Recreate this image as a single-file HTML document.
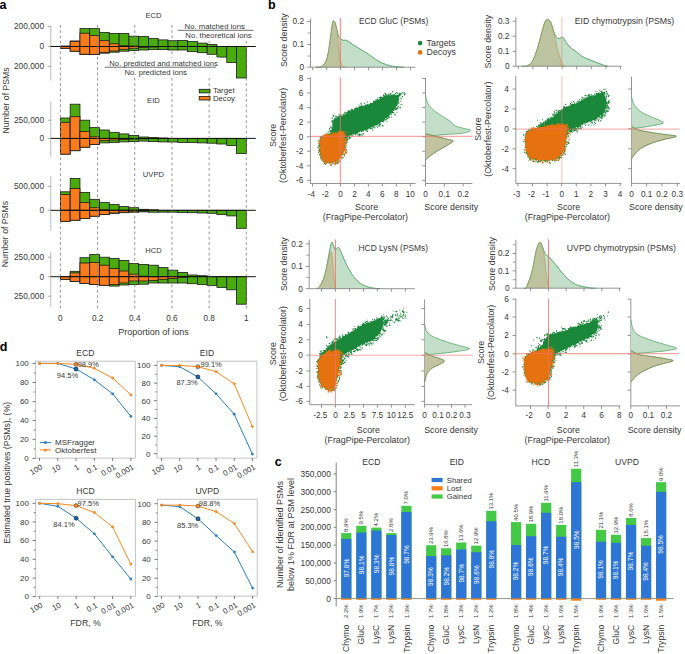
<!DOCTYPE html>
<html><head><meta charset="utf-8"><style>
html,body{margin:0;padding:0;background:#fff;}
body{width:685px;height:654px;overflow:hidden;}
svg{display:block;font-family:"Liberation Sans", sans-serif;}
</style></head><body>
<svg width="685" height="654" viewBox="0 0 685 654">
<rect width="685" height="654" fill="#fff"/>
<text x="-0.50" y="8.80" font-size="12.5" text-anchor="start" fill="#000" font-weight="bold">a</text>
<line x1="50.80" y1="25.70" x2="50.80" y2="80.50" stroke="#bdbdbd" stroke-width="1"/>
<line x1="48.20" y1="26.40" x2="50.80" y2="26.40" stroke="#888" stroke-width="0.8"/>
<text x="44.00" y="29.39" font-size="8.3" text-anchor="end" fill="#383838" font-weight="normal">200,000</text>
<line x1="48.20" y1="46.50" x2="50.80" y2="46.50" stroke="#888" stroke-width="0.8"/>
<text x="44.00" y="49.49" font-size="8.3" text-anchor="end" fill="#383838" font-weight="normal">0</text>
<line x1="48.20" y1="66.20" x2="50.80" y2="66.20" stroke="#888" stroke-width="0.8"/>
<text x="44.00" y="69.19" font-size="8.3" text-anchor="end" fill="#383838" font-weight="normal">200,000</text>
<text x="153.40" y="18.24" font-size="7.6" text-anchor="middle" fill="#383838" font-weight="normal">ECD</text>
<rect x="60.40" y="46.50" width="9.78" height="1.80" fill="#4aab0c" stroke="#1b1b1b" stroke-width="0.8"/>
<rect x="60.40" y="46.00" width="9.78" height="0.50" fill="#fa7b1c" stroke="#1b1b1b" stroke-width="0.8"/>
<rect x="60.40" y="46.50" width="9.78" height="1.80" fill="#fa7b1c" stroke="#1b1b1b" stroke-width="0.8"/>
<rect x="70.18" y="41.00" width="9.78" height="5.50" fill="#4aab0c" stroke="#1b1b1b" stroke-width="0.8"/>
<rect x="70.18" y="46.50" width="9.78" height="4.70" fill="#4aab0c" stroke="#1b1b1b" stroke-width="0.8"/>
<rect x="70.18" y="41.30" width="9.78" height="5.20" fill="#fa7b1c" stroke="#1b1b1b" stroke-width="0.8"/>
<rect x="70.18" y="46.50" width="9.78" height="4.70" fill="#fa7b1c" stroke="#1b1b1b" stroke-width="0.8"/>
<rect x="79.97" y="28.60" width="9.78" height="17.90" fill="#4aab0c" stroke="#1b1b1b" stroke-width="0.8"/>
<rect x="79.97" y="46.50" width="9.78" height="7.90" fill="#4aab0c" stroke="#1b1b1b" stroke-width="0.8"/>
<rect x="79.97" y="33.20" width="9.78" height="13.30" fill="#fa7b1c" stroke="#1b1b1b" stroke-width="0.8"/>
<rect x="79.97" y="46.50" width="9.78" height="7.70" fill="#fa7b1c" stroke="#1b1b1b" stroke-width="0.8"/>
<rect x="89.75" y="28.60" width="9.78" height="17.90" fill="#4aab0c" stroke="#1b1b1b" stroke-width="0.8"/>
<rect x="89.75" y="46.50" width="9.78" height="7.90" fill="#4aab0c" stroke="#1b1b1b" stroke-width="0.8"/>
<rect x="89.75" y="35.40" width="9.78" height="11.10" fill="#fa7b1c" stroke="#1b1b1b" stroke-width="0.8"/>
<rect x="89.75" y="46.50" width="9.78" height="7.90" fill="#fa7b1c" stroke="#1b1b1b" stroke-width="0.8"/>
<rect x="99.54" y="32.50" width="9.78" height="14.00" fill="#4aab0c" stroke="#1b1b1b" stroke-width="0.8"/>
<rect x="99.54" y="46.50" width="9.78" height="6.70" fill="#4aab0c" stroke="#1b1b1b" stroke-width="0.8"/>
<rect x="99.54" y="40.70" width="9.78" height="5.80" fill="#fa7b1c" stroke="#1b1b1b" stroke-width="0.8"/>
<rect x="99.54" y="46.50" width="9.78" height="6.10" fill="#fa7b1c" stroke="#1b1b1b" stroke-width="0.8"/>
<rect x="109.32" y="33.50" width="9.78" height="13.00" fill="#4aab0c" stroke="#1b1b1b" stroke-width="0.8"/>
<rect x="109.32" y="46.50" width="9.78" height="5.70" fill="#4aab0c" stroke="#1b1b1b" stroke-width="0.8"/>
<rect x="109.32" y="43.80" width="9.78" height="2.70" fill="#fa7b1c" stroke="#1b1b1b" stroke-width="0.8"/>
<rect x="109.32" y="46.50" width="9.78" height="4.50" fill="#fa7b1c" stroke="#1b1b1b" stroke-width="0.8"/>
<rect x="119.11" y="33.50" width="9.78" height="13.00" fill="#4aab0c" stroke="#1b1b1b" stroke-width="0.8"/>
<rect x="119.11" y="46.50" width="9.78" height="4.70" fill="#4aab0c" stroke="#1b1b1b" stroke-width="0.8"/>
<rect x="119.11" y="45.70" width="9.78" height="0.80" fill="#fa7b1c" stroke="#1b1b1b" stroke-width="0.8"/>
<rect x="119.11" y="46.50" width="9.78" height="2.80" fill="#fa7b1c" stroke="#1b1b1b" stroke-width="0.8"/>
<rect x="128.89" y="36.20" width="9.78" height="10.30" fill="#4aab0c" stroke="#1b1b1b" stroke-width="0.8"/>
<rect x="128.89" y="46.50" width="9.78" height="4.00" fill="#4aab0c" stroke="#1b1b1b" stroke-width="0.8"/>
<rect x="128.89" y="46.00" width="9.78" height="0.50" fill="#fa7b1c" stroke="#1b1b1b" stroke-width="0.8"/>
<rect x="128.89" y="46.50" width="9.78" height="1.80" fill="#fa7b1c" stroke="#1b1b1b" stroke-width="0.8"/>
<rect x="138.67" y="36.50" width="9.78" height="10.00" fill="#4aab0c" stroke="#1b1b1b" stroke-width="0.8"/>
<rect x="138.67" y="46.50" width="9.78" height="3.50" fill="#4aab0c" stroke="#1b1b1b" stroke-width="0.8"/>
<rect x="138.67" y="46.50" width="9.78" height="1.10" fill="#fa7b1c" stroke="#1b1b1b" stroke-width="0.8"/>
<rect x="148.46" y="38.60" width="9.78" height="7.90" fill="#4aab0c" stroke="#1b1b1b" stroke-width="0.8"/>
<rect x="148.46" y="46.50" width="9.78" height="3.00" fill="#4aab0c" stroke="#1b1b1b" stroke-width="0.8"/>
<rect x="148.46" y="46.50" width="9.78" height="0.50" fill="#fa7b1c" stroke="#1b1b1b" stroke-width="0.8"/>
<rect x="158.24" y="39.90" width="9.78" height="6.60" fill="#4aab0c" stroke="#1b1b1b" stroke-width="0.8"/>
<rect x="158.24" y="46.50" width="9.78" height="3.00" fill="#4aab0c" stroke="#1b1b1b" stroke-width="0.8"/>
<rect x="168.03" y="40.70" width="9.78" height="5.80" fill="#4aab0c" stroke="#1b1b1b" stroke-width="0.8"/>
<rect x="168.03" y="46.50" width="9.78" height="3.50" fill="#4aab0c" stroke="#1b1b1b" stroke-width="0.8"/>
<rect x="177.81" y="40.40" width="9.78" height="6.10" fill="#4aab0c" stroke="#1b1b1b" stroke-width="0.8"/>
<rect x="177.81" y="46.50" width="9.78" height="3.50" fill="#4aab0c" stroke="#1b1b1b" stroke-width="0.8"/>
<rect x="187.59" y="41.50" width="9.78" height="5.00" fill="#4aab0c" stroke="#1b1b1b" stroke-width="0.8"/>
<rect x="187.59" y="46.50" width="9.78" height="5.10" fill="#4aab0c" stroke="#1b1b1b" stroke-width="0.8"/>
<rect x="197.38" y="43.10" width="9.78" height="3.40" fill="#4aab0c" stroke="#1b1b1b" stroke-width="0.8"/>
<rect x="197.38" y="46.50" width="9.78" height="6.20" fill="#4aab0c" stroke="#1b1b1b" stroke-width="0.8"/>
<rect x="207.16" y="44.40" width="9.78" height="2.10" fill="#4aab0c" stroke="#1b1b1b" stroke-width="0.8"/>
<rect x="207.16" y="46.50" width="9.78" height="7.80" fill="#4aab0c" stroke="#1b1b1b" stroke-width="0.8"/>
<rect x="216.95" y="46.50" width="9.78" height="10.60" fill="#4aab0c" stroke="#1b1b1b" stroke-width="0.8"/>
<rect x="226.73" y="46.50" width="9.78" height="15.90" fill="#4aab0c" stroke="#1b1b1b" stroke-width="0.8"/>
<rect x="236.52" y="46.50" width="9.78" height="31.50" fill="#4aab0c" stroke="#1b1b1b" stroke-width="0.8"/>
<line x1="50.80" y1="46.50" x2="255.80" y2="46.50" stroke="#111" stroke-width="1.0"/>
<line x1="50.80" y1="101.40" x2="50.80" y2="156.90" stroke="#bdbdbd" stroke-width="1"/>
<line x1="48.20" y1="120.20" x2="50.80" y2="120.20" stroke="#888" stroke-width="0.8"/>
<text x="44.00" y="123.19" font-size="8.3" text-anchor="end" fill="#383838" font-weight="normal">250,000</text>
<line x1="48.20" y1="138.40" x2="50.80" y2="138.40" stroke="#888" stroke-width="0.8"/>
<text x="44.00" y="141.39" font-size="8.3" text-anchor="end" fill="#383838" font-weight="normal">0</text>
<text x="153.40" y="103.34" font-size="7.6" text-anchor="middle" fill="#383838" font-weight="normal">EID</text>
<rect x="60.40" y="118.00" width="9.78" height="20.40" fill="#4aab0c" stroke="#1b1b1b" stroke-width="0.8"/>
<rect x="60.40" y="138.40" width="9.78" height="15.70" fill="#4aab0c" stroke="#1b1b1b" stroke-width="0.8"/>
<rect x="60.40" y="122.30" width="9.78" height="16.10" fill="#fa7b1c" stroke="#1b1b1b" stroke-width="0.8"/>
<rect x="60.40" y="138.40" width="9.78" height="15.70" fill="#fa7b1c" stroke="#1b1b1b" stroke-width="0.8"/>
<rect x="70.18" y="104.20" width="9.78" height="34.20" fill="#4aab0c" stroke="#1b1b1b" stroke-width="0.8"/>
<rect x="70.18" y="138.40" width="9.78" height="12.30" fill="#4aab0c" stroke="#1b1b1b" stroke-width="0.8"/>
<rect x="70.18" y="116.70" width="9.78" height="21.70" fill="#fa7b1c" stroke="#1b1b1b" stroke-width="0.8"/>
<rect x="70.18" y="138.40" width="9.78" height="12.30" fill="#fa7b1c" stroke="#1b1b1b" stroke-width="0.8"/>
<rect x="79.97" y="120.20" width="9.78" height="18.20" fill="#4aab0c" stroke="#1b1b1b" stroke-width="0.8"/>
<rect x="79.97" y="138.40" width="9.78" height="8.80" fill="#4aab0c" stroke="#1b1b1b" stroke-width="0.8"/>
<rect x="79.97" y="131.60" width="9.78" height="6.80" fill="#fa7b1c" stroke="#1b1b1b" stroke-width="0.8"/>
<rect x="79.97" y="138.40" width="9.78" height="8.80" fill="#fa7b1c" stroke="#1b1b1b" stroke-width="0.8"/>
<rect x="89.75" y="127.60" width="9.78" height="10.80" fill="#4aab0c" stroke="#1b1b1b" stroke-width="0.8"/>
<rect x="89.75" y="138.40" width="9.78" height="6.10" fill="#4aab0c" stroke="#1b1b1b" stroke-width="0.8"/>
<rect x="89.75" y="136.80" width="9.78" height="1.60" fill="#fa7b1c" stroke="#1b1b1b" stroke-width="0.8"/>
<rect x="89.75" y="138.40" width="9.78" height="6.10" fill="#fa7b1c" stroke="#1b1b1b" stroke-width="0.8"/>
<rect x="99.54" y="130.00" width="9.78" height="8.40" fill="#4aab0c" stroke="#1b1b1b" stroke-width="0.8"/>
<rect x="99.54" y="138.40" width="9.78" height="4.50" fill="#4aab0c" stroke="#1b1b1b" stroke-width="0.8"/>
<rect x="99.54" y="138.40" width="9.78" height="2.10" fill="#fa7b1c" stroke="#1b1b1b" stroke-width="0.8"/>
<rect x="109.32" y="132.30" width="9.78" height="6.10" fill="#4aab0c" stroke="#1b1b1b" stroke-width="0.8"/>
<rect x="109.32" y="138.40" width="9.78" height="4.00" fill="#4aab0c" stroke="#1b1b1b" stroke-width="0.8"/>
<rect x="109.32" y="138.40" width="9.78" height="1.60" fill="#fa7b1c" stroke="#1b1b1b" stroke-width="0.8"/>
<rect x="119.11" y="133.90" width="9.78" height="4.50" fill="#4aab0c" stroke="#1b1b1b" stroke-width="0.8"/>
<rect x="119.11" y="138.40" width="9.78" height="3.50" fill="#4aab0c" stroke="#1b1b1b" stroke-width="0.8"/>
<rect x="119.11" y="138.40" width="9.78" height="1.10" fill="#fa7b1c" stroke="#1b1b1b" stroke-width="0.8"/>
<rect x="128.89" y="135.50" width="9.78" height="2.90" fill="#4aab0c" stroke="#1b1b1b" stroke-width="0.8"/>
<rect x="128.89" y="138.40" width="9.78" height="3.20" fill="#4aab0c" stroke="#1b1b1b" stroke-width="0.8"/>
<rect x="128.89" y="138.40" width="9.78" height="0.60" fill="#fa7b1c" stroke="#1b1b1b" stroke-width="0.8"/>
<rect x="138.67" y="137.00" width="9.78" height="1.40" fill="#4aab0c" stroke="#1b1b1b" stroke-width="0.8"/>
<rect x="138.67" y="138.40" width="9.78" height="2.70" fill="#4aab0c" stroke="#1b1b1b" stroke-width="0.8"/>
<rect x="138.67" y="138.40" width="9.78" height="0.40" fill="#fa7b1c" stroke="#1b1b1b" stroke-width="0.8"/>
<rect x="148.46" y="137.60" width="9.78" height="0.80" fill="#4aab0c" stroke="#1b1b1b" stroke-width="0.8"/>
<rect x="148.46" y="138.40" width="9.78" height="3.20" fill="#4aab0c" stroke="#1b1b1b" stroke-width="0.8"/>
<rect x="158.24" y="138.00" width="9.78" height="0.40" fill="#4aab0c" stroke="#1b1b1b" stroke-width="0.8"/>
<rect x="158.24" y="138.40" width="9.78" height="3.50" fill="#4aab0c" stroke="#1b1b1b" stroke-width="0.8"/>
<rect x="168.03" y="138.40" width="9.78" height="3.60" fill="#4aab0c" stroke="#1b1b1b" stroke-width="0.8"/>
<rect x="177.81" y="138.40" width="9.78" height="4.00" fill="#4aab0c" stroke="#1b1b1b" stroke-width="0.8"/>
<rect x="187.59" y="138.40" width="9.78" height="4.00" fill="#4aab0c" stroke="#1b1b1b" stroke-width="0.8"/>
<rect x="197.38" y="138.40" width="9.78" height="4.50" fill="#4aab0c" stroke="#1b1b1b" stroke-width="0.8"/>
<rect x="207.16" y="138.40" width="9.78" height="4.80" fill="#4aab0c" stroke="#1b1b1b" stroke-width="0.8"/>
<rect x="216.95" y="138.40" width="9.78" height="5.60" fill="#4aab0c" stroke="#1b1b1b" stroke-width="0.8"/>
<rect x="226.73" y="138.40" width="9.78" height="7.20" fill="#4aab0c" stroke="#1b1b1b" stroke-width="0.8"/>
<rect x="236.52" y="138.40" width="9.78" height="15.20" fill="#4aab0c" stroke="#1b1b1b" stroke-width="0.8"/>
<line x1="50.80" y1="138.40" x2="255.80" y2="138.40" stroke="#111" stroke-width="1.0"/>
<line x1="50.80" y1="176.00" x2="50.80" y2="231.00" stroke="#bdbdbd" stroke-width="1"/>
<line x1="48.20" y1="186.20" x2="50.80" y2="186.20" stroke="#888" stroke-width="0.8"/>
<text x="44.00" y="189.19" font-size="8.3" text-anchor="end" fill="#383838" font-weight="normal">500,000</text>
<line x1="48.20" y1="210.30" x2="50.80" y2="210.30" stroke="#888" stroke-width="0.8"/>
<text x="44.00" y="213.29" font-size="8.3" text-anchor="end" fill="#383838" font-weight="normal">0</text>
<text x="153.40" y="176.84" font-size="7.6" text-anchor="middle" fill="#383838" font-weight="normal">UVPD</text>
<rect x="60.40" y="191.80" width="9.78" height="18.50" fill="#4aab0c" stroke="#1b1b1b" stroke-width="0.8"/>
<rect x="60.40" y="210.30" width="9.78" height="11.00" fill="#4aab0c" stroke="#1b1b1b" stroke-width="0.8"/>
<rect x="60.40" y="194.50" width="9.78" height="15.80" fill="#fa7b1c" stroke="#1b1b1b" stroke-width="0.8"/>
<rect x="60.40" y="210.30" width="9.78" height="11.00" fill="#fa7b1c" stroke="#1b1b1b" stroke-width="0.8"/>
<rect x="70.18" y="178.50" width="9.78" height="31.80" fill="#4aab0c" stroke="#1b1b1b" stroke-width="0.8"/>
<rect x="70.18" y="210.30" width="9.78" height="9.90" fill="#4aab0c" stroke="#1b1b1b" stroke-width="0.8"/>
<rect x="70.18" y="188.60" width="9.78" height="21.70" fill="#fa7b1c" stroke="#1b1b1b" stroke-width="0.8"/>
<rect x="70.18" y="210.30" width="9.78" height="9.90" fill="#fa7b1c" stroke="#1b1b1b" stroke-width="0.8"/>
<rect x="79.97" y="192.40" width="9.78" height="17.90" fill="#4aab0c" stroke="#1b1b1b" stroke-width="0.8"/>
<rect x="79.97" y="210.30" width="9.78" height="8.30" fill="#4aab0c" stroke="#1b1b1b" stroke-width="0.8"/>
<rect x="79.97" y="202.60" width="9.78" height="7.70" fill="#fa7b1c" stroke="#1b1b1b" stroke-width="0.8"/>
<rect x="79.97" y="210.30" width="9.78" height="8.30" fill="#fa7b1c" stroke="#1b1b1b" stroke-width="0.8"/>
<rect x="89.75" y="199.30" width="9.78" height="11.00" fill="#4aab0c" stroke="#1b1b1b" stroke-width="0.8"/>
<rect x="89.75" y="210.30" width="9.78" height="5.90" fill="#4aab0c" stroke="#1b1b1b" stroke-width="0.8"/>
<rect x="89.75" y="207.70" width="9.78" height="2.60" fill="#fa7b1c" stroke="#1b1b1b" stroke-width="0.8"/>
<rect x="89.75" y="210.30" width="9.78" height="5.90" fill="#fa7b1c" stroke="#1b1b1b" stroke-width="0.8"/>
<rect x="99.54" y="202.60" width="9.78" height="7.70" fill="#4aab0c" stroke="#1b1b1b" stroke-width="0.8"/>
<rect x="99.54" y="210.30" width="9.78" height="4.30" fill="#4aab0c" stroke="#1b1b1b" stroke-width="0.8"/>
<rect x="99.54" y="209.80" width="9.78" height="0.50" fill="#fa7b1c" stroke="#1b1b1b" stroke-width="0.8"/>
<rect x="99.54" y="210.30" width="9.78" height="4.30" fill="#fa7b1c" stroke="#1b1b1b" stroke-width="0.8"/>
<rect x="109.32" y="204.50" width="9.78" height="5.80" fill="#4aab0c" stroke="#1b1b1b" stroke-width="0.8"/>
<rect x="109.32" y="210.30" width="9.78" height="3.00" fill="#4aab0c" stroke="#1b1b1b" stroke-width="0.8"/>
<rect x="109.32" y="210.30" width="9.78" height="2.70" fill="#fa7b1c" stroke="#1b1b1b" stroke-width="0.8"/>
<rect x="119.11" y="206.60" width="9.78" height="3.70" fill="#4aab0c" stroke="#1b1b1b" stroke-width="0.8"/>
<rect x="119.11" y="210.30" width="9.78" height="2.40" fill="#4aab0c" stroke="#1b1b1b" stroke-width="0.8"/>
<rect x="119.11" y="210.30" width="9.78" height="1.90" fill="#fa7b1c" stroke="#1b1b1b" stroke-width="0.8"/>
<rect x="128.89" y="207.70" width="9.78" height="2.60" fill="#4aab0c" stroke="#1b1b1b" stroke-width="0.8"/>
<rect x="128.89" y="210.30" width="9.78" height="1.90" fill="#4aab0c" stroke="#1b1b1b" stroke-width="0.8"/>
<rect x="128.89" y="210.30" width="9.78" height="1.50" fill="#fa7b1c" stroke="#1b1b1b" stroke-width="0.8"/>
<rect x="138.67" y="209.30" width="9.78" height="1.00" fill="#4aab0c" stroke="#1b1b1b" stroke-width="0.8"/>
<rect x="138.67" y="210.30" width="9.78" height="1.60" fill="#4aab0c" stroke="#1b1b1b" stroke-width="0.8"/>
<rect x="138.67" y="210.30" width="9.78" height="0.70" fill="#fa7b1c" stroke="#1b1b1b" stroke-width="0.8"/>
<rect x="148.46" y="209.80" width="9.78" height="0.50" fill="#4aab0c" stroke="#1b1b1b" stroke-width="0.8"/>
<rect x="148.46" y="210.30" width="9.78" height="1.90" fill="#4aab0c" stroke="#1b1b1b" stroke-width="0.8"/>
<rect x="158.24" y="210.30" width="9.78" height="1.90" fill="#4aab0c" stroke="#1b1b1b" stroke-width="0.8"/>
<rect x="168.03" y="210.30" width="9.78" height="1.90" fill="#4aab0c" stroke="#1b1b1b" stroke-width="0.8"/>
<rect x="177.81" y="210.30" width="9.78" height="2.20" fill="#4aab0c" stroke="#1b1b1b" stroke-width="0.8"/>
<rect x="187.59" y="210.30" width="9.78" height="2.40" fill="#4aab0c" stroke="#1b1b1b" stroke-width="0.8"/>
<rect x="197.38" y="210.30" width="9.78" height="2.70" fill="#4aab0c" stroke="#1b1b1b" stroke-width="0.8"/>
<rect x="207.16" y="210.30" width="9.78" height="3.00" fill="#4aab0c" stroke="#1b1b1b" stroke-width="0.8"/>
<rect x="216.95" y="210.30" width="9.78" height="4.30" fill="#4aab0c" stroke="#1b1b1b" stroke-width="0.8"/>
<rect x="226.73" y="210.30" width="9.78" height="5.60" fill="#4aab0c" stroke="#1b1b1b" stroke-width="0.8"/>
<rect x="236.52" y="210.30" width="9.78" height="18.00" fill="#4aab0c" stroke="#1b1b1b" stroke-width="0.8"/>
<line x1="50.80" y1="210.30" x2="255.80" y2="210.30" stroke="#111" stroke-width="1.0"/>
<line x1="50.80" y1="252.00" x2="50.80" y2="307.00" stroke="#bdbdbd" stroke-width="1"/>
<line x1="48.20" y1="257.20" x2="50.80" y2="257.20" stroke="#888" stroke-width="0.8"/>
<text x="44.00" y="260.19" font-size="8.3" text-anchor="end" fill="#383838" font-weight="normal">250,000</text>
<line x1="48.20" y1="276.70" x2="50.80" y2="276.70" stroke="#888" stroke-width="0.8"/>
<text x="44.00" y="279.69" font-size="8.3" text-anchor="end" fill="#383838" font-weight="normal">0</text>
<line x1="48.20" y1="296.20" x2="50.80" y2="296.20" stroke="#888" stroke-width="0.8"/>
<text x="44.00" y="299.19" font-size="8.3" text-anchor="end" fill="#383838" font-weight="normal">250,000</text>
<text x="153.40" y="253.14" font-size="7.6" text-anchor="middle" fill="#383838" font-weight="normal">HCD</text>
<rect x="60.40" y="276.70" width="9.78" height="2.60" fill="#4aab0c" stroke="#1b1b1b" stroke-width="0.8"/>
<rect x="60.40" y="276.70" width="9.78" height="2.60" fill="#fa7b1c" stroke="#1b1b1b" stroke-width="0.8"/>
<rect x="70.18" y="271.30" width="9.78" height="5.40" fill="#4aab0c" stroke="#1b1b1b" stroke-width="0.8"/>
<rect x="70.18" y="276.70" width="9.78" height="4.70" fill="#4aab0c" stroke="#1b1b1b" stroke-width="0.8"/>
<rect x="70.18" y="272.90" width="9.78" height="3.80" fill="#fa7b1c" stroke="#1b1b1b" stroke-width="0.8"/>
<rect x="70.18" y="276.70" width="9.78" height="4.70" fill="#fa7b1c" stroke="#1b1b1b" stroke-width="0.8"/>
<rect x="79.97" y="257.70" width="9.78" height="19.00" fill="#4aab0c" stroke="#1b1b1b" stroke-width="0.8"/>
<rect x="79.97" y="276.70" width="9.78" height="6.70" fill="#4aab0c" stroke="#1b1b1b" stroke-width="0.8"/>
<rect x="79.97" y="263.00" width="9.78" height="13.70" fill="#fa7b1c" stroke="#1b1b1b" stroke-width="0.8"/>
<rect x="79.97" y="276.70" width="9.78" height="6.70" fill="#fa7b1c" stroke="#1b1b1b" stroke-width="0.8"/>
<rect x="89.75" y="254.50" width="9.78" height="22.20" fill="#4aab0c" stroke="#1b1b1b" stroke-width="0.8"/>
<rect x="89.75" y="276.70" width="9.78" height="7.90" fill="#4aab0c" stroke="#1b1b1b" stroke-width="0.8"/>
<rect x="89.75" y="262.50" width="9.78" height="14.20" fill="#fa7b1c" stroke="#1b1b1b" stroke-width="0.8"/>
<rect x="89.75" y="276.70" width="9.78" height="7.90" fill="#fa7b1c" stroke="#1b1b1b" stroke-width="0.8"/>
<rect x="99.54" y="257.20" width="9.78" height="19.50" fill="#4aab0c" stroke="#1b1b1b" stroke-width="0.8"/>
<rect x="99.54" y="276.70" width="9.78" height="8.60" fill="#4aab0c" stroke="#1b1b1b" stroke-width="0.8"/>
<rect x="99.54" y="265.20" width="9.78" height="11.50" fill="#fa7b1c" stroke="#1b1b1b" stroke-width="0.8"/>
<rect x="99.54" y="276.70" width="9.78" height="8.60" fill="#fa7b1c" stroke="#1b1b1b" stroke-width="0.8"/>
<rect x="109.32" y="258.50" width="9.78" height="18.20" fill="#4aab0c" stroke="#1b1b1b" stroke-width="0.8"/>
<rect x="109.32" y="276.70" width="9.78" height="9.40" fill="#4aab0c" stroke="#1b1b1b" stroke-width="0.8"/>
<rect x="109.32" y="268.60" width="9.78" height="8.10" fill="#fa7b1c" stroke="#1b1b1b" stroke-width="0.8"/>
<rect x="109.32" y="276.70" width="9.78" height="7.90" fill="#fa7b1c" stroke="#1b1b1b" stroke-width="0.8"/>
<rect x="119.11" y="260.40" width="9.78" height="16.30" fill="#4aab0c" stroke="#1b1b1b" stroke-width="0.8"/>
<rect x="119.11" y="276.70" width="9.78" height="8.30" fill="#4aab0c" stroke="#1b1b1b" stroke-width="0.8"/>
<rect x="119.11" y="271.00" width="9.78" height="5.70" fill="#fa7b1c" stroke="#1b1b1b" stroke-width="0.8"/>
<rect x="119.11" y="276.70" width="9.78" height="6.30" fill="#fa7b1c" stroke="#1b1b1b" stroke-width="0.8"/>
<rect x="128.89" y="263.60" width="9.78" height="13.10" fill="#4aab0c" stroke="#1b1b1b" stroke-width="0.8"/>
<rect x="128.89" y="276.70" width="9.78" height="7.80" fill="#4aab0c" stroke="#1b1b1b" stroke-width="0.8"/>
<rect x="128.89" y="274.20" width="9.78" height="2.50" fill="#fa7b1c" stroke="#1b1b1b" stroke-width="0.8"/>
<rect x="128.89" y="276.70" width="9.78" height="4.30" fill="#fa7b1c" stroke="#1b1b1b" stroke-width="0.8"/>
<rect x="138.67" y="264.40" width="9.78" height="12.30" fill="#4aab0c" stroke="#1b1b1b" stroke-width="0.8"/>
<rect x="138.67" y="276.70" width="9.78" height="7.50" fill="#4aab0c" stroke="#1b1b1b" stroke-width="0.8"/>
<rect x="138.67" y="276.10" width="9.78" height="0.60" fill="#fa7b1c" stroke="#1b1b1b" stroke-width="0.8"/>
<rect x="138.67" y="276.70" width="9.78" height="4.30" fill="#fa7b1c" stroke="#1b1b1b" stroke-width="0.8"/>
<rect x="148.46" y="265.20" width="9.78" height="11.50" fill="#4aab0c" stroke="#1b1b1b" stroke-width="0.8"/>
<rect x="148.46" y="276.70" width="9.78" height="6.30" fill="#4aab0c" stroke="#1b1b1b" stroke-width="0.8"/>
<rect x="148.46" y="276.70" width="9.78" height="3.80" fill="#fa7b1c" stroke="#1b1b1b" stroke-width="0.8"/>
<rect x="158.24" y="267.60" width="9.78" height="9.10" fill="#4aab0c" stroke="#1b1b1b" stroke-width="0.8"/>
<rect x="158.24" y="276.70" width="9.78" height="6.30" fill="#4aab0c" stroke="#1b1b1b" stroke-width="0.8"/>
<rect x="158.24" y="276.70" width="9.78" height="2.60" fill="#fa7b1c" stroke="#1b1b1b" stroke-width="0.8"/>
<rect x="168.03" y="270.20" width="9.78" height="6.50" fill="#4aab0c" stroke="#1b1b1b" stroke-width="0.8"/>
<rect x="168.03" y="276.70" width="9.78" height="6.30" fill="#4aab0c" stroke="#1b1b1b" stroke-width="0.8"/>
<rect x="168.03" y="276.70" width="9.78" height="1.80" fill="#fa7b1c" stroke="#1b1b1b" stroke-width="0.8"/>
<rect x="177.81" y="272.40" width="9.78" height="4.30" fill="#4aab0c" stroke="#1b1b1b" stroke-width="0.8"/>
<rect x="177.81" y="276.70" width="9.78" height="6.30" fill="#4aab0c" stroke="#1b1b1b" stroke-width="0.8"/>
<rect x="177.81" y="276.70" width="9.78" height="0.80" fill="#fa7b1c" stroke="#1b1b1b" stroke-width="0.8"/>
<rect x="187.59" y="275.00" width="9.78" height="1.70" fill="#4aab0c" stroke="#1b1b1b" stroke-width="0.8"/>
<rect x="187.59" y="276.70" width="9.78" height="7.00" fill="#4aab0c" stroke="#1b1b1b" stroke-width="0.8"/>
<rect x="197.38" y="275.70" width="9.78" height="1.00" fill="#4aab0c" stroke="#1b1b1b" stroke-width="0.8"/>
<rect x="197.38" y="276.70" width="9.78" height="7.80" fill="#4aab0c" stroke="#1b1b1b" stroke-width="0.8"/>
<rect x="207.16" y="276.70" width="9.78" height="8.70" fill="#4aab0c" stroke="#1b1b1b" stroke-width="0.8"/>
<rect x="216.95" y="276.70" width="9.78" height="10.70" fill="#4aab0c" stroke="#1b1b1b" stroke-width="0.8"/>
<rect x="226.73" y="276.70" width="9.78" height="13.10" fill="#4aab0c" stroke="#1b1b1b" stroke-width="0.8"/>
<rect x="236.52" y="276.70" width="9.78" height="27.50" fill="#4aab0c" stroke="#1b1b1b" stroke-width="0.8"/>
<line x1="50.80" y1="276.70" x2="255.80" y2="276.70" stroke="#111" stroke-width="1.0"/>
<line x1="60.40" y1="24.90" x2="60.40" y2="310.50" stroke="#7a7a7a" stroke-width="0.8" stroke-dasharray="2.7,2.6"/>
<line x1="97.58" y1="24.90" x2="97.58" y2="310.50" stroke="#7a7a7a" stroke-width="0.8" stroke-dasharray="2.7,2.6"/>
<line x1="134.76" y1="24.90" x2="134.76" y2="310.50" stroke="#7a7a7a" stroke-width="0.8" stroke-dasharray="2.7,2.6"/>
<line x1="171.94" y1="24.90" x2="171.94" y2="310.50" stroke="#7a7a7a" stroke-width="0.8" stroke-dasharray="2.7,2.6"/>
<line x1="209.12" y1="24.90" x2="209.12" y2="310.50" stroke="#7a7a7a" stroke-width="0.8" stroke-dasharray="2.7,2.6"/>
<line x1="246.30" y1="24.90" x2="246.30" y2="310.50" stroke="#7a7a7a" stroke-width="0.8" stroke-dasharray="2.7,2.6"/>
<text x="60.40" y="321.35" font-size="8.2" text-anchor="middle" fill="#383838" font-weight="normal">0</text>
<text x="97.58" y="321.35" font-size="8.2" text-anchor="middle" fill="#383838" font-weight="normal">0.2</text>
<text x="134.76" y="321.35" font-size="8.2" text-anchor="middle" fill="#383838" font-weight="normal">0.4</text>
<text x="171.94" y="321.35" font-size="8.2" text-anchor="middle" fill="#383838" font-weight="normal">0.6</text>
<text x="209.12" y="321.35" font-size="8.2" text-anchor="middle" fill="#383838" font-weight="normal">0.8</text>
<text x="246.30" y="321.35" font-size="8.2" text-anchor="middle" fill="#383838" font-weight="normal">1</text>
<text x="153.40" y="334.84" font-size="9.0" text-anchor="middle" fill="#383838" font-weight="normal">Proportion of ions</text>
<text x="5.50" y="103.53" font-size="8.7" text-anchor="middle" fill="#383838" font-weight="normal" transform="rotate(-90 5.50 100.40)">Number of PSMs</text>
<text x="5.30" y="237.23" font-size="8.7" text-anchor="middle" fill="#383838" font-weight="normal" transform="rotate(-90 5.30 234.10)">Number of PSMs</text>
<rect x="176.50" y="21.00" width="78.50" height="18.60" fill="#fff" stroke="none" stroke-width="0"/>
<rect x="103.00" y="57.60" width="116.50" height="19.00" fill="#fff" stroke="none" stroke-width="0"/>
<text x="214.70" y="29.39" font-size="7.75" text-anchor="middle" fill="#383838" font-weight="normal">No. matched ions</text>
<line x1="177.80" y1="30.30" x2="253.50" y2="30.30" stroke="#333" stroke-width="0.7"/>
<text x="218.50" y="37.69" font-size="7.75" text-anchor="middle" fill="#383838" font-weight="normal">No. theoretical ions</text>
<text x="163.60" y="65.87" font-size="7.7" text-anchor="middle" fill="#383838" font-weight="normal">No. predicted and matched ions</text>
<line x1="104.70" y1="67.20" x2="216.00" y2="67.20" stroke="#333" stroke-width="0.7"/>
<text x="155.70" y="75.29" font-size="7.75" text-anchor="middle" fill="#383838" font-weight="normal">No. predicted ions</text>
<rect x="199.20" y="89.30" width="10.80" height="3.60" fill="#4aab0c" stroke="#1b1b1b" stroke-width="0.8"/>
<rect x="199.20" y="96.40" width="10.80" height="3.60" fill="#fa7b1c" stroke="#1b1b1b" stroke-width="0.8"/>
<text x="212.90" y="93.41" font-size="7.8" text-anchor="start" fill="#383838" font-weight="normal">Target</text>
<text x="212.90" y="100.81" font-size="7.8" text-anchor="start" fill="#383838" font-weight="normal">Decoy</text>
<text x="267.90" y="9.00" font-size="12.5" text-anchor="start" fill="#000" font-weight="bold">b</text>
<line x1="310.50" y1="18.40" x2="310.50" y2="67.20" stroke="#7a7a7a" stroke-width="0.8"/>
<line x1="307.20" y1="21.50" x2="310.50" y2="21.50" stroke="#7a7a7a" stroke-width="0.8"/>
<text x="304.10" y="24.49" font-size="8.3" text-anchor="end" fill="#383838" font-weight="normal">0.2</text>
<line x1="307.20" y1="44.50" x2="310.50" y2="44.50" stroke="#7a7a7a" stroke-width="0.8"/>
<text x="304.10" y="47.49" font-size="8.3" text-anchor="end" fill="#383838" font-weight="normal">0.1</text>
<line x1="307.20" y1="67.10" x2="310.50" y2="67.10" stroke="#7a7a7a" stroke-width="0.8"/>
<text x="304.10" y="70.09" font-size="8.3" text-anchor="end" fill="#383838" font-weight="normal">0</text>
<line x1="307.50" y1="33.00" x2="310.50" y2="33.00" stroke="#7a7a7a" stroke-width="0.7"/>
<line x1="307.50" y1="56.00" x2="310.50" y2="56.00" stroke="#7a7a7a" stroke-width="0.7"/>
<path d="M316.00,67.20 C316.72,67.17 319.07,67.35 320.30,67.00 C321.53,66.65 322.37,66.27 323.40,65.10 C324.43,63.93 325.57,62.73 326.50,60.00 C327.43,57.27 328.23,53.13 329.00,48.70 C329.77,44.27 330.50,37.65 331.10,33.40 C331.70,29.15 332.15,25.28 332.60,23.20 C333.05,21.12 333.37,20.85 333.80,20.90 C334.23,20.95 334.72,22.10 335.20,23.50 C335.68,24.90 336.12,27.13 336.70,29.30 C337.28,31.47 338.02,34.88 338.70,36.50 C339.38,38.12 340.03,38.37 340.80,39.00 C341.57,39.63 342.37,40.08 343.30,40.30 C344.23,40.52 345.28,39.92 346.40,40.30 C347.52,40.68 348.55,41.62 350.00,42.60 C351.45,43.58 353.07,44.92 355.10,46.20 C357.13,47.48 359.82,48.85 362.20,50.30 C364.58,51.75 367.27,53.45 369.40,54.90 C371.53,56.35 372.95,57.68 375.00,59.00 C377.05,60.32 378.87,61.60 381.70,62.80 C384.53,64.00 388.28,65.47 392.00,66.20 C395.72,66.93 402.00,67.03 404.00,67.20 L404.00,67.20 L316.00,67.20Z" fill="#c3dfca" stroke="none"/>
<path d="M316.00,67.20 C316.72,67.17 319.07,67.35 320.30,67.00 C321.53,66.65 322.37,66.27 323.40,65.10 C324.43,63.93 325.57,62.73 326.50,60.00 C327.43,57.27 328.23,53.13 329.00,48.70 C329.77,44.27 330.50,37.65 331.10,33.40 C331.70,29.15 332.15,25.28 332.60,23.20 C333.05,21.12 333.37,20.85 333.80,20.90 C334.23,20.95 334.72,22.10 335.20,23.50 C335.68,24.90 336.12,27.13 336.70,29.30 C337.28,31.47 338.02,34.88 338.70,36.50 C339.38,38.12 340.03,38.37 340.80,39.00 C341.57,39.63 342.37,40.08 343.30,40.30 C344.23,40.52 345.28,39.92 346.40,40.30 C347.52,40.68 348.55,41.62 350.00,42.60 C351.45,43.58 353.07,44.92 355.10,46.20 C357.13,47.48 359.82,48.85 362.20,50.30 C364.58,51.75 367.27,53.45 369.40,54.90 C371.53,56.35 372.95,57.68 375.00,59.00 C377.05,60.32 378.87,61.60 381.70,62.80 C384.53,64.00 388.28,65.47 392.00,66.20 C395.72,66.93 402.00,67.03 404.00,67.20" fill="none" stroke="#52a868" stroke-width="0.8"/>
<path d="M316.00,67.20 C316.72,67.17 319.07,67.35 320.30,67.00 C321.53,66.65 322.37,66.27 323.40,65.10 C324.43,63.93 325.57,62.73 326.50,60.00 C327.43,57.27 328.23,53.13 329.00,48.70 C329.77,44.27 330.50,37.65 331.10,33.40 C331.70,29.15 332.15,25.28 332.60,23.20 C333.05,21.12 333.28,20.73 333.80,20.90 C334.32,21.07 335.13,22.12 335.70,24.20 C336.27,26.28 336.70,29.32 337.20,33.40 C337.70,37.48 338.18,44.27 338.70,48.70 C339.22,53.13 339.70,57.18 340.30,60.00 C340.90,62.82 341.63,64.42 342.30,65.60 C342.97,66.78 343.68,66.83 344.30,67.10 C344.92,67.37 345.72,67.18 346.00,67.20 L346.00,67.20 L316.00,67.20Z" fill="#bcbd98" fill-opacity="0.85" stroke="none"/>
<path d="M316.00,67.20 C316.72,67.17 319.07,67.35 320.30,67.00 C321.53,66.65 322.37,66.27 323.40,65.10 C324.43,63.93 325.57,62.73 326.50,60.00 C327.43,57.27 328.23,53.13 329.00,48.70 C329.77,44.27 330.50,37.65 331.10,33.40 C331.70,29.15 332.15,25.28 332.60,23.20 C333.05,21.12 333.28,20.73 333.80,20.90 C334.32,21.07 335.13,22.12 335.70,24.20 C336.27,26.28 336.70,29.32 337.20,33.40 C337.70,37.48 338.18,44.27 338.70,48.70 C339.22,53.13 339.70,57.18 340.30,60.00 C340.90,62.82 341.63,64.42 342.30,65.60 C342.97,66.78 343.68,66.83 344.30,67.10 C344.92,67.37 345.72,67.18 346.00,67.20" fill="none" stroke="#c0985a" stroke-width="0.7"/>
<path d="M316.00,67.20 C316.72,67.17 319.07,67.35 320.30,67.00 C321.53,66.65 322.37,66.27 323.40,65.10 C324.43,63.93 325.57,62.73 326.50,60.00 C327.43,57.27 328.23,53.13 329.00,48.70 C329.77,44.27 330.50,37.65 331.10,33.40 C331.70,29.15 332.15,25.28 332.60,23.20 C333.05,21.12 333.37,20.85 333.80,20.90 C334.23,20.95 334.72,22.10 335.20,23.50 C335.68,24.90 336.12,27.13 336.70,29.30 C337.28,31.47 338.02,34.88 338.70,36.50 C339.38,38.12 340.03,38.37 340.80,39.00 C341.57,39.63 342.37,40.08 343.30,40.30 C344.23,40.52 345.28,39.92 346.40,40.30 C347.52,40.68 348.55,41.62 350.00,42.60 C351.45,43.58 353.07,44.92 355.10,46.20 C357.13,47.48 359.82,48.85 362.20,50.30 C364.58,51.75 367.27,53.45 369.40,54.90 C371.53,56.35 372.95,57.68 375.00,59.00 C377.05,60.32 378.87,61.60 381.70,62.80 C384.53,64.00 388.28,65.47 392.00,66.20 C395.72,66.93 402.00,67.03 404.00,67.20" fill="none" stroke="#52a868" stroke-width="0.6" stroke-opacity="0.7"/>
<line x1="310.50" y1="67.20" x2="415.50" y2="67.20" stroke="#7a7a7a" stroke-width="0.8"/>
<line x1="312.70" y1="67.20" x2="312.70" y2="70.20" stroke="#7a7a7a" stroke-width="0.8"/>
<line x1="326.66" y1="67.20" x2="326.66" y2="70.20" stroke="#7a7a7a" stroke-width="0.8"/>
<line x1="340.62" y1="67.20" x2="340.62" y2="70.20" stroke="#7a7a7a" stroke-width="0.8"/>
<line x1="354.58" y1="67.20" x2="354.58" y2="70.20" stroke="#7a7a7a" stroke-width="0.8"/>
<line x1="368.54" y1="67.20" x2="368.54" y2="70.20" stroke="#7a7a7a" stroke-width="0.8"/>
<line x1="382.50" y1="67.20" x2="382.50" y2="70.20" stroke="#7a7a7a" stroke-width="0.8"/>
<line x1="396.46" y1="67.20" x2="396.46" y2="70.20" stroke="#7a7a7a" stroke-width="0.8"/>
<line x1="410.42" y1="67.20" x2="410.42" y2="70.20" stroke="#7a7a7a" stroke-width="0.8"/>
<line x1="340.30" y1="18.00" x2="340.30" y2="67.20" stroke="#f2706a" stroke-width="0.95" stroke-opacity="0.95"/>
<text x="283.80" y="43.40" font-size="8.9" text-anchor="middle" fill="#383838" font-weight="normal" transform="rotate(-90 283.80 40.20)">Score density</text>
<text x="393.60" y="23.62" font-size="8.4" text-anchor="middle" fill="#383838" font-weight="normal">ECD GluC (PSMs)</text>
<line x1="310.40" y1="77.40" x2="310.40" y2="183.50" stroke="#7a7a7a" stroke-width="0.8"/>
<line x1="310.40" y1="183.50" x2="415.50" y2="183.50" stroke="#7a7a7a" stroke-width="0.8"/>
<line x1="307.10" y1="78.40" x2="310.40" y2="78.40" stroke="#7a7a7a" stroke-width="0.8"/>
<text x="303.40" y="81.35" font-size="8.2" text-anchor="end" fill="#383838" font-weight="normal">8</text>
<line x1="307.10" y1="92.97" x2="310.40" y2="92.97" stroke="#7a7a7a" stroke-width="0.8"/>
<text x="303.40" y="95.92" font-size="8.2" text-anchor="end" fill="#383838" font-weight="normal">6</text>
<line x1="307.10" y1="107.54" x2="310.40" y2="107.54" stroke="#7a7a7a" stroke-width="0.8"/>
<text x="303.40" y="110.49" font-size="8.2" text-anchor="end" fill="#383838" font-weight="normal">4</text>
<line x1="307.10" y1="122.11" x2="310.40" y2="122.11" stroke="#7a7a7a" stroke-width="0.8"/>
<text x="303.40" y="125.06" font-size="8.2" text-anchor="end" fill="#383838" font-weight="normal">2</text>
<line x1="307.10" y1="136.68" x2="310.40" y2="136.68" stroke="#7a7a7a" stroke-width="0.8"/>
<text x="303.40" y="139.63" font-size="8.2" text-anchor="end" fill="#383838" font-weight="normal">0</text>
<line x1="307.10" y1="151.25" x2="310.40" y2="151.25" stroke="#7a7a7a" stroke-width="0.8"/>
<text x="303.40" y="154.20" font-size="8.2" text-anchor="end" fill="#383838" font-weight="normal">-2</text>
<line x1="307.10" y1="165.82" x2="310.40" y2="165.82" stroke="#7a7a7a" stroke-width="0.8"/>
<text x="303.40" y="168.77" font-size="8.2" text-anchor="end" fill="#383838" font-weight="normal">-4</text>
<line x1="307.10" y1="180.39" x2="310.40" y2="180.39" stroke="#7a7a7a" stroke-width="0.8"/>
<text x="303.40" y="183.34" font-size="8.2" text-anchor="end" fill="#383838" font-weight="normal">-6</text>
<line x1="312.50" y1="183.50" x2="312.50" y2="186.50" stroke="#7a7a7a" stroke-width="0.8"/>
<text x="311.30" y="197.15" font-size="8.2" text-anchor="middle" fill="#383838" font-weight="normal">-4</text>
<line x1="326.47" y1="183.50" x2="326.47" y2="186.50" stroke="#7a7a7a" stroke-width="0.8"/>
<text x="325.27" y="197.15" font-size="8.2" text-anchor="middle" fill="#383838" font-weight="normal">-2</text>
<line x1="340.44" y1="183.50" x2="340.44" y2="186.50" stroke="#7a7a7a" stroke-width="0.8"/>
<text x="340.44" y="197.15" font-size="8.2" text-anchor="middle" fill="#383838" font-weight="normal">0</text>
<line x1="354.41" y1="183.50" x2="354.41" y2="186.50" stroke="#7a7a7a" stroke-width="0.8"/>
<text x="354.41" y="197.15" font-size="8.2" text-anchor="middle" fill="#383838" font-weight="normal">2</text>
<line x1="368.38" y1="183.50" x2="368.38" y2="186.50" stroke="#7a7a7a" stroke-width="0.8"/>
<text x="368.38" y="197.15" font-size="8.2" text-anchor="middle" fill="#383838" font-weight="normal">4</text>
<line x1="382.35" y1="183.50" x2="382.35" y2="186.50" stroke="#7a7a7a" stroke-width="0.8"/>
<text x="382.35" y="197.15" font-size="8.2" text-anchor="middle" fill="#383838" font-weight="normal">6</text>
<line x1="396.32" y1="183.50" x2="396.32" y2="186.50" stroke="#7a7a7a" stroke-width="0.8"/>
<text x="396.32" y="197.15" font-size="8.2" text-anchor="middle" fill="#383838" font-weight="normal">8</text>
<line x1="410.29" y1="183.50" x2="410.29" y2="186.50" stroke="#7a7a7a" stroke-width="0.8"/>
<text x="410.29" y="197.15" font-size="8.2" text-anchor="middle" fill="#383838" font-weight="normal">10</text>
<text x="366.60" y="209.80" font-size="8.9" text-anchor="middle" fill="#383838" font-weight="normal">Score</text>
<text x="365.40" y="220.00" font-size="8.9" text-anchor="middle" fill="#383838" font-weight="normal">(FragPipe-Percolator)</text>
<text x="273.20" y="138.50" font-size="8.9" text-anchor="middle" fill="#383838" font-weight="normal" transform="rotate(-90 273.20 135.30)">Score</text>
<text x="283.20" y="138.50" font-size="8.9" text-anchor="middle" fill="#383838" font-weight="normal" transform="rotate(-90 283.20 135.30)">(Oktoberfest-Percolator)</text>
<path d="M331.8,133.3 L330.8,133.3 L330.4,132.7 L331.7,132.1 L330.1,131.3 L330.9,130.7 L331.9,130.1 L331.2,129.1 L331.6,128.4 L332.1,127.7 L332.4,126.9 L332.3,126.1 L332.9,125.5 L332.2,124.7 L332.8,124.1 L332.0,123.4 L332.6,122.9 L333.0,122.3 L332.2,121.6 L332.3,121.0 L333.5,120.9 L333.2,120.3 L333.7,120.0 L333.4,119.3 L334.4,119.6 L334.6,119.2 L334.5,118.5 L335.1,118.5 L335.7,118.5 L335.5,117.1 L336.3,117.7 L336.9,117.7 L337.5,117.8 L337.7,116.8 L338.1,116.5 L338.5,115.9 L339.3,117.0 L339.8,116.6 L340.2,115.7 L340.9,116.2 L341.6,116.3 L341.9,115.0 L342.8,115.9 L343.2,115.0 L343.9,115.0 L344.6,115.1 L344.7,113.8 L345.6,114.1 L346.1,113.8 L346.6,113.2 L346.8,112.5 L348.0,113.0 L348.1,112.1 L348.8,111.9 L349.2,111.2 L350.1,111.3 L350.4,110.4 L351.2,110.3 L352.1,110.3 L352.4,109.3 L353.8,110.4 L354.2,109.4 L355.2,109.6 L355.6,108.7 L356.0,107.7 L356.7,107.5 L357.6,107.8 L358.1,107.2 L358.9,107.4 L359.6,107.2 L360.0,106.3 L360.6,106.0 L361.3,106.1 L361.8,105.4 L362.8,106.1 L363.5,106.1 L364.5,106.3 L364.8,104.7 L365.6,104.5 L366.7,104.7 L367.4,103.8 L368.7,104.4 L369.7,104.1 L370.1,102.5 L371.5,103.1 L372.6,102.9 L373.1,101.7 L374.0,101.2 L374.8,100.7 L376.0,101.0 L376.3,99.6 L377.5,99.8 L378.6,100.0 L379.1,99.0 L380.1,99.0 L380.6,98.0 L381.6,98.2 L382.3,97.7 L382.8,97.0 L383.4,96.4 L384.1,96.1 L384.8,95.7 L385.5,95.5 L386.2,95.3 L387.1,95.9 L387.5,94.7 L388.3,94.8 L389.0,95.4 L389.7,95.3 L390.4,95.8 L391.0,95.7 L391.5,94.5 L392.1,94.5 L392.8,95.1 L393.3,94.1 L393.9,94.8 L394.5,94.3 L395.0,95.0 L395.5,95.3 L395.9,95.4 L396.3,95.5 L396.8,95.2 L397.2,94.9 L397.6,94.7 L397.7,95.3 L398.0,95.3 L398.3,95.3 L398.6,95.2 L398.9,95.3 L398.4,95.9 L398.6,96.0 L399.1,96.2 L398.9,96.6 L399.5,97.0 L398.9,97.5 L398.4,98.1 L398.5,98.7 L399.0,99.5 L399.0,100.3 L398.6,101.0 L398.6,101.8 L398.7,102.6 L398.4,103.3 L397.5,103.8 L397.9,104.7 L397.1,105.1 L397.5,106.0 L395.8,106.1 L396.3,107.0 L395.7,107.5 L395.9,108.5 L395.0,108.8 L394.5,109.4 L394.4,110.2 L393.9,110.8 L392.8,111.0 L393.1,112.4 L391.6,112.2 L391.4,113.3 L390.6,113.8 L390.1,114.7 L389.4,115.4 L389.3,116.8 L388.1,116.9 L386.9,116.9 L386.8,118.3 L385.4,118.1 L385.0,119.1 L384.8,120.5 L384.0,121.0 L383.1,121.5 L382.4,122.1 L381.2,122.1 L380.5,122.8 L379.8,123.5 L378.9,123.8 L378.1,124.4 L377.5,125.4 L376.2,125.1 L375.0,124.9 L374.5,126.2 L373.7,126.8 L372.9,127.6 L371.8,127.6 L370.7,127.6 L370.1,128.7 L368.8,128.3 L368.3,129.5 L367.2,129.5 L366.6,130.5 L365.6,130.8 L364.2,129.9 L363.5,130.8 L362.6,131.2 L362.0,132.3 L360.6,131.2 L359.9,132.1 L359.1,132.5 L358.2,132.5 L357.6,133.6 L356.8,134.0 L355.9,134.3 L354.9,134.0 L354.1,134.5 L353.2,134.3 L352.1,133.8 L351.6,134.9 L351.0,135.5 L350.3,135.5 L349.6,135.8 L349.1,136.1 L348.8,136.7 L348.4,137.0 L347.8,136.9 L347.2,136.7 L347.0,137.2 L347.0,137.7 L346.1,136.9 L346.4,138.2 L345.6,136.9 L345.5,138.4 L344.8,137.2 L344.3,137.8 L343.6,137.4 L343.0,137.6 L342.4,137.2 L341.6,138.3 L340.9,138.2 L340.4,137.0 L339.7,137.0 L338.8,137.9 L338.1,137.7 L337.4,137.5 L336.7,137.1 L335.9,136.8 L335.3,136.1 L334.3,136.3 L333.4,136.1 L333.0,135.2 L332.0,135.3 L332.2,134.1 L331.1,134.3Z" fill="#1a873b"/>
<path d="M342.7 114.1h0.9v0.9h-0.9zM364.4 104.9h0.9v0.9h-0.9zM348.5 137.2h0.9v0.9h-0.9zM382.0 125.0h1.3v1.3h-1.3zM348.8 136.6h0.9v0.9h-0.9zM361.2 103.3h0.9v0.9h-0.9zM329.3 128.0h0.9v0.9h-0.9zM341.7 116.9h1.3v1.3h-1.3zM331.4 120.5h1.3v1.3h-1.3zM396.6 92.4h1.3v1.3h-1.3zM346.2 136.5h1.3v1.3h-1.3zM357.3 134.2h1.3v1.3h-1.3zM363.0 106.2h0.9v0.9h-0.9zM349.0 137.0h0.9v0.9h-0.9zM395.2 108.7h0.9v0.9h-0.9zM387.5 118.0h0.9v0.9h-0.9zM394.7 94.9h1.3v1.3h-1.3zM366.5 130.9h0.9v0.9h-0.9zM366.8 130.4h0.9v0.9h-0.9zM336.1 136.3h1.3v1.3h-1.3zM398.9 93.8h1.3v1.3h-1.3zM377.2 97.5h0.9v0.9h-0.9zM345.0 137.4h0.9v0.9h-0.9zM380.0 97.9h1.3v1.3h-1.3zM344.2 112.6h0.9v0.9h-0.9zM332.4 134.9h0.9v0.9h-0.9zM372.1 130.2h0.9v0.9h-0.9zM347.2 112.3h1.3v1.3h-1.3zM360.8 104.2h0.9v0.9h-0.9zM374.6 127.4h0.9v0.9h-0.9zM397.3 106.9h0.9v0.9h-0.9zM331.4 134.4h0.9v0.9h-0.9zM349.1 136.3h0.9v0.9h-0.9zM360.2 102.7h0.9v0.9h-0.9zM371.7 128.4h0.9v0.9h-0.9zM359.6 106.5h0.9v0.9h-0.9zM386.5 116.7h0.9v0.9h-0.9zM333.2 122.0h0.9v0.9h-0.9zM386.1 116.7h1.3v1.3h-1.3zM359.0 134.0h0.9v0.9h-0.9zM385.2 93.7h1.3v1.3h-1.3zM389.5 94.7h0.9v0.9h-0.9zM392.3 112.0h1.3v1.3h-1.3zM394.3 114.1h1.3v1.3h-1.3zM384.7 93.2h1.3v1.3h-1.3zM341.8 138.4h0.9v0.9h-0.9zM339.1 137.0h0.9v0.9h-0.9zM397.7 94.4h0.9v0.9h-0.9zM375.7 125.4h0.9v0.9h-0.9zM366.5 129.3h0.9v0.9h-0.9zM382.2 97.6h0.9v0.9h-0.9zM359.6 105.6h0.9v0.9h-0.9zM383.0 94.6h1.3v1.3h-1.3zM330.8 127.2h0.9v0.9h-0.9zM395.2 95.7h0.9v0.9h-0.9zM362.6 133.3h1.3v1.3h-1.3zM335.6 137.4h0.9v0.9h-0.9zM329.8 125.8h0.9v0.9h-0.9zM346.5 111.7h1.3v1.3h-1.3zM388.5 92.7h0.9v0.9h-0.9zM342.5 137.1h0.9v0.9h-0.9zM384.6 92.4h0.9v0.9h-0.9zM362.5 105.6h0.9v0.9h-0.9zM371.4 128.3h0.9v0.9h-0.9zM329.1 128.9h0.9v0.9h-0.9zM358.5 104.6h0.9v0.9h-0.9zM377.9 99.6h0.9v0.9h-0.9zM345.3 113.3h0.9v0.9h-0.9zM346.5 138.2h0.9v0.9h-0.9zM358.2 108.0h0.9v0.9h-0.9zM381.9 97.5h0.9v0.9h-0.9zM352.7 109.4h0.9v0.9h-0.9zM383.6 95.4h1.3v1.3h-1.3zM339.6 137.4h1.3v1.3h-1.3zM332.2 132.6h0.9v0.9h-0.9zM343.7 114.4h0.9v0.9h-0.9zM337.1 117.0h1.3v1.3h-1.3zM379.3 99.5h1.3v1.3h-1.3zM396.5 94.6h0.9v0.9h-0.9zM378.4 124.4h1.3v1.3h-1.3zM398.8 103.4h0.9v0.9h-0.9zM398.7 94.4h0.9v0.9h-0.9zM347.5 112.2h1.3v1.3h-1.3zM346.6 137.3h0.9v0.9h-0.9zM335.4 115.4h0.9v0.9h-0.9zM334.7 116.4h0.9v0.9h-0.9zM366.7 101.9h0.9v0.9h-0.9zM371.1 128.0h0.9v0.9h-0.9zM376.9 127.0h0.9v0.9h-0.9zM353.9 108.2h1.3v1.3h-1.3zM385.2 119.1h1.3v1.3h-1.3zM355.2 133.6h0.9v0.9h-0.9zM377.0 99.4h0.9v0.9h-0.9zM391.4 111.6h1.3v1.3h-1.3zM358.7 133.8h0.9v0.9h-0.9zM358.5 134.3h0.9v0.9h-0.9zM333.9 135.6h0.9v0.9h-0.9zM341.4 139.4h1.3v1.3h-1.3zM383.4 121.5h0.9v0.9h-0.9zM374.1 100.9h0.9v0.9h-0.9zM336.6 118.0h0.9v0.9h-0.9zM395.7 107.6h1.3v1.3h-1.3zM378.0 125.9h0.9v0.9h-0.9zM396.5 111.8h0.9v0.9h-0.9zM358.0 134.6h0.9v0.9h-0.9zM389.9 93.3h1.3v1.3h-1.3zM333.5 137.0h0.9v0.9h-0.9zM352.0 109.3h0.9v0.9h-0.9zM378.8 100.0h0.9v0.9h-0.9zM343.8 137.0h1.3v1.3h-1.3zM371.6 128.4h0.9v0.9h-0.9zM386.4 120.9h0.9v0.9h-0.9zM340.4 114.9h0.9v0.9h-0.9zM401.2 98.3h0.9v0.9h-0.9zM392.0 91.1h0.9v0.9h-0.9zM339.0 117.0h1.3v1.3h-1.3zM391.1 112.8h0.9v0.9h-0.9zM376.6 99.1h0.9v0.9h-0.9zM329.3 130.3h1.3v1.3h-1.3zM337.8 139.0h0.9v0.9h-0.9zM334.5 118.6h1.3v1.3h-1.3zM399.3 95.6h0.9v0.9h-0.9zM398.1 105.7h0.9v0.9h-0.9zM337.8 116.4h0.9v0.9h-0.9zM341.1 139.2h1.3v1.3h-1.3zM344.8 138.3h0.9v0.9h-0.9zM379.8 123.6h1.3v1.3h-1.3zM330.6 130.3h0.9v0.9h-0.9zM332.8 135.4h1.3v1.3h-1.3zM331.6 133.0h1.3v1.3h-1.3zM336.3 136.9h0.9v0.9h-0.9zM382.8 120.9h0.9v0.9h-0.9zM339.6 137.5h1.3v1.3h-1.3zM400.4 100.8h0.9v0.9h-0.9zM381.2 97.0h0.9v0.9h-0.9zM379.9 96.6h1.3v1.3h-1.3zM399.5 107.1h1.3v1.3h-1.3zM388.8 117.2h0.9v0.9h-0.9zM351.0 134.1h1.3v1.3h-1.3zM386.3 94.5h0.9v0.9h-0.9zM332.7 128.2h1.3v1.3h-1.3zM349.1 136.9h1.3v1.3h-1.3zM391.1 116.6h0.9v0.9h-0.9zM332.7 125.7h0.9v0.9h-0.9zM338.0 137.6h0.9v0.9h-0.9zM332.3 133.7h1.3v1.3h-1.3zM343.8 137.6h0.9v0.9h-0.9zM352.4 135.8h0.9v0.9h-0.9zM329.9 132.9h1.3v1.3h-1.3zM350.1 137.4h0.9v0.9h-0.9zM383.6 95.5h1.3v1.3h-1.3zM329.7 130.4h0.9v0.9h-0.9zM397.4 95.8h0.9v0.9h-0.9zM362.9 130.5h0.9v0.9h-0.9zM395.3 109.1h0.9v0.9h-0.9zM360.4 134.0h0.9v0.9h-0.9zM379.0 97.4h0.9v0.9h-0.9zM372.4 103.5h1.3v1.3h-1.3zM390.9 93.4h0.9v0.9h-0.9zM367.3 130.8h0.9v0.9h-0.9zM359.0 133.6h1.3v1.3h-1.3zM359.6 106.6h0.9v0.9h-0.9zM396.1 108.5h1.3v1.3h-1.3zM350.8 108.8h1.3v1.3h-1.3zM373.3 100.6h1.3v1.3h-1.3zM343.8 137.2h0.9v0.9h-0.9zM331.0 132.6h0.9v0.9h-0.9zM347.6 139.1h0.9v0.9h-0.9zM359.4 107.2h1.3v1.3h-1.3zM394.4 109.3h0.9v0.9h-0.9zM354.3 109.5h0.9v0.9h-0.9zM330.2 130.6h0.9v0.9h-0.9zM338.0 138.5h0.9v0.9h-0.9zM337.3 118.3h0.9v0.9h-0.9zM391.3 111.9h1.3v1.3h-1.3zM397.3 106.2h1.3v1.3h-1.3zM393.7 94.3h0.9v0.9h-0.9zM382.6 125.5h0.9v0.9h-0.9zM398.3 99.1h0.9v0.9h-0.9zM344.2 139.0h0.9v0.9h-0.9zM339.8 138.8h0.9v0.9h-0.9zM332.5 136.1h0.9v0.9h-0.9zM336.4 136.3h1.3v1.3h-1.3zM379.8 97.2h0.9v0.9h-0.9zM336.8 137.3h0.9v0.9h-0.9zM398.3 98.1h0.9v0.9h-0.9zM349.3 137.5h0.9v0.9h-0.9zM379.3 123.7h1.3v1.3h-1.3zM331.3 132.1h1.3v1.3h-1.3zM350.6 110.6h0.9v0.9h-0.9zM396.6 108.0h1.3v1.3h-1.3zM344.4 136.5h1.3v1.3h-1.3zM401.5 104.0h0.9v0.9h-0.9zM339.2 115.3h1.3v1.3h-1.3zM342.3 116.2h1.3v1.3h-1.3zM399.3 95.2h0.9v0.9h-0.9zM338.3 116.0h0.9v0.9h-0.9zM349.3 110.9h1.3v1.3h-1.3zM338.4 114.1h0.9v0.9h-0.9zM349.1 138.0h1.3v1.3h-1.3zM355.2 108.0h0.9v0.9h-0.9zM359.1 134.7h0.9v0.9h-0.9zM348.4 137.6h0.9v0.9h-0.9zM386.6 94.8h0.9v0.9h-0.9zM349.0 110.6h0.9v0.9h-0.9zM344.2 111.8h1.3v1.3h-1.3zM332.1 120.2h1.3v1.3h-1.3zM400.2 92.8h0.9v0.9h-0.9zM330.4 127.0h0.9v0.9h-0.9zM344.3 114.8h0.9v0.9h-0.9zM374.7 124.8h0.9v0.9h-0.9zM358.3 107.5h1.3v1.3h-1.3zM339.2 137.1h1.3v1.3h-1.3zM329.7 130.9h1.3v1.3h-1.3zM332.5 122.9h0.9v0.9h-0.9zM378.9 124.5h1.3v1.3h-1.3zM367.0 131.2h0.9v0.9h-0.9zM389.1 116.5h0.9v0.9h-0.9zM359.2 135.2h1.3v1.3h-1.3zM340.8 114.7h0.9v0.9h-0.9zM398.3 95.2h0.9v0.9h-0.9zM398.7 101.7h0.9v0.9h-0.9zM400.0 104.4h0.9v0.9h-0.9zM346.0 112.3h0.9v0.9h-0.9zM339.3 115.7h0.9v0.9h-0.9zM362.0 134.7h0.9v0.9h-0.9zM340.7 115.3h0.9v0.9h-0.9zM331.6 117.4h1.3v1.3h-1.3zM331.7 132.6h0.9v0.9h-0.9zM333.4 138.2h0.9v0.9h-0.9zM345.1 138.4h1.3v1.3h-1.3zM369.5 128.0h1.3v1.3h-1.3zM378.9 96.9h1.3v1.3h-1.3zM340.1 114.3h1.3v1.3h-1.3zM375.6 125.9h0.9v0.9h-0.9zM386.2 118.1h1.3v1.3h-1.3zM387.9 116.9h0.9v0.9h-0.9zM334.8 136.2h0.9v0.9h-0.9zM332.6 122.7h0.9v0.9h-0.9zM398.8 93.5h0.9v0.9h-0.9zM336.1 116.3h0.9v0.9h-0.9zM352.4 134.5h0.9v0.9h-0.9zM395.8 92.1h0.9v0.9h-0.9zM332.9 135.0h0.9v0.9h-0.9zM331.1 127.3h0.9v0.9h-0.9zM331.7 133.9h0.9v0.9h-0.9zM351.2 136.4h0.9v0.9h-0.9zM344.5 139.1h1.3v1.3h-1.3zM354.8 134.6h0.9v0.9h-0.9zM375.7 125.9h0.9v0.9h-0.9zM367.2 101.2h0.9v0.9h-0.9zM335.2 138.2h0.9v0.9h-0.9zM339.0 116.3h1.3v1.3h-1.3zM373.5 126.9h1.3v1.3h-1.3zM342.5 114.4h0.9v0.9h-0.9zM342.0 116.6h0.9v0.9h-0.9zM333.1 137.1h0.9v0.9h-0.9zM360.9 105.6h0.9v0.9h-0.9zM343.5 113.2h0.9v0.9h-0.9zM398.9 94.7h0.9v0.9h-0.9zM341.7 137.7h0.9v0.9h-0.9zM350.8 111.7h1.3v1.3h-1.3zM400.1 97.6h0.9v0.9h-0.9zM393.6 112.3h0.9v0.9h-0.9zM338.1 137.0h1.3v1.3h-1.3zM394.9 93.1h0.9v0.9h-0.9zM342.2 138.2h0.9v0.9h-0.9zM348.3 110.1h1.3v1.3h-1.3zM363.2 130.2h0.9v0.9h-0.9zM361.1 134.7h0.9v0.9h-0.9zM385.0 95.4h1.3v1.3h-1.3zM339.3 116.9h1.3v1.3h-1.3zM356.5 106.4h0.9v0.9h-0.9zM392.5 91.5h0.9v0.9h-0.9zM375.1 99.6h0.9v0.9h-0.9zM373.2 101.8h1.3v1.3h-1.3zM347.1 137.2h0.9v0.9h-0.9zM337.8 117.5h0.9v0.9h-0.9zM363.9 103.1h0.9v0.9h-0.9zM354.6 108.6h0.9v0.9h-0.9zM390.7 114.0h0.9v0.9h-0.9zM395.2 95.8h1.3v1.3h-1.3zM379.4 125.8h0.9v0.9h-0.9zM373.0 103.3h1.3v1.3h-1.3zM333.8 118.5h1.3v1.3h-1.3zM390.7 95.1h0.9v0.9h-0.9zM347.7 110.8h1.3v1.3h-1.3zM331.9 124.6h0.9v0.9h-0.9zM388.2 94.1h1.3v1.3h-1.3zM397.6 94.9h0.9v0.9h-0.9zM331.6 121.1h1.3v1.3h-1.3zM397.8 103.3h0.9v0.9h-0.9zM395.8 95.4h0.9v0.9h-0.9zM332.6 136.5h0.9v0.9h-0.9zM390.2 94.9h1.3v1.3h-1.3zM372.3 128.7h0.9v0.9h-0.9zM351.9 110.9h1.3v1.3h-1.3zM329.3 130.6h0.9v0.9h-0.9zM328.0 131.4h0.9v0.9h-0.9zM358.9 106.5h0.9v0.9h-0.9z" fill="#1a873b"/>
<path d="M319.7,140.2 L319.8,140.0 L320.0,139.7 L320.2,139.5 L320.1,139.1 L320.4,139.0 L320.5,138.7 L320.7,138.5 L320.9,138.2 L321.1,138.0 L321.3,137.8 L321.5,137.7 L321.6,137.4 L321.8,137.2 L322.0,136.9 L322.4,137.0 L322.6,136.6 L322.7,136.3 L323.0,136.2 L323.4,136.2 L323.6,135.9 L323.9,135.7 L324.3,135.8 L324.5,135.4 L324.9,135.5 L325.2,135.3 L325.6,135.2 L325.9,134.9 L326.3,134.8 L326.6,134.5 L327.1,134.6 L327.5,134.2 L327.9,134.2 L328.3,134.1 L328.8,134.2 L329.3,134.1 L329.7,133.8 L330.1,133.8 L330.6,133.6 L331.1,133.8 L331.5,133.4 L331.9,133.4 L332.4,133.4 L332.9,133.5 L333.3,133.3 L333.7,133.0 L334.1,133.2 L334.5,132.9 L335.0,133.1 L335.4,132.6 L335.9,132.6 L336.3,132.5 L336.9,132.6 L337.3,132.4 L337.8,132.2 L338.2,132.0 L338.7,131.9 L339.2,131.8 L339.7,131.8 L340.1,131.9 L340.5,131.6 L341.0,131.6 L341.4,131.4 L341.7,131.7 L342.1,131.6 L342.5,131.5 L342.8,131.7 L343.1,131.9 L343.5,132.0 L343.7,132.2 L343.8,132.6 L344.2,132.7 L344.1,133.3 L344.2,133.6 L344.4,134.0 L344.6,134.5 L344.7,135.0 L345.0,135.5 L344.9,136.0 L345.1,136.6 L345.0,137.2 L345.3,137.7 L345.4,138.3 L345.1,139.0 L345.5,139.6 L345.2,140.2 L345.1,140.8 L345.4,141.4 L345.2,142.0 L345.1,142.6 L345.4,143.1 L345.3,143.7 L345.2,144.2 L345.3,144.7 L345.0,145.2 L345.1,145.7 L344.9,146.2 L344.7,146.7 L344.7,147.3 L344.6,147.8 L344.5,148.3 L344.5,148.9 L344.5,149.4 L344.2,149.9 L343.8,150.4 L343.9,150.9 L343.6,151.4 L343.5,151.9 L343.5,152.5 L343.2,152.9 L343.2,153.4 L342.9,153.8 L342.7,154.3 L342.5,154.7 L342.1,155.0 L342.0,155.5 L341.7,155.8 L341.7,156.3 L341.3,156.5 L341.1,156.9 L340.9,157.3 L340.5,157.5 L340.4,158.0 L340.0,158.2 L339.7,158.5 L339.6,158.9 L339.4,159.2 L338.9,159.3 L338.8,159.8 L338.3,159.9 L338.1,160.2 L337.7,160.3 L337.5,160.7 L337.2,160.8 L336.8,161.0 L336.6,161.3 L336.2,161.4 L335.9,161.5 L335.6,161.7 L335.3,162.0 L335.0,162.0 L334.6,162.0 L334.4,162.5 L334.0,162.4 L333.7,162.6 L333.3,162.6 L332.9,162.7 L332.6,162.7 L332.2,163.0 L331.8,163.0 L331.5,162.8 L331.1,162.7 L330.7,163.0 L330.4,163.1 L330.0,162.8 L329.7,162.7 L329.3,162.8 L329.0,162.6 L328.6,162.9 L328.4,162.6 L328.0,162.6 L327.8,162.5 L327.4,162.6 L327.1,162.5 L326.9,162.2 L326.5,162.3 L326.3,162.0 L326.0,162.1 L325.8,161.9 L325.4,161.8 L325.1,161.8 L324.9,161.6 L324.8,161.2 L324.5,161.2 L324.1,161.2 L323.9,160.9 L323.7,160.7 L323.4,160.5 L323.2,160.2 L323.0,160.0 L322.7,159.8 L322.5,159.6 L322.5,159.1 L322.3,158.9 L322.0,158.7 L321.9,158.4 L321.9,158.0 L321.6,157.7 L321.6,157.3 L321.3,156.9 L321.3,156.5 L320.9,156.2 L320.9,155.7 L320.7,155.3 L320.6,154.8 L320.5,154.4 L320.5,153.9 L320.3,153.5 L320.4,153.0 L320.3,152.5 L320.0,152.1 L320.1,151.6 L319.8,151.2 L320.1,150.7 L319.8,150.3 L319.8,149.8 L319.8,149.4 L319.8,149.0 L319.5,148.6 L319.6,148.2 L319.4,147.8 L319.4,147.4 L319.3,147.0 L319.4,146.5 L319.3,146.1 L319.3,145.7 L319.2,145.3 L319.2,144.9 L319.1,144.5 L319.1,144.1 L319.1,143.7 L319.3,143.3 L319.1,142.9 L319.4,142.6 L319.1,142.2 L319.4,141.9 L319.3,141.5 L319.5,141.2 L319.4,140.8 L319.4,140.5Z" fill="#1a873b"/>
<path d="M321.8 137.0h0.9v0.9h-0.9zM324.9 163.6h0.9v0.9h-0.9zM317.4 147.0h1.3v1.3h-1.3zM319.2 151.2h0.9v0.9h-0.9zM345.3 140.4h1.3v1.3h-1.3zM344.1 134.3h0.9v0.9h-0.9zM320.6 158.0h0.9v0.9h-0.9zM321.2 136.6h0.9v0.9h-0.9zM345.8 133.8h0.9v0.9h-0.9zM339.5 132.1h0.9v0.9h-0.9zM343.5 132.9h0.9v0.9h-0.9zM342.5 156.7h0.9v0.9h-0.9zM319.2 139.6h0.9v0.9h-0.9zM320.2 137.9h0.9v0.9h-0.9zM337.3 160.4h0.9v0.9h-0.9zM333.9 132.4h1.3v1.3h-1.3zM322.3 135.5h1.3v1.3h-1.3zM341.0 131.3h0.9v0.9h-0.9zM318.0 152.0h0.9v0.9h-0.9zM322.2 160.3h0.9v0.9h-0.9zM337.5 161.5h0.9v0.9h-0.9zM320.5 155.6h1.3v1.3h-1.3zM319.1 145.1h0.9v0.9h-0.9zM337.7 159.9h0.9v0.9h-0.9zM343.7 154.3h1.3v1.3h-1.3zM342.3 157.2h1.3v1.3h-1.3zM328.4 133.5h1.3v1.3h-1.3zM320.0 149.3h0.9v0.9h-0.9zM330.5 133.5h0.9v0.9h-0.9zM333.3 163.0h0.9v0.9h-0.9zM322.6 160.9h0.9v0.9h-0.9zM345.5 145.6h0.9v0.9h-0.9zM331.3 163.3h0.9v0.9h-0.9zM345.0 138.7h0.9v0.9h-0.9zM326.4 162.0h1.3v1.3h-1.3zM346.1 139.9h0.9v0.9h-0.9zM321.3 158.4h0.9v0.9h-0.9zM320.3 155.7h0.9v0.9h-0.9zM318.7 145.7h0.9v0.9h-0.9zM343.9 155.7h0.9v0.9h-0.9zM335.5 130.9h0.9v0.9h-0.9zM321.3 136.2h0.9v0.9h-0.9zM333.8 132.0h0.9v0.9h-0.9zM337.4 131.7h0.9v0.9h-0.9zM345.7 139.0h0.9v0.9h-0.9zM326.7 132.8h0.9v0.9h-0.9zM328.8 134.8h1.3v1.3h-1.3zM318.0 142.7h0.9v0.9h-0.9zM324.5 162.6h0.9v0.9h-0.9zM344.1 132.7h0.9v0.9h-0.9zM323.1 160.9h0.9v0.9h-0.9zM336.3 162.1h1.3v1.3h-1.3zM321.4 137.4h0.9v0.9h-0.9zM318.1 145.5h0.9v0.9h-0.9zM346.0 133.3h0.9v0.9h-0.9zM319.3 154.2h1.3v1.3h-1.3zM345.6 136.2h0.9v0.9h-0.9zM346.9 135.1h0.9v0.9h-0.9zM329.3 162.8h0.9v0.9h-0.9zM325.2 164.2h0.9v0.9h-0.9zM333.9 133.4h0.9v0.9h-0.9zM333.9 163.5h0.9v0.9h-0.9zM331.5 132.4h0.9v0.9h-0.9zM337.6 162.2h1.3v1.3h-1.3zM344.3 150.3h0.9v0.9h-0.9zM345.4 135.3h1.3v1.3h-1.3zM320.3 152.9h1.3v1.3h-1.3zM322.9 161.4h0.9v0.9h-0.9zM321.8 136.4h0.9v0.9h-0.9zM317.6 140.2h0.9v0.9h-0.9zM345.5 147.0h0.9v0.9h-0.9zM328.3 134.2h1.3v1.3h-1.3zM319.7 136.6h1.3v1.3h-1.3zM340.4 131.0h1.3v1.3h-1.3zM343.2 154.1h0.9v0.9h-0.9zM324.5 162.7h0.9v0.9h-0.9zM330.9 165.4h0.9v0.9h-0.9zM343.5 133.5h1.3v1.3h-1.3zM344.9 143.6h0.9v0.9h-0.9zM319.5 153.3h0.9v0.9h-0.9zM345.9 148.9h0.9v0.9h-0.9zM318.9 149.0h1.3v1.3h-1.3zM336.3 131.8h1.3v1.3h-1.3zM319.2 149.8h0.9v0.9h-0.9zM319.3 148.8h0.9v0.9h-0.9zM344.3 147.6h0.9v0.9h-0.9zM330.6 165.0h0.9v0.9h-0.9zM319.2 148.6h0.9v0.9h-0.9zM346.0 140.6h1.3v1.3h-1.3zM344.5 133.1h1.3v1.3h-1.3zM336.4 132.3h1.3v1.3h-1.3zM320.7 137.1h0.9v0.9h-0.9zM335.1 161.3h1.3v1.3h-1.3zM319.5 154.0h0.9v0.9h-0.9zM345.8 142.4h1.3v1.3h-1.3zM338.6 129.7h0.9v0.9h-0.9zM344.3 132.0h1.3v1.3h-1.3zM334.2 133.2h0.9v0.9h-0.9zM344.8 146.7h0.9v0.9h-0.9zM344.6 145.4h0.9v0.9h-0.9zM318.6 150.7h1.3v1.3h-1.3zM345.7 137.3h0.9v0.9h-0.9zM318.4 144.4h1.3v1.3h-1.3zM331.7 133.7h0.9v0.9h-0.9zM320.2 157.1h0.9v0.9h-0.9zM323.8 163.0h0.9v0.9h-0.9zM346.9 140.3h0.9v0.9h-0.9zM336.1 133.0h0.9v0.9h-0.9zM325.9 162.8h0.9v0.9h-0.9zM344.5 142.1h0.9v0.9h-0.9zM346.2 132.8h0.9v0.9h-0.9zM336.2 132.9h1.3v1.3h-1.3zM323.3 136.8h0.9v0.9h-0.9zM345.5 148.8h1.3v1.3h-1.3zM346.6 142.0h0.9v0.9h-0.9zM332.3 133.9h0.9v0.9h-0.9zM346.8 138.8h1.3v1.3h-1.3zM337.3 161.7h0.9v0.9h-0.9zM323.0 136.9h1.3v1.3h-1.3zM322.0 157.8h0.9v0.9h-0.9z" fill="#1a873b"/>
<path d="M320.2,140.4 L320.5,140.2 L320.2,139.8 L320.3,139.6 L321.0,139.6 L320.3,138.9 L320.5,138.7 L321.0,138.7 L321.0,138.3 L321.0,138.0 L321.7,138.2 L321.5,137.7 L321.9,137.7 L321.8,137.2 L322.1,137.0 L322.3,136.8 L323.1,137.4 L322.7,136.3 L323.5,136.9 L323.3,136.1 L323.7,136.1 L324.3,136.5 L324.5,136.1 L324.5,135.4 L324.8,135.2 L325.3,135.5 L325.5,135.0 L325.9,134.7 L326.5,135.4 L326.9,135.4 L327.2,134.7 L327.6,134.6 L328.1,135.1 L328.4,134.4 L329.0,134.8 L329.2,133.8 L329.8,134.4 L330.1,133.7 L330.8,134.6 L331.1,133.8 L331.6,134.0 L332.1,134.3 L332.4,133.5 L332.8,133.2 L333.3,133.4 L333.7,133.0 L334.2,133.8 L334.6,133.3 L335.0,133.0 L335.4,132.8 L336.1,133.3 L336.6,133.4 L336.9,132.6 L337.5,132.9 L337.9,132.8 L338.3,132.3 L338.7,131.8 L339.2,131.9 L339.8,132.4 L340.1,131.5 L340.5,131.6 L341.0,132.1 L341.4,131.8 L341.8,131.7 L342.0,132.2 L342.5,131.5 L342.8,131.8 L343.1,132.0 L342.9,132.8 L343.1,132.8 L343.3,133.0 L343.5,133.2 L343.9,133.3 L343.8,133.8 L344.4,134.1 L344.4,134.6 L345.0,134.9 L344.6,135.5 L345.0,136.0 L345.2,136.6 L344.5,137.2 L344.4,137.8 L344.8,138.4 L345.2,139.0 L345.3,139.6 L345.2,140.2 L344.6,140.8 L344.7,141.4 L345.0,142.0 L345.2,142.6 L345.0,143.1 L345.2,143.7 L345.3,144.2 L344.8,144.7 L345.0,145.2 L344.7,145.7 L344.3,146.2 L344.4,146.7 L344.8,147.3 L344.1,147.7 L344.3,148.3 L344.3,148.8 L344.3,149.4 L344.1,149.9 L343.5,150.3 L343.2,150.7 L343.6,151.4 L343.3,151.9 L343.1,152.3 L343.4,152.9 L343.0,153.3 L342.4,153.6 L341.8,153.9 L341.7,154.3 L341.9,154.9 L341.6,155.2 L341.6,155.7 L341.4,156.1 L341.3,156.5 L340.5,156.5 L340.7,157.1 L340.4,157.4 L340.1,157.7 L339.9,158.1 L339.8,158.5 L339.7,159.0 L339.2,159.1 L338.9,159.3 L338.6,159.6 L338.4,159.9 L337.9,160.0 L337.3,159.8 L337.4,160.5 L337.2,160.8 L337.0,161.2 L336.5,161.2 L336.2,161.4 L335.9,161.4 L335.5,161.6 L335.1,161.4 L334.9,161.7 L334.6,162.1 L334.4,162.4 L334.0,162.5 L333.5,162.1 L333.3,162.5 L332.8,162.0 L332.5,162.6 L332.2,162.8 L331.8,162.8 L331.4,162.0 L331.1,162.2 L330.7,162.5 L330.4,162.1 L330.0,162.5 L329.7,162.8 L329.3,163.0 L329.0,162.9 L328.7,162.4 L328.4,162.3 L328.1,162.3 L327.9,161.8 L327.6,161.7 L327.2,162.2 L327.1,161.6 L326.6,162.2 L326.6,161.4 L326.0,162.0 L325.8,161.7 L325.6,161.6 L325.5,161.1 L325.3,161.0 L324.7,161.3 L324.6,161.0 L324.6,160.5 L324.2,160.5 L323.8,160.6 L324.0,159.8 L323.9,159.6 L323.7,159.4 L323.5,159.2 L323.2,159.0 L322.6,159.1 L322.2,159.0 L322.8,158.3 L322.3,158.1 L321.9,158.0 L322.4,157.3 L322.0,157.1 L321.1,157.0 L321.3,156.5 L321.6,155.9 L321.2,155.6 L321.0,155.2 L320.7,154.8 L321.1,154.2 L321.4,153.7 L320.8,153.4 L320.9,152.9 L320.7,152.4 L320.3,152.0 L320.2,151.6 L320.6,151.1 L320.1,150.7 L320.3,150.2 L320.3,149.8 L319.9,149.4 L319.8,149.0 L319.5,148.6 L319.9,148.1 L319.9,147.7 L319.6,147.3 L320.2,146.9 L320.3,146.4 L320.2,146.0 L319.2,145.7 L319.4,145.3 L319.7,144.9 L319.6,144.5 L319.9,144.1 L319.4,143.7 L319.8,143.3 L319.7,142.9 L319.1,142.6 L319.7,142.2 L319.6,141.9 L319.5,141.5 L320.1,141.3 L320.0,141.0 L320.4,140.8Z" fill="#e5720f"/>
<path d="M323.1 160.1h0.9v0.9h-0.9zM336.5 162.8h1.3v1.3h-1.3zM345.4 131.1h0.9v0.9h-0.9zM323.3 160.1h0.9v0.9h-0.9zM346.1 132.2h0.9v0.9h-0.9zM338.0 160.8h0.9v0.9h-0.9zM345.2 152.6h1.3v1.3h-1.3zM342.2 156.8h0.9v0.9h-0.9zM343.6 152.9h1.3v1.3h-1.3zM344.6 143.3h1.3v1.3h-1.3zM335.2 132.7h0.9v0.9h-0.9zM344.3 150.1h1.3v1.3h-1.3zM323.2 135.6h0.9v0.9h-0.9zM345.8 139.5h0.9v0.9h-0.9zM341.4 132.4h0.9v0.9h-0.9zM334.8 162.8h1.3v1.3h-1.3zM327.4 134.4h0.9v0.9h-0.9zM341.2 158.5h0.9v0.9h-0.9zM319.1 151.6h0.9v0.9h-0.9zM319.7 141.3h0.9v0.9h-0.9zM320.5 157.0h0.9v0.9h-0.9zM322.9 159.1h0.9v0.9h-0.9zM334.1 133.6h0.9v0.9h-0.9zM319.4 147.7h0.9v0.9h-0.9zM344.3 149.0h1.3v1.3h-1.3zM321.8 137.6h0.9v0.9h-0.9zM335.1 162.0h0.9v0.9h-0.9zM343.1 154.2h0.9v0.9h-0.9zM321.0 156.6h0.9v0.9h-0.9zM342.1 131.5h0.9v0.9h-0.9zM325.4 133.5h1.3v1.3h-1.3zM325.1 163.2h0.9v0.9h-0.9zM326.1 134.8h1.3v1.3h-1.3zM321.2 155.4h0.9v0.9h-0.9zM331.6 164.4h0.9v0.9h-0.9zM333.4 132.8h0.9v0.9h-0.9zM343.2 132.7h0.9v0.9h-0.9zM323.8 160.1h0.9v0.9h-0.9zM333.2 132.3h0.9v0.9h-0.9zM325.8 135.1h0.9v0.9h-0.9zM328.3 162.2h1.3v1.3h-1.3zM320.5 149.5h0.9v0.9h-0.9zM320.7 150.6h0.9v0.9h-0.9zM332.8 134.6h1.3v1.3h-1.3zM323.1 160.4h0.9v0.9h-0.9zM344.9 151.6h1.3v1.3h-1.3zM346.3 134.5h0.9v0.9h-0.9zM344.0 149.1h0.9v0.9h-0.9zM336.4 161.6h1.3v1.3h-1.3zM345.9 150.3h1.3v1.3h-1.3zM328.6 162.0h1.3v1.3h-1.3zM324.4 135.1h1.3v1.3h-1.3zM328.8 162.8h0.9v0.9h-0.9zM337.9 131.0h1.3v1.3h-1.3zM327.4 162.3h0.9v0.9h-0.9zM346.2 140.5h0.9v0.9h-0.9zM343.9 148.6h1.3v1.3h-1.3zM324.2 159.3h0.9v0.9h-0.9zM345.3 138.5h1.3v1.3h-1.3zM327.0 134.9h0.9v0.9h-0.9zM324.6 136.3h1.3v1.3h-1.3zM320.2 154.7h0.9v0.9h-0.9zM335.0 164.2h1.3v1.3h-1.3zM332.2 133.6h0.9v0.9h-0.9zM324.5 134.1h1.3v1.3h-1.3zM330.2 163.8h1.3v1.3h-1.3zM320.3 149.0h0.9v0.9h-0.9zM336.3 162.7h0.9v0.9h-0.9zM341.0 157.4h0.9v0.9h-0.9zM340.6 131.7h0.9v0.9h-0.9zM334.8 162.5h0.9v0.9h-0.9zM318.4 150.0h0.9v0.9h-0.9zM322.9 158.5h0.9v0.9h-0.9zM327.7 132.3h0.9v0.9h-0.9zM326.4 161.0h0.9v0.9h-0.9zM336.8 132.8h0.9v0.9h-0.9zM339.7 159.5h0.9v0.9h-0.9zM326.8 134.1h0.9v0.9h-0.9zM343.1 131.5h1.3v1.3h-1.3zM323.1 134.6h0.9v0.9h-0.9zM319.2 154.2h0.9v0.9h-0.9zM319.5 149.9h0.9v0.9h-0.9zM343.3 133.5h0.9v0.9h-0.9zM327.8 135.2h0.9v0.9h-0.9zM332.7 132.4h1.3v1.3h-1.3zM340.9 157.0h0.9v0.9h-0.9zM323.2 136.6h0.9v0.9h-0.9zM344.8 148.5h0.9v0.9h-0.9zM320.6 138.5h1.3v1.3h-1.3zM338.4 160.8h0.9v0.9h-0.9zM324.7 163.0h1.3v1.3h-1.3zM322.2 137.3h0.9v0.9h-0.9zM319.4 143.0h0.9v0.9h-0.9zM339.3 160.6h0.9v0.9h-0.9zM336.1 133.2h1.3v1.3h-1.3zM322.7 157.9h1.3v1.3h-1.3zM318.5 141.0h0.9v0.9h-0.9zM337.3 132.0h0.9v0.9h-0.9zM342.7 153.8h0.9v0.9h-0.9zM341.7 131.4h0.9v0.9h-0.9zM339.9 156.4h0.9v0.9h-0.9zM342.8 153.4h0.9v0.9h-0.9zM344.1 134.1h1.3v1.3h-1.3zM344.6 140.3h0.9v0.9h-0.9zM324.7 135.2h0.9v0.9h-0.9zM342.1 132.2h1.3v1.3h-1.3zM325.5 162.0h0.9v0.9h-0.9zM333.6 163.2h0.9v0.9h-0.9zM345.9 140.3h0.9v0.9h-0.9zM320.0 152.5h0.9v0.9h-0.9zM320.0 138.7h1.3v1.3h-1.3zM335.9 162.6h0.9v0.9h-0.9zM324.1 162.4h0.9v0.9h-0.9zM323.5 160.8h1.3v1.3h-1.3zM325.1 162.0h0.9v0.9h-0.9zM344.5 143.9h0.9v0.9h-0.9zM345.8 138.4h0.9v0.9h-0.9zM331.1 134.1h1.3v1.3h-1.3zM330.7 164.8h0.9v0.9h-0.9zM335.4 162.2h0.9v0.9h-0.9zM318.7 142.9h0.9v0.9h-0.9zM344.5 148.0h0.9v0.9h-0.9zM318.6 142.6h0.9v0.9h-0.9zM323.8 161.5h1.3v1.3h-1.3zM322.5 158.3h0.9v0.9h-0.9zM345.4 137.8h1.3v1.3h-1.3zM339.0 132.1h0.9v0.9h-0.9zM337.9 133.1h0.9v0.9h-0.9zM339.2 160.3h0.9v0.9h-0.9zM344.5 150.0h0.9v0.9h-0.9zM340.8 130.5h1.3v1.3h-1.3zM338.4 131.3h1.3v1.3h-1.3zM320.3 137.2h0.9v0.9h-0.9zM327.8 162.4h0.9v0.9h-0.9zM327.0 161.4h0.9v0.9h-0.9zM345.6 144.7h1.3v1.3h-1.3zM338.4 132.1h0.9v0.9h-0.9zM345.9 152.0h1.3v1.3h-1.3zM345.2 147.0h0.9v0.9h-0.9zM320.5 157.9h0.9v0.9h-0.9zM327.0 135.1h0.9v0.9h-0.9zM320.9 150.1h0.9v0.9h-0.9zM341.0 131.7h0.9v0.9h-0.9zM332.6 134.5h0.9v0.9h-0.9zM320.6 149.8h0.9v0.9h-0.9zM321.1 152.6h0.9v0.9h-0.9zM323.6 135.5h1.3v1.3h-1.3zM331.9 162.5h0.9v0.9h-0.9zM332.2 162.3h0.9v0.9h-0.9zM320.5 139.5h0.9v0.9h-0.9zM338.7 130.4h0.9v0.9h-0.9zM345.6 144.6h0.9v0.9h-0.9zM320.0 139.8h0.9v0.9h-0.9zM339.4 160.6h1.3v1.3h-1.3zM344.2 132.5h0.9v0.9h-0.9zM320.9 159.1h1.3v1.3h-1.3zM335.1 132.0h0.9v0.9h-0.9zM320.2 141.2h0.9v0.9h-0.9zM320.2 146.1h1.3v1.3h-1.3zM345.7 141.2h1.3v1.3h-1.3z" fill="#e5720f"/>
<path d="M400.0 94.3h0.9v0.9h-0.9zM400.9 93.1h0.9v0.9h-0.9zM399.3 94.6h1.2v1.2h-1.2zM399.0 92.8h0.9v0.9h-0.9zM398.9 93.1h0.9v0.9h-0.9zM403.9 92.0h0.9v0.9h-0.9zM402.0 92.3h1.2v1.2h-1.2zM400.6 93.4h0.9v0.9h-0.9zM403.7 93.2h0.9v0.9h-0.9zM403.9 94.0h1.2v1.2h-1.2zM404.5 93.6h1.2v1.2h-1.2zM400.2 94.0h0.9v0.9h-0.9zM398.0 96.1h0.9v0.9h-0.9zM401.9 96.1h1.2v1.2h-1.2zM397.4 96.3h0.9v0.9h-0.9zM398.6 95.3h0.9v0.9h-0.9zM336.5 116.3h0.9v0.9h-0.9zM333.7 113.4h0.9v0.9h-0.9zM336.8 119.0h0.9v0.9h-0.9zM332.8 115.0h1.2v1.2h-1.2zM332.1 120.8h0.9v0.9h-0.9zM336.5 118.5h0.9v0.9h-0.9zM334.3 119.9h0.9v0.9h-0.9zM333.2 115.9h0.9v0.9h-0.9zM335.4 116.4h0.9v0.9h-0.9zM337.1 119.3h0.9v0.9h-0.9z" fill="#1a873b"/>
<line x1="340.30" y1="77.40" x2="340.30" y2="183.50" stroke="#f2706a" stroke-width="0.95" stroke-opacity="0.85"/>
<line x1="425.50" y1="77.90" x2="425.50" y2="183.50" stroke="#7a7a7a" stroke-width="0.8"/>
<line x1="425.50" y1="183.50" x2="472.40" y2="183.50" stroke="#7a7a7a" stroke-width="0.8"/>
<line x1="422.20" y1="78.40" x2="425.50" y2="78.40" stroke="#7a7a7a" stroke-width="0.8"/>
<line x1="422.20" y1="92.97" x2="425.50" y2="92.97" stroke="#7a7a7a" stroke-width="0.8"/>
<line x1="422.20" y1="107.54" x2="425.50" y2="107.54" stroke="#7a7a7a" stroke-width="0.8"/>
<line x1="422.20" y1="122.11" x2="425.50" y2="122.11" stroke="#7a7a7a" stroke-width="0.8"/>
<line x1="422.20" y1="136.68" x2="425.50" y2="136.68" stroke="#7a7a7a" stroke-width="0.8"/>
<line x1="422.20" y1="151.25" x2="425.50" y2="151.25" stroke="#7a7a7a" stroke-width="0.8"/>
<line x1="422.20" y1="165.82" x2="425.50" y2="165.82" stroke="#7a7a7a" stroke-width="0.8"/>
<line x1="422.20" y1="180.39" x2="425.50" y2="180.39" stroke="#7a7a7a" stroke-width="0.8"/>
<line x1="425.50" y1="183.50" x2="425.50" y2="186.50" stroke="#7a7a7a" stroke-width="0.8"/>
<text x="425.50" y="197.15" font-size="8.2" text-anchor="middle" fill="#383838" font-weight="normal">0</text>
<line x1="444.30" y1="183.50" x2="444.30" y2="186.50" stroke="#7a7a7a" stroke-width="0.8"/>
<text x="444.30" y="197.15" font-size="8.2" text-anchor="middle" fill="#383838" font-weight="normal">0.1</text>
<line x1="463.20" y1="183.50" x2="463.20" y2="186.50" stroke="#7a7a7a" stroke-width="0.8"/>
<text x="463.20" y="197.15" font-size="8.2" text-anchor="middle" fill="#383838" font-weight="normal">0.2</text>
<text x="451.20" y="209.80" font-size="8.9" text-anchor="middle" fill="#383838" font-weight="normal">Score density</text>
<path d="M425.50,95.40 C425.88,96.70 426.55,100.82 427.80,103.20 C429.05,105.58 430.62,107.53 433.00,109.70 C435.38,111.87 439.18,114.25 442.10,116.20 C445.02,118.15 448.55,119.88 450.50,121.40 C452.45,122.92 451.95,124.22 453.80,125.30 C455.65,126.38 458.80,127.08 461.60,127.90 C464.40,128.72 470.38,129.33 470.60,130.20 C470.82,131.07 467.00,132.40 462.90,133.10 C458.80,133.80 450.55,134.02 446.00,134.40 C441.45,134.78 439.02,135.15 435.60,135.40 C432.18,135.65 427.18,135.82 425.50,135.90 L425.50,135.90 L425.50,95.40Z" fill="#c3dfca"/>
<path d="M425.50,95.40 C425.88,96.70 426.55,100.82 427.80,103.20 C429.05,105.58 430.62,107.53 433.00,109.70 C435.38,111.87 439.18,114.25 442.10,116.20 C445.02,118.15 448.55,119.88 450.50,121.40 C452.45,122.92 451.95,124.22 453.80,125.30 C455.65,126.38 458.80,127.08 461.60,127.90 C464.40,128.72 470.38,129.33 470.60,130.20 C470.82,131.07 467.00,132.40 462.90,133.10 C458.80,133.80 450.55,134.02 446.00,134.40 C441.45,134.78 439.02,135.15 435.60,135.40 C432.18,135.65 427.18,135.82 425.50,135.90" fill="none" stroke="#52a868" stroke-width="0.8"/>
<path d="M425.50,133.70 C427.18,134.13 432.18,135.43 435.60,136.30 C439.02,137.17 443.08,138.10 446.00,138.90 C448.92,139.70 453.10,139.92 453.10,141.10 C453.10,142.28 448.70,144.32 446.00,146.00 C443.30,147.68 439.50,149.57 436.90,151.20 C434.30,152.83 432.30,154.28 430.40,155.80 C428.50,157.32 426.32,159.55 425.50,160.30 L425.50,160.30 L425.50,133.70Z" fill="#bcbd98" fill-opacity="0.9"/>
<path d="M425.50,133.70 C427.18,134.13 432.18,135.43 435.60,136.30 C439.02,137.17 443.08,138.10 446.00,138.90 C448.92,139.70 453.10,139.92 453.10,141.10 C453.10,142.28 448.70,144.32 446.00,146.00 C443.30,147.68 439.50,149.57 436.90,151.20 C434.30,152.83 432.30,154.28 430.40,155.80 C428.50,157.32 426.32,159.55 425.50,160.30" fill="none" stroke="#c0985a" stroke-width="0.6"/>
<path d="M425.50,133.70 C427.18,134.13 432.18,135.43 435.60,136.30 C439.02,137.17 443.08,138.10 446.00,138.90 C448.92,139.70 453.10,139.92 453.10,141.10 C453.10,142.28 448.70,144.32 446.00,146.00 C443.30,147.68 439.50,149.57 436.90,151.20 C434.30,152.83 432.30,154.28 430.40,155.80 C428.50,157.32 426.32,159.55 425.50,160.30" fill="none" stroke="#3f8a4a" stroke-width="0.7" stroke-opacity="0.9"/>
<line x1="310.40" y1="136.40" x2="472.60" y2="136.40" stroke="#f2706a" stroke-width="1.1" stroke-opacity="0.6"/>
<line x1="515.90" y1="17.20" x2="515.90" y2="66.20" stroke="#7a7a7a" stroke-width="0.8"/>
<line x1="512.60" y1="21.20" x2="515.90" y2="21.20" stroke="#7a7a7a" stroke-width="0.8"/>
<text x="509.50" y="24.19" font-size="8.3" text-anchor="end" fill="#383838" font-weight="normal">0.3</text>
<line x1="512.60" y1="36.20" x2="515.90" y2="36.20" stroke="#7a7a7a" stroke-width="0.8"/>
<text x="509.50" y="39.19" font-size="8.3" text-anchor="end" fill="#383838" font-weight="normal">0.2</text>
<line x1="512.60" y1="51.30" x2="515.90" y2="51.30" stroke="#7a7a7a" stroke-width="0.8"/>
<text x="509.50" y="54.29" font-size="8.3" text-anchor="end" fill="#383838" font-weight="normal">0.1</text>
<line x1="512.60" y1="66.20" x2="515.90" y2="66.20" stroke="#7a7a7a" stroke-width="0.8"/>
<text x="509.50" y="69.19" font-size="8.3" text-anchor="end" fill="#383838" font-weight="normal">0</text>
<path d="M522.00,66.20 C522.83,66.17 525.23,66.87 527.00,66.00 C528.77,65.13 530.82,64.05 532.60,61.00 C534.38,57.95 536.17,52.47 537.70,47.70 C539.23,42.93 540.60,36.65 541.80,32.40 C543.00,28.15 543.97,24.33 544.90,22.20 C545.83,20.07 546.47,19.68 547.40,19.60 C548.33,19.52 549.57,20.08 550.50,21.70 C551.43,23.32 552.07,26.75 553.00,29.30 C553.93,31.85 555.07,35.47 556.10,37.00 C557.13,38.53 558.10,38.45 559.20,38.50 C560.30,38.55 561.52,36.62 562.70,37.30 C563.88,37.98 565.02,40.87 566.30,42.60 C567.58,44.33 568.95,46.33 570.40,47.70 C571.85,49.07 572.85,49.25 575.00,50.80 C577.15,52.35 579.87,55.12 583.30,57.00 C586.73,58.88 592.02,60.67 595.60,62.10 C599.18,63.53 602.73,64.92 604.80,65.60 C606.87,66.28 607.47,66.10 608.00,66.20 L608.00,66.20 L522.00,66.20Z" fill="#c3dfca" stroke="none"/>
<path d="M522.00,66.20 C522.83,66.17 525.23,66.87 527.00,66.00 C528.77,65.13 530.82,64.05 532.60,61.00 C534.38,57.95 536.17,52.47 537.70,47.70 C539.23,42.93 540.60,36.65 541.80,32.40 C543.00,28.15 543.97,24.33 544.90,22.20 C545.83,20.07 546.47,19.68 547.40,19.60 C548.33,19.52 549.57,20.08 550.50,21.70 C551.43,23.32 552.07,26.75 553.00,29.30 C553.93,31.85 555.07,35.47 556.10,37.00 C557.13,38.53 558.10,38.45 559.20,38.50 C560.30,38.55 561.52,36.62 562.70,37.30 C563.88,37.98 565.02,40.87 566.30,42.60 C567.58,44.33 568.95,46.33 570.40,47.70 C571.85,49.07 572.85,49.25 575.00,50.80 C577.15,52.35 579.87,55.12 583.30,57.00 C586.73,58.88 592.02,60.67 595.60,62.10 C599.18,63.53 602.73,64.92 604.80,65.60 C606.87,66.28 607.47,66.10 608.00,66.20" fill="none" stroke="#52a868" stroke-width="0.8"/>
<path d="M522.00,66.20 C522.83,66.17 525.23,66.87 527.00,66.00 C528.77,65.13 530.82,64.05 532.60,61.00 C534.38,57.95 536.17,52.47 537.70,47.70 C539.23,42.93 540.60,36.65 541.80,32.40 C543.00,28.15 543.97,24.33 544.90,22.20 C545.83,20.07 546.47,19.68 547.40,19.60 C548.33,19.52 549.57,19.92 550.50,21.70 C551.43,23.48 552.07,26.82 553.00,30.30 C553.93,33.78 555.07,38.50 556.10,42.60 C557.13,46.70 558.18,51.32 559.20,54.90 C560.22,58.48 561.43,62.25 562.20,64.10 C562.97,65.95 563.17,65.65 563.80,66.00 C564.43,66.35 565.63,66.17 566.00,66.20 L566.00,66.20 L522.00,66.20Z" fill="#bcbd98" fill-opacity="0.85" stroke="none"/>
<path d="M522.00,66.20 C522.83,66.17 525.23,66.87 527.00,66.00 C528.77,65.13 530.82,64.05 532.60,61.00 C534.38,57.95 536.17,52.47 537.70,47.70 C539.23,42.93 540.60,36.65 541.80,32.40 C543.00,28.15 543.97,24.33 544.90,22.20 C545.83,20.07 546.47,19.68 547.40,19.60 C548.33,19.52 549.57,19.92 550.50,21.70 C551.43,23.48 552.07,26.82 553.00,30.30 C553.93,33.78 555.07,38.50 556.10,42.60 C557.13,46.70 558.18,51.32 559.20,54.90 C560.22,58.48 561.43,62.25 562.20,64.10 C562.97,65.95 563.17,65.65 563.80,66.00 C564.43,66.35 565.63,66.17 566.00,66.20" fill="none" stroke="#c0985a" stroke-width="0.7"/>
<path d="M522.00,66.20 C522.83,66.17 525.23,66.87 527.00,66.00 C528.77,65.13 530.82,64.05 532.60,61.00 C534.38,57.95 536.17,52.47 537.70,47.70 C539.23,42.93 540.60,36.65 541.80,32.40 C543.00,28.15 543.97,24.33 544.90,22.20 C545.83,20.07 546.47,19.68 547.40,19.60 C548.33,19.52 549.57,20.08 550.50,21.70 C551.43,23.32 552.07,26.75 553.00,29.30 C553.93,31.85 555.07,35.47 556.10,37.00 C557.13,38.53 558.10,38.45 559.20,38.50 C560.30,38.55 561.52,36.62 562.70,37.30 C563.88,37.98 565.02,40.87 566.30,42.60 C567.58,44.33 568.95,46.33 570.40,47.70 C571.85,49.07 572.85,49.25 575.00,50.80 C577.15,52.35 579.87,55.12 583.30,57.00 C586.73,58.88 592.02,60.67 595.60,62.10 C599.18,63.53 602.73,64.92 604.80,65.60 C606.87,66.28 607.47,66.10 608.00,66.20" fill="none" stroke="#52a868" stroke-width="0.6" stroke-opacity="0.7"/>
<line x1="515.90" y1="66.20" x2="621.50" y2="66.20" stroke="#7a7a7a" stroke-width="0.8"/>
<line x1="518.30" y1="66.20" x2="518.30" y2="69.20" stroke="#7a7a7a" stroke-width="0.8"/>
<line x1="532.90" y1="66.20" x2="532.90" y2="69.20" stroke="#7a7a7a" stroke-width="0.8"/>
<line x1="547.50" y1="66.20" x2="547.50" y2="69.20" stroke="#7a7a7a" stroke-width="0.8"/>
<line x1="562.10" y1="66.20" x2="562.10" y2="69.20" stroke="#7a7a7a" stroke-width="0.8"/>
<line x1="576.70" y1="66.20" x2="576.70" y2="69.20" stroke="#7a7a7a" stroke-width="0.8"/>
<line x1="591.30" y1="66.20" x2="591.30" y2="69.20" stroke="#7a7a7a" stroke-width="0.8"/>
<line x1="605.90" y1="66.20" x2="605.90" y2="69.20" stroke="#7a7a7a" stroke-width="0.8"/>
<line x1="620.50" y1="66.20" x2="620.50" y2="69.20" stroke="#7a7a7a" stroke-width="0.8"/>
<line x1="561.90" y1="16.80" x2="561.90" y2="66.20" stroke="#f2706a" stroke-width="0.95" stroke-opacity="0.5"/>
<text x="488.30" y="44.80" font-size="8.9" text-anchor="middle" fill="#383838" font-weight="normal" transform="rotate(-90 488.30 41.60)">Score density</text>
<text x="624.50" y="23.73" font-size="8.7" text-anchor="middle" fill="#383838" font-weight="normal">EID chymotrypsin (PSMs)</text>
<line x1="515.80" y1="76.10" x2="515.80" y2="183.40" stroke="#7a7a7a" stroke-width="0.8"/>
<line x1="515.80" y1="183.40" x2="621.50" y2="183.40" stroke="#7a7a7a" stroke-width="0.8"/>
<line x1="512.50" y1="89.00" x2="515.80" y2="89.00" stroke="#7a7a7a" stroke-width="0.8"/>
<text x="508.80" y="91.95" font-size="8.2" text-anchor="end" fill="#383838" font-weight="normal">4</text>
<line x1="512.50" y1="108.90" x2="515.80" y2="108.90" stroke="#7a7a7a" stroke-width="0.8"/>
<text x="508.80" y="111.85" font-size="8.2" text-anchor="end" fill="#383838" font-weight="normal">2</text>
<line x1="512.50" y1="128.90" x2="515.80" y2="128.90" stroke="#7a7a7a" stroke-width="0.8"/>
<text x="508.80" y="131.85" font-size="8.2" text-anchor="end" fill="#383838" font-weight="normal">0</text>
<line x1="512.50" y1="148.80" x2="515.80" y2="148.80" stroke="#7a7a7a" stroke-width="0.8"/>
<text x="508.80" y="151.75" font-size="8.2" text-anchor="end" fill="#383838" font-weight="normal">-2</text>
<line x1="512.50" y1="168.70" x2="515.80" y2="168.70" stroke="#7a7a7a" stroke-width="0.8"/>
<text x="508.80" y="171.65" font-size="8.2" text-anchor="end" fill="#383838" font-weight="normal">-4</text>
<line x1="517.90" y1="183.40" x2="517.90" y2="186.40" stroke="#7a7a7a" stroke-width="0.8"/>
<text x="516.70" y="197.15" font-size="8.2" text-anchor="middle" fill="#383838" font-weight="normal">-3</text>
<line x1="532.50" y1="183.40" x2="532.50" y2="186.40" stroke="#7a7a7a" stroke-width="0.8"/>
<text x="531.30" y="197.15" font-size="8.2" text-anchor="middle" fill="#383838" font-weight="normal">-2</text>
<line x1="547.10" y1="183.40" x2="547.10" y2="186.40" stroke="#7a7a7a" stroke-width="0.8"/>
<text x="545.90" y="197.15" font-size="8.2" text-anchor="middle" fill="#383838" font-weight="normal">-1</text>
<line x1="561.70" y1="183.40" x2="561.70" y2="186.40" stroke="#7a7a7a" stroke-width="0.8"/>
<text x="561.70" y="197.15" font-size="8.2" text-anchor="middle" fill="#383838" font-weight="normal">0</text>
<line x1="576.30" y1="183.40" x2="576.30" y2="186.40" stroke="#7a7a7a" stroke-width="0.8"/>
<text x="576.30" y="197.15" font-size="8.2" text-anchor="middle" fill="#383838" font-weight="normal">1</text>
<line x1="590.90" y1="183.40" x2="590.90" y2="186.40" stroke="#7a7a7a" stroke-width="0.8"/>
<text x="590.90" y="197.15" font-size="8.2" text-anchor="middle" fill="#383838" font-weight="normal">2</text>
<line x1="605.50" y1="183.40" x2="605.50" y2="186.40" stroke="#7a7a7a" stroke-width="0.8"/>
<text x="605.50" y="197.15" font-size="8.2" text-anchor="middle" fill="#383838" font-weight="normal">3</text>
<line x1="620.10" y1="183.40" x2="620.10" y2="186.40" stroke="#7a7a7a" stroke-width="0.8"/>
<text x="620.10" y="197.15" font-size="8.2" text-anchor="middle" fill="#383838" font-weight="normal">4</text>
<text x="568.60" y="209.80" font-size="8.9" text-anchor="middle" fill="#383838" font-weight="normal">Score</text>
<text x="567.40" y="220.00" font-size="8.9" text-anchor="middle" fill="#383838" font-weight="normal">(FragPipe-Percolator)</text>
<text x="477.50" y="132.40" font-size="8.9" text-anchor="middle" fill="#383838" font-weight="normal" transform="rotate(-90 477.50 129.20)">Score</text>
<text x="487.50" y="132.40" font-size="8.9" text-anchor="middle" fill="#383838" font-weight="normal" transform="rotate(-90 487.50 129.20)">(Oktoberfest-Percolator)</text>
<path d="M538.8,126.0 L538.1,125.6 L538.8,125.5 L539.2,125.0 L540.2,125.3 L540.1,123.8 L541.7,124.6 L542.1,123.5 L542.6,122.5 L543.6,122.3 L544.8,122.5 L545.5,121.8 L546.2,121.4 L547.0,121.2 L547.0,119.9 L548.0,120.1 L548.7,119.8 L549.4,119.5 L549.9,118.8 L550.5,118.4 L550.9,117.7 L551.9,117.8 L552.4,117.3 L553.6,117.7 L553.4,116.1 L553.9,115.6 L554.8,115.7 L555.1,114.8 L555.8,114.5 L556.5,114.3 L556.9,113.6 L557.8,113.6 L557.7,112.5 L558.2,112.1 L559.0,112.0 L559.4,111.5 L560.3,111.6 L560.3,110.8 L560.9,110.5 L561.5,110.4 L561.5,109.7 L561.8,109.3 L562.6,109.5 L563.1,109.3 L563.1,108.7 L563.5,108.5 L563.9,108.3 L563.8,107.4 L564.3,107.3 L564.4,106.5 L565.3,107.3 L565.8,107.2 L565.9,105.9 L566.5,106.2 L567.3,106.7 L567.6,106.0 L568.4,106.7 L568.8,105.9 L569.3,105.5 L570.2,106.2 L570.4,105.1 L570.8,104.3 L571.4,104.0 L572.0,103.9 L572.9,104.3 L573.6,104.2 L574.2,104.0 L575.1,104.2 L575.7,103.9 L576.4,103.5 L576.6,102.3 L577.7,103.0 L578.1,102.2 L579.1,102.6 L579.0,100.8 L580.2,101.4 L580.7,100.9 L581.4,100.7 L581.8,99.8 L582.9,100.3 L583.1,99.2 L583.9,99.1 L584.5,98.9 L585.1,98.5 L585.6,97.8 L586.2,97.4 L587.1,97.8 L587.8,97.7 L588.2,96.8 L588.9,96.9 L589.3,95.9 L590.2,96.5 L590.7,95.8 L591.3,95.4 L592.4,96.4 L592.6,95.0 L593.8,96.1 L594.3,95.5 L595.0,95.2 L595.8,95.2 L595.9,93.5 L596.5,93.1 L597.3,93.2 L598.1,93.1 L598.6,92.7 L599.6,93.6 L600.0,93.3 L600.5,93.1 L600.9,93.2 L601.3,92.4 L601.6,93.3 L602.1,92.1 L602.2,93.5 L602.7,92.8 L603.2,92.4 L603.0,93.5 L603.3,93.6 L604.2,93.1 L603.5,94.3 L604.0,94.4 L605.0,94.1 L604.3,95.1 L604.5,95.5 L604.6,96.0 L605.4,96.4 L606.0,96.9 L605.4,97.7 L606.2,98.2 L605.7,99.0 L606.2,99.6 L606.8,100.2 L606.0,101.0 L606.6,101.6 L607.1,102.2 L607.4,102.8 L606.9,103.4 L606.8,104.1 L606.0,104.7 L607.1,105.4 L606.8,106.0 L606.9,106.6 L607.0,107.3 L606.2,107.7 L606.7,108.5 L605.8,108.8 L605.0,109.1 L605.6,110.0 L604.6,110.1 L605.5,111.3 L604.9,111.6 L604.8,112.3 L604.5,112.9 L604.0,113.3 L602.7,113.0 L603.1,114.3 L602.6,114.8 L602.3,115.4 L601.4,115.5 L600.3,115.2 L600.4,116.4 L600.0,117.1 L598.8,116.7 L598.6,117.8 L597.5,117.5 L597.5,118.9 L596.7,119.1 L595.8,119.1 L595.4,120.1 L594.5,120.0 L593.6,120.0 L592.7,120.0 L592.4,121.2 L591.5,121.2 L590.8,121.7 L589.8,121.4 L589.1,122.0 L588.3,122.1 L587.6,122.8 L586.9,123.3 L585.7,122.5 L585.0,123.2 L584.2,123.5 L583.3,123.6 L583.1,125.2 L582.0,125.0 L580.9,124.8 L580.7,126.3 L579.8,126.4 L579.3,127.4 L578.2,127.0 L577.2,126.9 L576.5,127.3 L575.8,127.6 L575.4,128.6 L574.9,129.3 L573.8,128.5 L573.4,129.5 L572.7,129.6 L572.3,130.4 L571.7,130.6 L571.1,131.0 L570.3,130.8 L569.8,131.1 L568.8,130.2 L568.4,131.0 L567.6,130.5 L567.4,132.0 L566.6,131.1 L566.1,131.1 L565.8,132.4 L565.1,131.4 L564.6,131.4 L564.1,132.7 L563.4,132.5 L562.7,132.7 L561.9,132.1 L561.0,132.1 L560.0,132.6 L558.9,131.3 L557.6,131.9 L556.2,131.8 L554.9,131.1 L553.4,131.4 L551.9,131.8 L550.6,130.7 L549.2,131.3 L548.0,130.6 L546.7,130.8 L545.7,130.6 L544.8,130.2 L544.0,129.3 L543.1,129.1 L542.3,128.7 L541.8,127.7 L540.6,128.1 L539.7,128.1 L539.3,127.4 L539.4,126.5 L538.4,126.8 L538.1,126.4Z" fill="#1a873b"/>
<path d="M585.7 95.2h0.9v0.9h-0.9zM556.4 112.0h0.9v0.9h-0.9zM554.2 115.2h1.3v1.3h-1.3zM578.4 127.7h1.3v1.3h-1.3zM551.3 117.0h1.3v1.3h-1.3zM599.3 89.8h0.9v0.9h-0.9zM605.2 112.0h0.9v0.9h-0.9zM604.3 92.9h0.9v0.9h-0.9zM590.1 96.1h0.9v0.9h-0.9zM584.9 125.0h0.9v0.9h-0.9zM594.2 122.2h0.9v0.9h-0.9zM571.1 131.2h0.9v0.9h-0.9zM590.7 124.7h0.9v0.9h-0.9zM602.0 93.8h0.9v0.9h-0.9zM602.8 92.1h0.9v0.9h-0.9zM566.5 132.0h1.3v1.3h-1.3zM603.7 92.2h0.9v0.9h-0.9zM601.1 115.0h0.9v0.9h-0.9zM570.8 131.1h0.9v0.9h-0.9zM565.7 132.3h0.9v0.9h-0.9zM602.0 92.9h1.3v1.3h-1.3zM550.5 118.0h0.9v0.9h-0.9zM569.9 103.1h1.3v1.3h-1.3zM571.0 130.4h0.9v0.9h-0.9zM553.4 114.6h0.9v0.9h-0.9zM584.1 123.7h0.9v0.9h-0.9zM560.5 133.0h0.9v0.9h-0.9zM594.5 119.4h0.9v0.9h-0.9zM541.4 123.4h0.9v0.9h-0.9zM562.8 132.9h1.3v1.3h-1.3zM553.9 131.6h0.9v0.9h-0.9zM547.9 119.7h0.9v0.9h-0.9zM548.5 118.1h0.9v0.9h-0.9zM547.7 118.1h0.9v0.9h-0.9zM571.9 103.8h1.3v1.3h-1.3zM539.3 125.2h0.9v0.9h-0.9zM587.0 95.6h0.9v0.9h-0.9zM606.6 107.0h1.3v1.3h-1.3zM594.1 121.9h0.9v0.9h-0.9zM577.2 129.7h0.9v0.9h-0.9zM545.4 120.5h0.9v0.9h-0.9zM547.7 119.1h0.9v0.9h-0.9zM578.0 101.7h1.3v1.3h-1.3zM572.3 129.5h1.3v1.3h-1.3zM576.9 127.3h1.3v1.3h-1.3zM573.4 104.3h0.9v0.9h-0.9zM544.2 129.9h0.9v0.9h-0.9zM602.5 116.8h0.9v0.9h-0.9zM556.6 113.6h0.9v0.9h-0.9zM606.6 104.3h1.3v1.3h-1.3zM567.9 131.4h0.9v0.9h-0.9zM606.1 98.2h0.9v0.9h-0.9zM545.6 131.6h0.9v0.9h-0.9zM567.7 132.9h0.9v0.9h-0.9zM599.4 94.0h0.9v0.9h-0.9zM539.3 125.3h1.3v1.3h-1.3zM585.4 96.6h0.9v0.9h-0.9zM604.4 91.4h0.9v0.9h-0.9zM538.8 129.0h1.3v1.3h-1.3zM577.7 126.9h0.9v0.9h-0.9zM608.5 107.3h0.9v0.9h-0.9zM562.2 132.9h0.9v0.9h-0.9zM599.4 117.1h0.9v0.9h-0.9zM608.8 102.1h0.9v0.9h-0.9zM595.4 119.5h0.9v0.9h-0.9zM603.6 93.8h0.9v0.9h-0.9zM605.1 110.5h0.9v0.9h-0.9zM573.3 101.3h0.9v0.9h-0.9zM564.9 103.8h1.3v1.3h-1.3zM555.7 114.1h0.9v0.9h-0.9zM546.7 121.3h0.9v0.9h-0.9zM607.6 101.6h1.3v1.3h-1.3zM608.0 100.5h1.3v1.3h-1.3zM543.6 121.2h0.9v0.9h-0.9zM566.3 133.2h1.3v1.3h-1.3zM592.0 122.6h0.9v0.9h-0.9zM602.4 92.6h1.3v1.3h-1.3zM584.6 94.7h1.3v1.3h-1.3zM549.9 131.3h1.3v1.3h-1.3zM565.2 107.5h1.3v1.3h-1.3zM607.5 107.3h0.9v0.9h-0.9zM556.9 132.0h0.9v0.9h-0.9zM588.4 93.9h1.3v1.3h-1.3zM563.5 109.0h0.9v0.9h-0.9zM590.6 94.8h0.9v0.9h-0.9zM557.8 110.4h1.3v1.3h-1.3zM606.4 109.9h0.9v0.9h-0.9zM595.2 90.9h0.9v0.9h-0.9zM538.0 126.9h0.9v0.9h-0.9zM604.0 110.4h0.9v0.9h-0.9zM607.5 110.3h1.3v1.3h-1.3zM609.3 100.3h0.9v0.9h-0.9zM536.1 126.0h0.9v0.9h-0.9zM604.7 112.7h0.9v0.9h-0.9zM544.2 131.2h0.9v0.9h-0.9zM546.9 120.5h1.3v1.3h-1.3zM606.2 111.0h1.3v1.3h-1.3zM602.3 116.6h0.9v0.9h-0.9zM547.1 118.8h1.3v1.3h-1.3zM544.8 122.3h0.9v0.9h-0.9zM540.5 127.4h0.9v0.9h-0.9zM561.9 108.7h0.9v0.9h-0.9zM542.5 129.4h1.3v1.3h-1.3zM558.7 109.7h0.9v0.9h-0.9zM582.3 127.2h0.9v0.9h-0.9zM563.2 106.1h1.3v1.3h-1.3zM604.4 114.6h1.3v1.3h-1.3zM606.2 94.9h0.9v0.9h-0.9zM572.8 101.0h0.9v0.9h-0.9zM601.6 90.4h0.9v0.9h-0.9zM588.9 96.9h0.9v0.9h-0.9zM538.2 124.4h1.3v1.3h-1.3zM552.9 117.7h0.9v0.9h-0.9zM594.2 119.6h0.9v0.9h-0.9zM575.1 129.5h0.9v0.9h-0.9zM595.2 119.8h0.9v0.9h-0.9zM574.9 129.8h0.9v0.9h-0.9zM607.9 103.1h0.9v0.9h-0.9zM575.6 129.4h1.3v1.3h-1.3zM606.1 96.1h0.9v0.9h-0.9zM542.6 129.2h0.9v0.9h-0.9zM587.9 124.5h1.3v1.3h-1.3zM595.0 123.0h0.9v0.9h-0.9zM607.4 105.6h0.9v0.9h-0.9zM539.5 123.4h0.9v0.9h-0.9zM606.7 93.5h1.3v1.3h-1.3zM597.8 120.2h1.3v1.3h-1.3zM606.8 105.1h1.3v1.3h-1.3zM552.2 114.1h0.9v0.9h-0.9zM566.2 133.8h0.9v0.9h-0.9zM560.7 110.1h1.3v1.3h-1.3zM563.8 106.7h0.9v0.9h-0.9zM579.3 99.1h0.9v0.9h-0.9zM561.9 131.3h0.9v0.9h-0.9zM588.1 97.9h0.9v0.9h-0.9zM601.2 92.1h0.9v0.9h-0.9zM592.0 122.4h0.9v0.9h-0.9zM545.1 121.1h0.9v0.9h-0.9zM609.1 108.3h0.9v0.9h-0.9zM574.1 103.5h1.3v1.3h-1.3zM548.3 133.6h1.3v1.3h-1.3zM554.5 112.4h0.9v0.9h-0.9zM551.4 118.2h0.9v0.9h-0.9zM587.9 94.7h1.3v1.3h-1.3zM601.0 115.9h1.3v1.3h-1.3zM583.2 97.5h0.9v0.9h-0.9zM552.5 133.4h0.9v0.9h-0.9zM590.6 94.2h1.3v1.3h-1.3zM585.1 122.5h0.9v0.9h-0.9zM565.0 104.0h0.9v0.9h-0.9zM573.7 128.9h0.9v0.9h-0.9zM561.6 131.8h1.3v1.3h-1.3zM582.0 97.8h0.9v0.9h-0.9zM594.3 120.5h0.9v0.9h-0.9zM602.1 115.0h1.3v1.3h-1.3zM555.1 113.7h0.9v0.9h-0.9zM607.5 108.5h0.9v0.9h-0.9zM551.4 117.2h0.9v0.9h-0.9zM555.8 113.3h0.9v0.9h-0.9zM580.2 125.8h1.3v1.3h-1.3zM585.5 123.9h0.9v0.9h-0.9zM590.6 122.7h0.9v0.9h-0.9zM545.5 122.1h0.9v0.9h-0.9zM596.5 91.2h0.9v0.9h-0.9zM566.3 132.1h0.9v0.9h-0.9zM598.1 92.5h1.3v1.3h-1.3zM543.6 121.7h0.9v0.9h-0.9zM607.4 111.2h0.9v0.9h-0.9zM565.2 132.8h1.3v1.3h-1.3zM577.7 129.4h0.9v0.9h-0.9zM563.0 108.3h0.9v0.9h-0.9zM576.4 128.4h0.9v0.9h-0.9zM538.7 125.6h1.3v1.3h-1.3zM608.2 94.8h1.3v1.3h-1.3zM600.9 117.0h0.9v0.9h-0.9zM553.2 113.3h1.3v1.3h-1.3zM553.8 111.3h1.3v1.3h-1.3zM563.4 132.9h0.9v0.9h-0.9zM602.4 92.8h1.3v1.3h-1.3zM557.4 111.3h0.9v0.9h-0.9zM564.1 132.8h1.3v1.3h-1.3zM558.4 111.8h0.9v0.9h-0.9zM574.0 102.6h0.9v0.9h-0.9zM594.4 94.1h0.9v0.9h-0.9zM587.5 97.0h1.3v1.3h-1.3zM576.8 101.2h0.9v0.9h-0.9zM581.2 98.7h0.9v0.9h-0.9zM606.1 98.3h0.9v0.9h-0.9zM561.5 108.8h0.9v0.9h-0.9zM564.2 106.8h0.9v0.9h-0.9zM544.4 133.6h0.9v0.9h-0.9zM581.6 99.0h0.9v0.9h-0.9zM604.8 94.4h0.9v0.9h-0.9zM545.3 121.9h1.3v1.3h-1.3zM608.2 107.7h0.9v0.9h-0.9zM569.2 106.0h0.9v0.9h-0.9zM597.6 119.0h0.9v0.9h-0.9zM540.8 123.1h0.9v0.9h-0.9zM555.2 113.7h0.9v0.9h-0.9zM580.3 128.1h1.3v1.3h-1.3zM593.8 96.0h0.9v0.9h-0.9zM591.5 121.7h1.3v1.3h-1.3zM579.9 101.2h0.9v0.9h-0.9zM577.7 102.1h1.3v1.3h-1.3zM556.2 113.7h0.9v0.9h-0.9zM566.3 130.4h0.9v0.9h-0.9zM573.3 130.7h0.9v0.9h-0.9zM595.9 119.6h0.9v0.9h-0.9zM564.7 132.6h0.9v0.9h-0.9zM579.3 99.4h0.9v0.9h-0.9zM607.9 101.7h0.9v0.9h-0.9zM598.8 118.5h0.9v0.9h-0.9zM593.6 124.1h0.9v0.9h-0.9zM584.1 97.6h0.9v0.9h-0.9zM549.9 118.9h0.9v0.9h-0.9zM600.1 120.5h0.9v0.9h-0.9zM568.6 105.4h1.3v1.3h-1.3zM559.5 110.2h1.3v1.3h-1.3zM553.6 117.8h0.9v0.9h-0.9zM601.1 117.8h1.3v1.3h-1.3zM575.4 104.0h0.9v0.9h-0.9zM601.0 92.1h1.3v1.3h-1.3zM606.2 108.6h0.9v0.9h-0.9zM558.9 112.7h1.3v1.3h-1.3zM565.9 107.1h1.3v1.3h-1.3zM603.5 114.5h0.9v0.9h-0.9zM575.7 102.6h0.9v0.9h-0.9zM569.7 130.7h1.3v1.3h-1.3zM606.6 102.5h1.3v1.3h-1.3zM554.2 131.6h0.9v0.9h-0.9zM592.7 95.0h0.9v0.9h-0.9zM587.5 97.2h1.3v1.3h-1.3zM579.7 125.7h0.9v0.9h-0.9zM543.3 122.0h0.9v0.9h-0.9zM540.4 123.6h0.9v0.9h-0.9zM589.0 94.8h0.9v0.9h-0.9zM600.6 119.8h0.9v0.9h-0.9zM607.7 95.7h1.3v1.3h-1.3zM590.5 121.3h0.9v0.9h-0.9zM593.8 96.1h0.9v0.9h-0.9zM559.7 112.6h0.9v0.9h-0.9zM566.6 132.4h0.9v0.9h-0.9zM577.9 100.6h0.9v0.9h-0.9zM563.4 107.2h1.3v1.3h-1.3zM604.2 115.3h1.3v1.3h-1.3zM558.2 132.0h0.9v0.9h-0.9zM598.8 92.6h0.9v0.9h-0.9zM537.5 129.6h1.3v1.3h-1.3zM575.2 128.1h1.3v1.3h-1.3zM539.9 122.2h0.9v0.9h-0.9zM606.3 93.3h0.9v0.9h-0.9zM555.6 109.7h1.3v1.3h-1.3zM600.1 116.8h0.9v0.9h-0.9zM588.4 124.5h0.9v0.9h-0.9zM580.2 101.6h0.9v0.9h-0.9zM605.6 113.2h0.9v0.9h-0.9zM582.1 97.4h0.9v0.9h-0.9zM602.2 114.1h0.9v0.9h-0.9zM592.2 95.7h0.9v0.9h-0.9zM586.2 97.7h1.3v1.3h-1.3zM538.5 125.8h0.9v0.9h-0.9zM558.3 110.3h0.9v0.9h-0.9zM539.3 130.9h0.9v0.9h-0.9zM552.9 117.5h0.9v0.9h-0.9zM573.8 130.2h0.9v0.9h-0.9zM581.4 96.8h0.9v0.9h-0.9zM593.9 94.4h0.9v0.9h-0.9zM603.4 92.2h0.9v0.9h-0.9zM607.9 106.6h0.9v0.9h-0.9zM578.5 102.4h0.9v0.9h-0.9zM571.1 101.8h0.9v0.9h-0.9zM607.6 102.6h0.9v0.9h-0.9zM605.3 110.3h1.3v1.3h-1.3zM589.9 95.9h0.9v0.9h-0.9zM567.5 134.1h0.9v0.9h-0.9zM602.9 92.7h0.9v0.9h-0.9zM602.2 113.0h1.3v1.3h-1.3zM573.2 104.0h0.9v0.9h-0.9zM538.4 125.9h0.9v0.9h-0.9zM588.3 96.1h1.3v1.3h-1.3zM567.4 129.8h0.9v0.9h-0.9zM604.1 94.7h0.9v0.9h-0.9zM580.3 125.6h0.9v0.9h-0.9zM542.7 129.6h1.3v1.3h-1.3zM595.5 92.9h0.9v0.9h-0.9zM605.9 110.1h0.9v0.9h-0.9zM591.3 94.6h0.9v0.9h-0.9zM566.5 134.3h0.9v0.9h-0.9zM580.3 127.0h0.9v0.9h-0.9zM543.2 129.2h0.9v0.9h-0.9zM604.1 92.1h0.9v0.9h-0.9zM551.2 130.1h0.9v0.9h-0.9zM574.2 128.3h1.3v1.3h-1.3zM580.8 100.3h0.9v0.9h-0.9zM553.5 114.8h1.3v1.3h-1.3zM549.6 131.6h0.9v0.9h-0.9zM573.6 130.0h1.3v1.3h-1.3zM576.5 131.3h1.3v1.3h-1.3zM540.6 129.8h1.3v1.3h-1.3zM571.6 131.5h1.3v1.3h-1.3z" fill="#1a873b"/>
<path d="M526.5,132.1 L526.9,131.8 L527.1,131.5 L527.3,131.1 L527.7,130.9 L528.2,130.9 L528.5,130.7 L528.9,130.5 L529.4,130.4 L529.7,129.9 L530.2,129.8 L530.7,129.6 L531.2,129.5 L531.7,129.3 L532.2,129.0 L532.9,129.1 L533.4,128.7 L534.1,128.8 L534.7,128.4 L535.4,128.2 L536.1,128.1 L536.9,127.9 L537.7,127.8 L538.5,127.5 L539.3,127.3 L540.0,126.8 L540.9,126.9 L541.7,126.7 L542.5,126.4 L543.3,126.2 L544.1,126.0 L544.9,125.8 L545.8,126.0 L546.5,125.5 L547.3,125.4 L548.1,125.3 L548.9,125.4 L549.6,125.0 L550.5,125.1 L551.3,125.0 L552.1,124.9 L552.8,124.6 L553.6,124.6 L554.4,124.5 L555.1,124.3 L555.9,124.5 L556.6,124.3 L557.3,124.4 L557.9,124.4 L558.5,124.2 L559.2,124.3 L559.8,124.0 L560.4,124.3 L561.0,124.1 L561.6,123.9 L562.2,124.1 L562.8,124.0 L563.3,124.2 L563.8,124.2 L564.3,124.4 L564.8,124.3 L565.2,124.4 L565.6,124.4 L565.9,124.7 L566.2,125.0 L566.6,125.0 L566.8,125.3 L567.1,125.4 L567.0,125.9 L567.4,126.1 L567.5,126.4 L567.2,126.8 L567.6,127.1 L567.6,127.5 L567.6,127.8 L567.6,128.3 L567.7,128.7 L567.4,129.1 L567.7,129.6 L567.6,130.1 L567.6,130.6 L567.5,131.1 L567.6,131.7 L567.2,132.3 L567.1,132.9 L567.3,133.6 L567.1,134.3 L567.0,135.0 L566.8,135.7 L566.8,136.4 L566.7,137.2 L566.5,137.9 L566.4,138.6 L566.2,139.3 L566.1,140.0 L565.9,140.6 L565.9,141.3 L565.9,141.9 L565.5,142.5 L565.6,143.1 L565.3,143.7 L565.3,144.3 L565.4,145.0 L565.2,145.6 L565.0,146.1 L564.8,146.7 L564.5,147.2 L564.6,147.9 L564.4,148.4 L564.4,149.0 L563.8,149.4 L563.7,149.9 L563.7,150.5 L563.4,150.9 L563.0,151.4 L562.9,151.9 L562.8,152.4 L562.5,152.9 L562.3,153.3 L562.0,153.7 L561.8,154.2 L561.6,154.7 L561.1,154.9 L560.8,155.3 L560.6,155.8 L560.3,156.2 L560.0,156.6 L559.6,156.8 L559.3,157.2 L558.9,157.4 L558.6,157.8 L558.0,157.9 L557.8,158.3 L557.2,158.3 L556.8,158.5 L556.3,158.7 L555.9,159.1 L555.4,159.1 L555.0,159.4 L554.4,159.4 L554.0,159.7 L553.4,159.6 L552.9,159.7 L552.4,160.1 L551.8,160.0 L551.2,160.4 L550.6,160.2 L550.0,160.3 L549.3,160.3 L548.7,160.6 L548.0,160.4 L547.3,160.7 L546.7,160.8 L546.0,160.9 L545.3,160.9 L544.6,160.8 L543.9,160.5 L543.2,160.8 L542.5,160.8 L541.8,160.6 L541.1,160.4 L540.4,160.3 L539.7,160.5 L539.0,160.1 L538.3,160.0 L537.5,160.1 L536.8,160.1 L536.0,160.0 L535.3,159.7 L534.6,159.4 L533.9,159.5 L533.2,159.3 L532.5,159.1 L531.9,158.8 L531.4,158.5 L530.8,158.3 L530.4,157.8 L529.8,157.7 L529.4,157.4 L529.2,156.8 L528.7,156.5 L528.3,156.2 L528.3,155.5 L527.8,155.2 L527.5,154.7 L527.2,154.3 L526.9,153.8 L526.8,153.2 L526.8,152.7 L526.6,152.1 L526.2,151.6 L526.1,151.1 L525.9,150.5 L525.9,149.9 L525.9,149.3 L525.5,148.6 L525.6,148.0 L525.4,147.3 L525.2,146.6 L525.3,145.9 L525.4,145.2 L525.2,144.4 L525.3,143.7 L525.1,143.0 L525.1,142.3 L525.1,141.7 L525.1,141.0 L525.3,140.4 L525.3,139.8 L525.5,139.2 L525.3,138.7 L525.4,138.1 L525.2,137.6 L525.3,137.0 L525.3,136.5 L525.5,136.0 L525.4,135.5 L525.6,135.0 L525.6,134.6 L525.6,134.1 L525.8,133.7 L526.1,133.3 L526.0,132.8 L526.5,132.6Z" fill="#1a873b"/>
<path d="M530.3 129.2h0.9v0.9h-0.9zM562.0 124.4h0.9v0.9h-0.9zM525.6 152.2h0.9v0.9h-0.9zM564.0 153.1h0.9v0.9h-0.9zM568.1 142.6h1.3v1.3h-1.3zM566.4 144.5h0.9v0.9h-0.9zM566.0 141.3h0.9v0.9h-0.9zM560.6 155.4h0.9v0.9h-0.9zM525.3 138.9h0.9v0.9h-0.9zM568.5 124.7h0.9v0.9h-0.9zM560.1 157.0h0.9v0.9h-0.9zM526.8 131.7h0.9v0.9h-0.9zM552.1 160.0h1.3v1.3h-1.3zM566.7 136.5h0.9v0.9h-0.9zM564.6 123.6h0.9v0.9h-0.9zM525.9 150.3h0.9v0.9h-0.9zM553.7 122.9h1.3v1.3h-1.3zM566.2 124.8h0.9v0.9h-0.9zM560.4 123.7h0.9v0.9h-0.9zM530.5 158.5h0.9v0.9h-0.9zM561.7 154.4h0.9v0.9h-0.9zM543.9 160.4h0.9v0.9h-0.9zM562.7 152.2h1.3v1.3h-1.3zM568.6 127.5h0.9v0.9h-0.9zM565.9 146.2h0.9v0.9h-0.9zM564.0 151.0h1.3v1.3h-1.3zM567.4 141.5h1.3v1.3h-1.3zM555.3 159.3h1.3v1.3h-1.3zM564.6 146.1h0.9v0.9h-0.9zM567.7 126.9h0.9v0.9h-0.9zM538.0 159.7h1.3v1.3h-1.3zM542.3 162.5h0.9v0.9h-0.9zM548.8 161.7h1.3v1.3h-1.3zM567.7 135.5h1.3v1.3h-1.3zM528.0 129.0h0.9v0.9h-0.9zM537.9 161.4h0.9v0.9h-0.9zM566.7 143.4h0.9v0.9h-0.9zM526.6 130.7h1.3v1.3h-1.3zM527.5 131.7h0.9v0.9h-0.9zM554.5 161.3h0.9v0.9h-0.9zM554.7 124.5h1.3v1.3h-1.3zM565.4 145.9h0.9v0.9h-0.9zM568.6 139.2h0.9v0.9h-0.9zM527.4 156.5h0.9v0.9h-0.9zM545.0 161.2h0.9v0.9h-0.9zM537.3 126.3h1.3v1.3h-1.3zM523.4 135.0h0.9v0.9h-0.9zM548.1 125.3h0.9v0.9h-0.9zM561.0 157.4h0.9v0.9h-0.9zM525.7 151.6h0.9v0.9h-0.9zM562.7 124.5h0.9v0.9h-0.9zM525.3 137.3h1.3v1.3h-1.3zM525.8 133.0h1.3v1.3h-1.3zM533.0 160.6h1.3v1.3h-1.3zM560.2 156.8h0.9v0.9h-0.9zM535.2 159.1h0.9v0.9h-0.9zM537.2 127.2h1.3v1.3h-1.3zM563.4 151.8h0.9v0.9h-0.9zM525.0 134.2h0.9v0.9h-0.9zM568.8 133.2h0.9v0.9h-0.9zM569.7 130.5h1.3v1.3h-1.3zM535.6 161.6h0.9v0.9h-0.9zM529.3 130.2h1.3v1.3h-1.3zM556.4 160.0h0.9v0.9h-0.9zM569.2 131.2h0.9v0.9h-0.9zM525.9 132.0h0.9v0.9h-0.9zM559.1 158.5h0.9v0.9h-0.9zM529.3 157.6h0.9v0.9h-0.9zM565.1 154.1h0.9v0.9h-0.9zM527.6 154.8h1.3v1.3h-1.3zM533.2 129.1h1.3v1.3h-1.3zM528.4 157.1h0.9v0.9h-0.9zM546.9 124.0h1.3v1.3h-1.3zM526.1 131.0h0.9v0.9h-0.9zM545.1 123.6h0.9v0.9h-0.9zM569.5 129.0h1.3v1.3h-1.3zM540.2 160.2h0.9v0.9h-0.9zM523.9 151.6h0.9v0.9h-0.9zM523.2 133.7h0.9v0.9h-0.9zM560.4 121.7h0.9v0.9h-0.9zM558.8 157.0h1.3v1.3h-1.3zM528.5 159.9h0.9v0.9h-0.9zM568.8 128.1h0.9v0.9h-0.9zM568.7 132.4h0.9v0.9h-0.9zM531.7 158.8h0.9v0.9h-0.9zM525.5 152.4h1.3v1.3h-1.3zM546.7 160.5h1.3v1.3h-1.3zM550.4 123.5h0.9v0.9h-0.9zM558.3 158.7h0.9v0.9h-0.9zM564.3 122.3h0.9v0.9h-0.9zM566.3 143.6h1.3v1.3h-1.3zM526.7 152.2h0.9v0.9h-0.9zM565.9 124.7h0.9v0.9h-0.9zM529.0 158.5h1.3v1.3h-1.3zM526.0 135.6h0.9v0.9h-0.9zM565.4 122.6h0.9v0.9h-0.9zM525.6 137.6h0.9v0.9h-0.9zM523.9 152.1h0.9v0.9h-0.9zM533.6 160.9h0.9v0.9h-0.9zM537.9 161.0h0.9v0.9h-0.9zM530.2 129.8h0.9v0.9h-0.9zM561.1 154.9h0.9v0.9h-0.9zM566.6 141.6h0.9v0.9h-0.9zM557.1 157.8h1.3v1.3h-1.3zM567.3 125.4h0.9v0.9h-0.9zM569.9 134.4h0.9v0.9h-0.9zM523.2 141.0h1.3v1.3h-1.3zM563.9 148.7h0.9v0.9h-0.9zM561.3 124.3h0.9v0.9h-0.9zM564.9 148.3h0.9v0.9h-0.9zM570.7 129.9h0.9v0.9h-0.9zM537.0 161.3h1.3v1.3h-1.3zM556.3 124.8h1.3v1.3h-1.3zM569.2 129.0h1.3v1.3h-1.3zM525.4 146.9h0.9v0.9h-0.9zM523.2 134.8h0.9v0.9h-0.9zM555.8 122.8h1.3v1.3h-1.3zM539.1 161.1h0.9v0.9h-0.9zM527.8 154.0h0.9v0.9h-0.9zM550.9 124.2h1.3v1.3h-1.3z" fill="#1a873b"/>
<path d="M527.0,132.4 L527.4,132.3 L527.7,132.2 L527.5,131.3 L528.0,131.3 L528.5,131.4 L528.8,131.2 L528.9,130.4 L529.6,131.0 L530.1,130.8 L530.3,130.2 L530.8,130.0 L531.4,130.2 L531.8,129.6 L532.4,129.5 L533.1,129.8 L533.7,129.5 L534.1,128.8 L534.7,128.5 L535.5,128.4 L536.1,128.0 L536.9,128.1 L537.7,127.6 L538.5,127.7 L539.3,127.3 L540.1,127.2 L541.0,127.2 L541.8,126.9 L542.5,126.5 L543.5,126.9 L544.2,126.1 L545.0,126.3 L545.8,126.1 L546.6,126.4 L547.3,125.5 L548.1,125.9 L548.9,125.5 L549.7,125.4 L550.6,125.8 L551.3,125.1 L552.1,124.8 L552.9,125.5 L553.7,124.9 L554.5,125.2 L555.1,124.2 L555.9,125.1 L556.6,124.3 L557.2,124.2 L557.9,124.5 L558.5,124.2 L559.2,125.0 L559.8,124.5 L560.5,124.8 L561.1,125.0 L561.6,124.4 L562.2,124.0 L562.8,124.6 L563.3,124.8 L563.8,124.1 L564.2,125.0 L564.7,124.8 L565.0,125.1 L565.3,125.2 L565.9,124.7 L566.1,125.1 L566.1,125.5 L566.4,125.6 L567.0,125.5 L566.5,126.2 L566.8,126.3 L566.7,126.6 L566.8,126.9 L567.3,127.1 L567.2,127.5 L567.5,127.8 L567.7,128.3 L566.7,128.7 L567.3,129.1 L567.3,129.6 L567.3,130.1 L567.0,130.6 L567.2,131.1 L566.8,131.7 L566.5,132.2 L567.1,132.9 L567.4,133.6 L567.0,134.3 L566.7,135.0 L566.2,135.6 L566.2,136.3 L566.5,137.1 L566.3,137.8 L566.6,138.6 L566.2,139.3 L566.1,140.0 L565.7,140.6 L565.9,141.3 L565.5,141.8 L565.2,142.4 L565.7,143.2 L565.1,143.7 L564.8,144.3 L565.1,144.9 L564.9,145.5 L564.2,146.0 L564.2,146.6 L564.2,147.2 L564.4,147.8 L564.1,148.3 L564.2,148.9 L563.3,149.2 L563.1,149.7 L563.0,150.2 L562.9,150.7 L562.6,151.2 L562.7,151.8 L562.2,152.1 L562.6,152.9 L561.9,153.1 L561.2,153.3 L561.1,153.8 L561.0,154.3 L561.1,154.9 L560.4,155.0 L560.7,155.9 L559.7,155.6 L559.5,156.0 L559.5,156.7 L558.9,156.7 L558.3,156.7 L558.0,157.0 L558.1,157.9 L557.5,157.9 L557.2,158.3 L556.6,158.2 L556.1,158.2 L555.9,159.0 L555.3,158.7 L554.8,158.8 L554.4,159.2 L553.8,158.9 L553.3,159.1 L552.8,159.3 L552.2,159.5 L551.8,160.1 L551.2,160.0 L550.5,159.7 L549.9,159.7 L549.4,160.6 L548.7,160.7 L548.0,159.7 L547.3,160.6 L546.6,160.3 L545.9,159.9 L545.3,160.0 L544.6,160.8 L543.9,160.0 L543.2,160.2 L542.5,160.0 L541.8,160.3 L541.2,159.9 L540.4,160.3 L539.7,160.4 L539.0,160.1 L538.3,159.9 L537.6,159.9 L536.9,159.6 L536.2,159.1 L535.4,159.4 L534.7,159.0 L534.1,158.7 L533.3,159.0 L532.8,158.2 L532.0,158.6 L531.6,158.1 L530.8,158.3 L530.8,157.3 L530.2,157.3 L529.4,157.4 L529.3,156.6 L529.2,156.1 L528.8,155.8 L528.0,155.7 L527.8,155.2 L527.5,154.7 L527.7,154.0 L527.7,153.4 L527.7,152.9 L527.3,152.4 L526.5,152.1 L526.2,151.6 L526.4,151.0 L526.0,150.5 L526.1,149.8 L526.1,149.2 L526.2,148.5 L525.7,147.9 L525.4,147.3 L525.3,146.6 L525.4,145.9 L525.3,145.2 L525.7,144.4 L525.1,143.7 L525.5,143.0 L525.6,142.3 L526.1,141.7 L525.3,141.0 L525.4,140.4 L525.4,139.8 L525.6,139.2 L526.0,138.7 L526.1,138.1 L525.8,137.6 L525.7,137.0 L525.5,136.5 L525.8,136.0 L526.1,135.6 L526.1,135.1 L526.1,134.7 L526.3,134.3 L526.3,133.8 L526.0,133.3 L526.5,133.0 L526.6,132.7Z" fill="#e5720f"/>
<path d="M525.7 132.7h0.9v0.9h-0.9zM557.6 123.1h0.9v0.9h-0.9zM565.3 141.7h1.3v1.3h-1.3zM564.9 146.4h0.9v0.9h-0.9zM558.5 123.7h1.3v1.3h-1.3zM564.5 143.9h1.3v1.3h-1.3zM524.8 135.6h1.3v1.3h-1.3zM532.7 159.4h0.9v0.9h-0.9zM563.1 152.2h0.9v0.9h-0.9zM564.0 124.5h0.9v0.9h-0.9zM550.6 124.2h0.9v0.9h-0.9zM532.9 127.9h0.9v0.9h-0.9zM524.6 145.6h0.9v0.9h-0.9zM565.4 149.7h0.9v0.9h-0.9zM533.7 129.0h1.3v1.3h-1.3zM562.2 124.6h0.9v0.9h-0.9zM550.0 124.7h1.3v1.3h-1.3zM566.3 126.9h0.9v0.9h-0.9zM567.6 135.4h1.3v1.3h-1.3zM549.5 162.6h1.3v1.3h-1.3zM556.5 157.8h0.9v0.9h-0.9zM529.5 157.8h1.3v1.3h-1.3zM563.9 150.0h0.9v0.9h-0.9zM539.9 160.8h1.3v1.3h-1.3zM557.6 124.6h0.9v0.9h-0.9zM553.9 159.6h1.3v1.3h-1.3zM527.6 154.0h0.9v0.9h-0.9zM567.8 126.2h0.9v0.9h-0.9zM530.9 130.6h0.9v0.9h-0.9zM534.4 127.8h1.3v1.3h-1.3zM527.1 151.7h0.9v0.9h-0.9zM527.2 154.3h1.3v1.3h-1.3zM526.7 150.6h0.9v0.9h-0.9zM552.9 159.4h0.9v0.9h-0.9zM526.6 149.7h0.9v0.9h-0.9zM523.9 148.9h1.3v1.3h-1.3zM563.3 124.3h0.9v0.9h-0.9zM565.2 143.1h0.9v0.9h-0.9zM534.5 160.6h0.9v0.9h-0.9zM526.3 148.6h0.9v0.9h-0.9zM556.3 125.0h0.9v0.9h-0.9zM556.4 158.0h0.9v0.9h-0.9zM531.9 128.3h0.9v0.9h-0.9zM566.6 125.1h0.9v0.9h-0.9zM552.4 124.2h0.9v0.9h-0.9zM561.9 153.4h0.9v0.9h-0.9zM565.0 148.3h0.9v0.9h-0.9zM559.9 154.7h0.9v0.9h-0.9zM549.9 159.8h0.9v0.9h-0.9zM562.5 125.0h0.9v0.9h-0.9zM567.9 132.4h1.3v1.3h-1.3zM564.1 149.6h1.3v1.3h-1.3zM526.3 149.0h1.3v1.3h-1.3zM568.6 137.6h0.9v0.9h-0.9zM548.3 160.7h0.9v0.9h-0.9zM568.4 140.3h0.9v0.9h-0.9zM564.4 146.4h1.3v1.3h-1.3zM530.7 160.0h0.9v0.9h-0.9zM559.9 123.3h0.9v0.9h-0.9zM562.2 154.2h1.3v1.3h-1.3zM555.2 158.4h1.3v1.3h-1.3zM567.2 124.0h0.9v0.9h-0.9zM563.2 150.1h1.3v1.3h-1.3zM568.9 132.9h0.9v0.9h-0.9zM524.8 138.2h0.9v0.9h-0.9zM557.7 158.9h0.9v0.9h-0.9zM540.4 161.0h0.9v0.9h-0.9zM538.3 126.8h1.3v1.3h-1.3zM567.0 125.5h0.9v0.9h-0.9zM525.2 139.0h1.3v1.3h-1.3zM547.9 125.6h0.9v0.9h-0.9zM530.3 159.6h0.9v0.9h-0.9zM530.3 158.6h0.9v0.9h-0.9zM546.0 126.4h0.9v0.9h-0.9zM562.5 151.5h0.9v0.9h-0.9zM566.2 124.1h0.9v0.9h-0.9zM546.8 162.3h0.9v0.9h-0.9zM558.6 159.6h0.9v0.9h-0.9zM524.8 139.7h1.3v1.3h-1.3zM561.8 123.7h0.9v0.9h-0.9zM551.8 122.5h0.9v0.9h-0.9zM548.5 125.5h1.3v1.3h-1.3zM537.7 127.2h0.9v0.9h-0.9zM526.1 142.2h0.9v0.9h-0.9zM549.4 125.2h0.9v0.9h-0.9zM545.2 161.3h1.3v1.3h-1.3zM533.8 130.0h0.9v0.9h-0.9zM532.8 127.0h1.3v1.3h-1.3zM567.3 126.2h0.9v0.9h-0.9zM568.5 137.3h0.9v0.9h-0.9zM541.4 160.0h0.9v0.9h-0.9zM568.3 131.6h0.9v0.9h-0.9zM550.9 124.7h0.9v0.9h-0.9zM526.4 153.5h0.9v0.9h-0.9zM563.9 123.2h0.9v0.9h-0.9zM537.9 162.3h0.9v0.9h-0.9zM558.4 157.6h0.9v0.9h-0.9zM536.0 159.8h0.9v0.9h-0.9zM543.8 161.0h0.9v0.9h-0.9zM535.8 128.6h1.3v1.3h-1.3zM535.6 128.1h0.9v0.9h-0.9zM526.1 132.6h0.9v0.9h-0.9zM553.2 124.5h1.3v1.3h-1.3zM541.9 126.9h0.9v0.9h-0.9zM555.1 159.5h0.9v0.9h-0.9zM532.9 128.0h0.9v0.9h-0.9zM526.3 133.1h0.9v0.9h-0.9zM559.2 123.5h0.9v0.9h-0.9zM529.1 155.8h0.9v0.9h-0.9zM552.5 159.5h0.9v0.9h-0.9zM561.7 123.6h0.9v0.9h-0.9zM556.5 123.4h0.9v0.9h-0.9zM559.0 157.9h0.9v0.9h-0.9zM526.2 149.5h1.3v1.3h-1.3zM530.7 157.6h0.9v0.9h-0.9zM533.9 127.8h1.3v1.3h-1.3zM542.8 162.1h0.9v0.9h-0.9zM535.4 127.7h0.9v0.9h-0.9zM549.3 159.8h0.9v0.9h-0.9zM541.9 127.2h0.9v0.9h-0.9zM535.4 129.2h0.9v0.9h-0.9zM532.1 161.3h0.9v0.9h-0.9zM567.7 132.9h0.9v0.9h-0.9zM525.9 133.0h1.3v1.3h-1.3zM566.0 128.1h1.3v1.3h-1.3zM557.6 160.0h1.3v1.3h-1.3zM567.7 127.5h0.9v0.9h-0.9zM526.8 138.1h0.9v0.9h-0.9zM563.6 149.3h1.3v1.3h-1.3zM533.5 129.3h1.3v1.3h-1.3zM525.5 142.0h1.3v1.3h-1.3zM526.0 136.6h0.9v0.9h-0.9zM546.7 124.9h0.9v0.9h-0.9zM530.6 127.6h1.3v1.3h-1.3zM553.7 159.3h0.9v0.9h-0.9zM524.6 149.4h1.3v1.3h-1.3zM538.7 127.0h1.3v1.3h-1.3zM523.8 138.9h1.3v1.3h-1.3zM533.7 128.5h0.9v0.9h-0.9zM570.1 132.0h0.9v0.9h-0.9zM529.7 159.2h0.9v0.9h-0.9zM532.8 159.0h0.9v0.9h-0.9zM541.0 159.5h0.9v0.9h-0.9zM561.0 123.2h0.9v0.9h-0.9zM568.3 128.4h0.9v0.9h-0.9zM534.0 158.3h0.9v0.9h-0.9zM527.9 130.3h0.9v0.9h-0.9zM541.5 161.6h1.3v1.3h-1.3zM563.3 154.3h0.9v0.9h-0.9zM568.0 126.2h0.9v0.9h-0.9zM567.5 129.9h0.9v0.9h-0.9zM548.5 160.2h0.9v0.9h-0.9zM567.0 142.3h0.9v0.9h-0.9zM527.2 132.9h1.3v1.3h-1.3zM566.6 138.5h0.9v0.9h-0.9zM527.6 156.6h0.9v0.9h-0.9zM561.2 156.7h0.9v0.9h-0.9zM564.0 149.3h1.3v1.3h-1.3zM543.8 123.6h1.3v1.3h-1.3zM535.5 160.3h1.3v1.3h-1.3z" fill="#e5720f"/>
<path d="M600.2 90.8h0.9v0.9h-0.9zM600.7 93.4h0.9v0.9h-0.9zM604.4 92.8h0.9v0.9h-0.9zM601.6 91.5h0.9v0.9h-0.9zM602.9 88.9h0.9v0.9h-0.9zM605.7 90.7h1.2v1.2h-1.2zM603.9 89.2h0.9v0.9h-0.9zM604.1 92.5h0.9v0.9h-0.9zM602.3 95.6h0.9v0.9h-0.9zM601.8 91.8h0.9v0.9h-0.9zM606.4 92.3h0.9v0.9h-0.9zM605.5 88.6h0.9v0.9h-0.9zM601.0 91.1h0.9v0.9h-0.9zM601.8 92.8h0.9v0.9h-0.9zM549.6 117.2h0.9v0.9h-0.9zM550.8 116.8h0.9v0.9h-0.9zM548.4 118.8h1.2v1.2h-1.2zM546.1 122.8h0.9v0.9h-0.9zM546.4 119.6h1.2v1.2h-1.2zM542.1 118.9h0.9v0.9h-0.9zM551.2 121.7h0.9v0.9h-0.9zM544.7 120.4h1.2v1.2h-1.2zM541.6 125.1h0.9v0.9h-0.9zM552.4 115.4h0.9v0.9h-0.9zM537.1 119.8h0.9v0.9h-0.9zM546.5 122.2h0.9v0.9h-0.9z" fill="#1a873b"/>
<line x1="561.90" y1="76.10" x2="561.90" y2="183.40" stroke="#f2706a" stroke-width="0.95" stroke-opacity="0.5"/>
<line x1="631.50" y1="76.60" x2="631.50" y2="183.40" stroke="#7a7a7a" stroke-width="0.8"/>
<line x1="631.50" y1="183.40" x2="680.00" y2="183.40" stroke="#7a7a7a" stroke-width="0.8"/>
<line x1="628.20" y1="89.00" x2="631.50" y2="89.00" stroke="#7a7a7a" stroke-width="0.8"/>
<line x1="628.20" y1="108.90" x2="631.50" y2="108.90" stroke="#7a7a7a" stroke-width="0.8"/>
<line x1="628.20" y1="128.90" x2="631.50" y2="128.90" stroke="#7a7a7a" stroke-width="0.8"/>
<line x1="628.20" y1="148.80" x2="631.50" y2="148.80" stroke="#7a7a7a" stroke-width="0.8"/>
<line x1="628.20" y1="168.70" x2="631.50" y2="168.70" stroke="#7a7a7a" stroke-width="0.8"/>
<line x1="631.50" y1="183.40" x2="631.50" y2="186.40" stroke="#7a7a7a" stroke-width="0.8"/>
<text x="631.50" y="197.15" font-size="8.2" text-anchor="middle" fill="#383838" font-weight="normal">0</text>
<line x1="646.70" y1="183.40" x2="646.70" y2="186.40" stroke="#7a7a7a" stroke-width="0.8"/>
<text x="646.70" y="197.15" font-size="8.2" text-anchor="middle" fill="#383838" font-weight="normal">0.1</text>
<line x1="662.00" y1="183.40" x2="662.00" y2="186.40" stroke="#7a7a7a" stroke-width="0.8"/>
<text x="662.00" y="197.15" font-size="8.2" text-anchor="middle" fill="#383838" font-weight="normal">0.2</text>
<line x1="677.30" y1="183.40" x2="677.30" y2="186.40" stroke="#7a7a7a" stroke-width="0.8"/>
<text x="677.30" y="197.15" font-size="8.2" text-anchor="middle" fill="#383838" font-weight="normal">0.3</text>
<text x="655.90" y="209.80" font-size="8.9" text-anchor="middle" fill="#383838" font-weight="normal">Score density</text>
<path d="M631.50,96.70 C631.93,98.00 632.58,102.02 634.10,104.50 C635.62,106.98 637.78,109.55 640.60,111.60 C643.42,113.65 647.22,114.95 651.00,116.80 C654.78,118.65 663.30,121.18 663.30,122.70 C663.30,124.22 655.22,125.03 651.00,125.90 C646.78,126.77 641.25,127.47 638.00,127.90 C634.75,128.33 632.58,128.40 631.50,128.50 L631.50,128.50 L631.50,96.70Z" fill="#c3dfca"/>
<path d="M631.50,96.70 C631.93,98.00 632.58,102.02 634.10,104.50 C635.62,106.98 637.78,109.55 640.60,111.60 C643.42,113.65 647.22,114.95 651.00,116.80 C654.78,118.65 663.30,121.18 663.30,122.70 C663.30,124.22 655.22,125.03 651.00,125.90 C646.78,126.77 641.25,127.47 638.00,127.90 C634.75,128.33 632.58,128.40 631.50,128.50" fill="none" stroke="#52a868" stroke-width="0.8"/>
<path d="M631.50,125.90 C632.58,126.55 634.75,128.72 638.00,129.80 C641.25,130.88 646.67,131.63 651.00,132.40 C655.33,133.17 659.78,133.75 664.00,134.40 C668.22,135.05 676.30,135.45 676.30,136.30 C676.30,137.15 668.22,138.32 664.00,139.50 C659.78,140.68 654.90,141.88 651.00,143.40 C647.10,144.92 643.42,146.65 640.60,148.60 C637.78,150.55 635.62,153.37 634.10,155.10 C632.58,156.83 631.93,158.35 631.50,159.00 L631.50,159.00 L631.50,125.90Z" fill="#bcbd98" fill-opacity="0.9"/>
<path d="M631.50,125.90 C632.58,126.55 634.75,128.72 638.00,129.80 C641.25,130.88 646.67,131.63 651.00,132.40 C655.33,133.17 659.78,133.75 664.00,134.40 C668.22,135.05 676.30,135.45 676.30,136.30 C676.30,137.15 668.22,138.32 664.00,139.50 C659.78,140.68 654.90,141.88 651.00,143.40 C647.10,144.92 643.42,146.65 640.60,148.60 C637.78,150.55 635.62,153.37 634.10,155.10 C632.58,156.83 631.93,158.35 631.50,159.00" fill="none" stroke="#c0985a" stroke-width="0.6"/>
<path d="M631.50,125.90 C632.58,126.55 634.75,128.72 638.00,129.80 C641.25,130.88 646.67,131.63 651.00,132.40 C655.33,133.17 659.78,133.75 664.00,134.40 C668.22,135.05 676.30,135.45 676.30,136.30 C676.30,137.15 668.22,138.32 664.00,139.50 C659.78,140.68 654.90,141.88 651.00,143.40 C647.10,144.92 643.42,146.65 640.60,148.60 C637.78,150.55 635.62,153.37 634.10,155.10 C632.58,156.83 631.93,158.35 631.50,159.00" fill="none" stroke="#3f8a4a" stroke-width="0.7" stroke-opacity="0.9"/>
<line x1="515.80" y1="129.10" x2="679.60" y2="129.10" stroke="#f2706a" stroke-width="1.1" stroke-opacity="0.5"/>
<line x1="309.20" y1="239.80" x2="309.20" y2="288.70" stroke="#7a7a7a" stroke-width="0.8"/>
<line x1="305.90" y1="243.90" x2="309.20" y2="243.90" stroke="#7a7a7a" stroke-width="0.8"/>
<text x="302.80" y="246.89" font-size="8.3" text-anchor="end" fill="#383838" font-weight="normal">0.2</text>
<line x1="305.90" y1="266.40" x2="309.20" y2="266.40" stroke="#7a7a7a" stroke-width="0.8"/>
<text x="302.80" y="269.39" font-size="8.3" text-anchor="end" fill="#383838" font-weight="normal">0.1</text>
<line x1="305.90" y1="288.70" x2="309.20" y2="288.70" stroke="#7a7a7a" stroke-width="0.8"/>
<text x="302.80" y="291.69" font-size="8.3" text-anchor="end" fill="#383838" font-weight="normal">0</text>
<line x1="306.20" y1="255.10" x2="309.20" y2="255.10" stroke="#7a7a7a" stroke-width="0.7"/>
<line x1="306.20" y1="277.40" x2="309.20" y2="277.40" stroke="#7a7a7a" stroke-width="0.7"/>
<path d="M317.00,288.70 C317.50,288.25 318.80,287.95 320.00,286.00 C321.20,284.05 323.03,280.50 324.20,277.00 C325.37,273.50 326.15,269.08 327.00,265.00 C327.85,260.92 328.52,256.28 329.30,252.50 C330.08,248.72 331.00,243.38 331.70,242.30 C332.40,241.22 332.88,244.82 333.50,246.00 C334.12,247.18 334.57,249.17 335.40,249.40 C336.23,249.63 337.57,246.97 338.50,247.40 C339.43,247.83 339.82,249.45 341.00,252.00 C342.18,254.55 343.82,259.05 345.60,262.70 C347.38,266.35 349.32,270.50 351.70,273.90 C354.08,277.30 356.85,280.83 359.90,283.10 C362.95,285.37 366.65,286.57 370.00,287.50 C373.35,288.43 378.33,288.50 380.00,288.70 L380.00,288.70 L317.00,288.70Z" fill="#c3dfca" stroke="none"/>
<path d="M317.00,288.70 C317.50,288.25 318.80,287.95 320.00,286.00 C321.20,284.05 323.03,280.50 324.20,277.00 C325.37,273.50 326.15,269.08 327.00,265.00 C327.85,260.92 328.52,256.28 329.30,252.50 C330.08,248.72 331.00,243.38 331.70,242.30 C332.40,241.22 332.88,244.82 333.50,246.00 C334.12,247.18 334.57,249.17 335.40,249.40 C336.23,249.63 337.57,246.97 338.50,247.40 C339.43,247.83 339.82,249.45 341.00,252.00 C342.18,254.55 343.82,259.05 345.60,262.70 C347.38,266.35 349.32,270.50 351.70,273.90 C354.08,277.30 356.85,280.83 359.90,283.10 C362.95,285.37 366.65,286.57 370.00,287.50 C373.35,288.43 378.33,288.50 380.00,288.70" fill="none" stroke="#52a868" stroke-width="0.8"/>
<path d="M317.00,288.70 C317.50,288.25 318.80,287.95 320.00,286.00 C321.20,284.05 322.83,281.22 324.20,277.00 C325.57,272.78 327.12,264.85 328.20,260.70 C329.28,256.55 330.07,252.88 330.70,252.10 C331.33,251.32 331.55,252.87 332.00,256.00 C332.45,259.13 332.98,266.57 333.40,270.90 C333.82,275.23 334.07,279.03 334.50,282.00 C334.93,284.97 335.75,287.58 336.00,288.70 L336.00,288.70 L317.00,288.70Z" fill="#bcbd98" fill-opacity="0.85" stroke="none"/>
<path d="M317.00,288.70 C317.50,288.25 318.80,287.95 320.00,286.00 C321.20,284.05 322.83,281.22 324.20,277.00 C325.57,272.78 327.12,264.85 328.20,260.70 C329.28,256.55 330.07,252.88 330.70,252.10 C331.33,251.32 331.55,252.87 332.00,256.00 C332.45,259.13 332.98,266.57 333.40,270.90 C333.82,275.23 334.07,279.03 334.50,282.00 C334.93,284.97 335.75,287.58 336.00,288.70" fill="none" stroke="#c0985a" stroke-width="0.7"/>
<path d="M317.00,288.70 C317.50,288.25 318.80,287.95 320.00,286.00 C321.20,284.05 323.03,280.50 324.20,277.00 C325.37,273.50 326.15,269.08 327.00,265.00 C327.85,260.92 328.52,256.28 329.30,252.50 C330.08,248.72 331.00,243.38 331.70,242.30 C332.40,241.22 332.88,244.82 333.50,246.00 C334.12,247.18 334.57,249.17 335.40,249.40 C336.23,249.63 337.57,246.97 338.50,247.40 C339.43,247.83 339.82,249.45 341.00,252.00 C342.18,254.55 343.82,259.05 345.60,262.70 C347.38,266.35 349.32,270.50 351.70,273.90 C354.08,277.30 356.85,280.83 359.90,283.10 C362.95,285.37 366.65,286.57 370.00,287.50 C373.35,288.43 378.33,288.50 380.00,288.70" fill="none" stroke="#52a868" stroke-width="0.6" stroke-opacity="0.7"/>
<line x1="309.20" y1="288.70" x2="414.80" y2="288.70" stroke="#7a7a7a" stroke-width="0.8"/>
<line x1="321.50" y1="288.70" x2="321.50" y2="291.70" stroke="#7a7a7a" stroke-width="0.8"/>
<line x1="335.47" y1="288.70" x2="335.47" y2="291.70" stroke="#7a7a7a" stroke-width="0.8"/>
<line x1="349.44" y1="288.70" x2="349.44" y2="291.70" stroke="#7a7a7a" stroke-width="0.8"/>
<line x1="363.41" y1="288.70" x2="363.41" y2="291.70" stroke="#7a7a7a" stroke-width="0.8"/>
<line x1="377.38" y1="288.70" x2="377.38" y2="291.70" stroke="#7a7a7a" stroke-width="0.8"/>
<line x1="391.35" y1="288.70" x2="391.35" y2="291.70" stroke="#7a7a7a" stroke-width="0.8"/>
<line x1="405.32" y1="288.70" x2="405.32" y2="291.70" stroke="#7a7a7a" stroke-width="0.8"/>
<line x1="335.40" y1="239.40" x2="335.40" y2="288.70" stroke="#f2706a" stroke-width="0.95" stroke-opacity="0.95"/>
<text x="283.80" y="267.40" font-size="8.9" text-anchor="middle" fill="#383838" font-weight="normal" transform="rotate(-90 283.80 264.20)">Score density</text>
<text x="393.30" y="251.32" font-size="8.4" text-anchor="middle" fill="#383838" font-weight="normal">HCD LysN (PSMs)</text>
<line x1="309.80" y1="299.00" x2="309.80" y2="404.70" stroke="#7a7a7a" stroke-width="0.8"/>
<line x1="309.80" y1="404.70" x2="414.80" y2="404.70" stroke="#7a7a7a" stroke-width="0.8"/>
<line x1="306.50" y1="308.60" x2="309.80" y2="308.60" stroke="#7a7a7a" stroke-width="0.8"/>
<text x="302.80" y="311.55" font-size="8.2" text-anchor="end" fill="#383838" font-weight="normal">6</text>
<line x1="306.50" y1="324.40" x2="309.80" y2="324.40" stroke="#7a7a7a" stroke-width="0.8"/>
<text x="302.80" y="327.35" font-size="8.2" text-anchor="end" fill="#383838" font-weight="normal">4</text>
<line x1="306.50" y1="339.80" x2="309.80" y2="339.80" stroke="#7a7a7a" stroke-width="0.8"/>
<text x="302.80" y="342.75" font-size="8.2" text-anchor="end" fill="#383838" font-weight="normal">2</text>
<line x1="306.50" y1="355.20" x2="309.80" y2="355.20" stroke="#7a7a7a" stroke-width="0.8"/>
<text x="302.80" y="358.15" font-size="8.2" text-anchor="end" fill="#383838" font-weight="normal">0</text>
<line x1="306.50" y1="370.90" x2="309.80" y2="370.90" stroke="#7a7a7a" stroke-width="0.8"/>
<text x="302.80" y="373.85" font-size="8.2" text-anchor="end" fill="#383838" font-weight="normal">-2</text>
<line x1="306.50" y1="386.40" x2="309.80" y2="386.40" stroke="#7a7a7a" stroke-width="0.8"/>
<text x="302.80" y="389.35" font-size="8.2" text-anchor="end" fill="#383838" font-weight="normal">-4</text>
<line x1="306.50" y1="401.40" x2="309.80" y2="401.40" stroke="#7a7a7a" stroke-width="0.8"/>
<text x="302.80" y="404.35" font-size="8.2" text-anchor="end" fill="#383838" font-weight="normal">-6</text>
<line x1="321.50" y1="404.70" x2="321.50" y2="407.70" stroke="#7a7a7a" stroke-width="0.8"/>
<text x="320.30" y="418.45" font-size="8.2" text-anchor="middle" fill="#383838" font-weight="normal">-2.5</text>
<line x1="335.47" y1="404.70" x2="335.47" y2="407.70" stroke="#7a7a7a" stroke-width="0.8"/>
<text x="335.47" y="418.45" font-size="8.2" text-anchor="middle" fill="#383838" font-weight="normal">0</text>
<line x1="349.44" y1="404.70" x2="349.44" y2="407.70" stroke="#7a7a7a" stroke-width="0.8"/>
<text x="349.44" y="418.45" font-size="8.2" text-anchor="middle" fill="#383838" font-weight="normal">2.5</text>
<line x1="363.41" y1="404.70" x2="363.41" y2="407.70" stroke="#7a7a7a" stroke-width="0.8"/>
<text x="363.41" y="418.45" font-size="8.2" text-anchor="middle" fill="#383838" font-weight="normal">5</text>
<line x1="377.38" y1="404.70" x2="377.38" y2="407.70" stroke="#7a7a7a" stroke-width="0.8"/>
<text x="377.38" y="418.45" font-size="8.2" text-anchor="middle" fill="#383838" font-weight="normal">7.5</text>
<line x1="391.35" y1="404.70" x2="391.35" y2="407.70" stroke="#7a7a7a" stroke-width="0.8"/>
<text x="391.35" y="418.45" font-size="8.2" text-anchor="middle" fill="#383838" font-weight="normal">10</text>
<line x1="405.32" y1="404.70" x2="405.32" y2="407.70" stroke="#7a7a7a" stroke-width="0.8"/>
<text x="405.32" y="418.45" font-size="8.2" text-anchor="middle" fill="#383838" font-weight="normal">12.5</text>
<text x="368.40" y="432.70" font-size="8.9" text-anchor="middle" fill="#383838" font-weight="normal">Score</text>
<text x="367.20" y="442.90" font-size="8.9" text-anchor="middle" fill="#383838" font-weight="normal">(FragPipe-Percolator)</text>
<text x="273.20" y="356.90" font-size="8.9" text-anchor="middle" fill="#383838" font-weight="normal" transform="rotate(-90 273.20 353.70)">Score</text>
<text x="283.20" y="356.90" font-size="8.9" text-anchor="middle" fill="#383838" font-weight="normal" transform="rotate(-90 283.20 353.70)">(Oktoberfest-Percolator)</text>
<path d="M321.0,354.9 L320.1,355.2 L319.7,354.9 L321.0,354.8 L319.7,353.7 L320.6,353.6 L321.7,353.6 L321.7,352.4 L322.5,351.9 L323.5,351.6 L324.3,351.1 L324.9,350.2 L325.9,349.9 L326.0,348.8 L327.1,348.5 L327.2,347.1 L328.3,346.9 L329.4,346.4 L329.7,345.1 L330.5,344.3 L332.1,344.5 L332.6,343.4 L333.7,343.1 L334.1,341.9 L335.5,342.1 L336.2,341.4 L336.6,340.4 L337.6,340.1 L338.5,339.8 L338.5,338.3 L339.8,338.6 L340.7,338.4 L341.6,338.1 L342.0,337.0 L342.6,336.4 L343.2,335.5 L344.7,336.2 L345.4,335.5 L345.9,334.4 L347.0,334.5 L348.1,334.3 L348.5,332.7 L349.9,333.3 L350.5,332.2 L351.5,332.0 L352.6,332.0 L352.9,330.6 L354.0,330.8 L354.7,330.3 L355.3,329.8 L355.5,328.9 L356.7,329.4 L356.7,328.4 L357.3,328.2 L357.4,327.5 L358.2,327.6 L358.1,326.7 L358.7,326.6 L359.4,326.7 L359.5,325.8 L360.8,326.8 L361.0,326.0 L361.7,326.2 L362.0,325.4 L362.4,324.5 L363.0,324.4 L363.8,324.7 L364.3,324.1 L365.1,324.3 L365.8,324.1 L366.2,323.2 L366.7,322.8 L367.5,322.9 L367.9,322.2 L368.8,322.8 L369.6,322.8 L370.4,322.9 L370.5,321.5 L371.2,321.3 L372.0,321.6 L372.4,320.9 L373.4,321.6 L374.0,321.5 L374.1,320.0 L375.1,320.8 L375.7,320.8 L376.0,319.8 L376.4,319.4 L376.9,319.0 L377.8,319.6 L377.8,318.3 L378.5,318.8 L379.2,319.3 L379.4,318.5 L379.9,318.9 L380.1,318.2 L380.6,318.8 L380.9,318.6 L381.2,318.1 L381.5,317.7 L381.8,317.7 L382.1,317.6 L382.4,317.7 L382.7,317.8 L382.5,318.5 L383.3,317.8 L383.3,318.3 L382.8,318.8 L383.0,319.1 L382.4,319.6 L382.6,320.0 L383.7,320.4 L383.8,321.0 L383.2,321.7 L384.1,322.4 L383.4,323.1 L383.9,323.9 L383.1,324.5 L382.7,325.2 L382.5,325.8 L382.3,326.5 L382.4,327.2 L382.4,328.1 L382.4,329.0 L381.5,329.5 L381.2,330.3 L380.8,331.1 L380.6,332.0 L380.2,332.9 L379.1,333.1 L378.7,333.9 L378.5,334.9 L377.7,335.3 L377.6,336.2 L376.6,336.4 L375.8,336.6 L375.3,337.2 L375.1,338.2 L374.6,338.9 L373.9,339.1 L373.3,339.7 L372.9,340.4 L372.2,340.7 L371.2,340.5 L371.0,341.5 L370.1,341.3 L369.8,342.2 L368.5,341.0 L368.3,342.1 L367.5,342.0 L367.1,342.8 L366.3,342.5 L365.6,342.6 L365.2,343.2 L364.5,343.4 L363.6,343.0 L363.4,344.2 L362.3,343.5 L362.0,344.3 L361.3,344.4 L360.9,345.0 L360.4,345.4 L360.3,346.5 L359.5,346.3 L358.5,345.9 L358.5,347.0 L357.4,346.5 L357.1,347.2 L357.0,348.4 L356.4,348.6 L355.8,348.8 L355.2,349.2 L354.4,349.0 L353.8,349.4 L353.3,349.9 L352.6,350.0 L352.1,350.4 L351.7,351.1 L350.8,350.7 L349.8,350.4 L349.7,351.5 L349.2,351.9 L348.9,352.5 L348.1,352.3 L347.3,352.2 L347.1,353.2 L346.2,352.7 L346.0,353.7 L345.3,353.7 L345.2,354.6 L344.7,354.8 L343.4,354.3 L343.4,355.1 L343.0,355.7 L343.4,356.6 L341.8,356.6 L342.1,357.4 L342.1,358.0 L341.6,358.5 L342.3,359.3 L342.2,359.9 L342.1,360.4 L341.4,360.6 L341.5,361.0 L340.9,361.0 L340.0,360.8 L340.6,361.6 L340.8,362.0 L340.6,362.0 L340.6,362.1 L340.6,362.2 L340.5,362.6 L340.3,362.6 L340.0,362.1 L339.6,361.4 L339.0,361.6 L338.0,361.8 L337.3,360.4 L335.6,361.3 L334.4,359.5 L332.3,360.4 L330.7,358.7 L328.7,358.7 L327.0,357.7 L325.2,357.3 L323.8,356.3 L322.0,356.9 L320.9,356.3Z" fill="#1a873b"/>
<path d="M325.5 348.1h0.9v0.9h-0.9zM362.8 322.9h1.3v1.3h-1.3zM344.2 361.6h1.3v1.3h-1.3zM333.9 342.7h1.3v1.3h-1.3zM346.5 353.3h0.9v0.9h-0.9zM376.1 340.2h0.9v0.9h-0.9zM327.0 346.2h0.9v0.9h-0.9zM383.7 329.7h0.9v0.9h-0.9zM375.4 320.2h0.9v0.9h-0.9zM341.3 361.8h0.9v0.9h-0.9zM321.2 352.8h0.9v0.9h-0.9zM363.3 343.7h0.9v0.9h-0.9zM377.5 337.3h1.3v1.3h-1.3zM326.1 345.1h0.9v0.9h-0.9zM371.4 343.0h0.9v0.9h-0.9zM361.8 343.6h1.3v1.3h-1.3zM366.7 319.7h0.9v0.9h-0.9zM337.7 360.6h0.9v0.9h-0.9zM334.5 340.7h0.9v0.9h-0.9zM353.8 350.9h1.3v1.3h-1.3zM345.0 355.5h1.3v1.3h-1.3zM382.4 332.7h0.9v0.9h-0.9zM360.5 349.0h0.9v0.9h-0.9zM341.0 362.8h0.9v0.9h-0.9zM342.4 356.5h0.9v0.9h-0.9zM379.8 336.3h0.9v0.9h-0.9zM320.6 355.4h0.9v0.9h-0.9zM378.5 319.9h0.9v0.9h-0.9zM344.2 358.0h1.3v1.3h-1.3zM365.5 321.6h0.9v0.9h-0.9zM345.1 334.7h0.9v0.9h-0.9zM339.7 363.7h0.9v0.9h-0.9zM383.6 316.3h0.9v0.9h-0.9zM377.1 319.4h1.3v1.3h-1.3zM359.8 346.9h0.9v0.9h-0.9zM380.1 333.5h0.9v0.9h-0.9zM357.2 349.3h0.9v0.9h-0.9zM352.3 331.6h1.3v1.3h-1.3zM370.5 343.2h0.9v0.9h-0.9zM357.3 345.9h0.9v0.9h-0.9zM352.2 332.3h0.9v0.9h-0.9zM370.9 339.8h0.9v0.9h-0.9zM347.6 356.4h1.3v1.3h-1.3zM365.9 323.0h0.9v0.9h-0.9zM341.5 361.3h0.9v0.9h-0.9zM329.4 345.5h0.9v0.9h-0.9zM385.0 323.4h0.9v0.9h-0.9zM335.2 361.4h1.3v1.3h-1.3zM338.6 337.0h0.9v0.9h-0.9zM358.5 348.8h1.3v1.3h-1.3zM351.9 331.5h0.9v0.9h-0.9zM333.7 360.9h1.3v1.3h-1.3zM346.6 355.1h1.3v1.3h-1.3zM326.5 348.8h1.3v1.3h-1.3zM339.9 338.3h0.9v0.9h-0.9zM345.6 355.3h0.9v0.9h-0.9zM356.4 349.1h1.3v1.3h-1.3zM341.5 362.1h1.3v1.3h-1.3zM378.7 337.4h0.9v0.9h-0.9zM386.1 323.0h0.9v0.9h-0.9zM339.2 362.3h0.9v0.9h-0.9zM340.9 362.2h0.9v0.9h-0.9zM322.7 351.9h0.9v0.9h-0.9zM355.4 328.2h0.9v0.9h-0.9zM383.3 314.2h0.9v0.9h-0.9zM368.5 322.3h0.9v0.9h-0.9zM348.1 352.9h0.9v0.9h-0.9zM319.7 351.2h0.9v0.9h-0.9zM364.6 321.6h0.9v0.9h-0.9zM378.5 318.9h0.9v0.9h-0.9zM353.7 330.0h0.9v0.9h-0.9zM337.6 362.3h0.9v0.9h-0.9zM364.4 324.9h0.9v0.9h-0.9zM380.8 318.1h0.9v0.9h-0.9zM360.0 325.8h0.9v0.9h-0.9zM381.6 317.0h1.3v1.3h-1.3zM384.6 320.6h1.3v1.3h-1.3zM357.3 328.4h0.9v0.9h-0.9zM380.6 318.4h0.9v0.9h-0.9zM343.8 357.3h0.9v0.9h-0.9zM319.1 353.3h0.9v0.9h-0.9zM383.4 318.5h0.9v0.9h-0.9zM327.7 345.4h1.3v1.3h-1.3zM365.7 344.6h1.3v1.3h-1.3zM379.3 334.7h0.9v0.9h-0.9zM381.1 317.0h0.9v0.9h-0.9zM332.7 340.1h0.9v0.9h-0.9zM343.4 359.7h0.9v0.9h-0.9zM341.8 334.3h1.3v1.3h-1.3zM342.6 360.1h1.3v1.3h-1.3zM384.4 330.6h1.3v1.3h-1.3zM339.4 361.1h0.9v0.9h-0.9zM345.7 359.8h0.9v0.9h-0.9zM383.3 330.2h1.3v1.3h-1.3zM332.8 341.3h0.9v0.9h-0.9zM378.1 318.4h0.9v0.9h-0.9zM362.1 342.9h1.3v1.3h-1.3zM342.5 359.4h0.9v0.9h-0.9zM342.9 359.2h0.9v0.9h-0.9zM381.1 318.6h1.3v1.3h-1.3zM347.8 354.3h0.9v0.9h-0.9zM366.0 323.7h0.9v0.9h-0.9zM360.9 326.9h0.9v0.9h-0.9zM360.9 325.4h1.3v1.3h-1.3zM327.2 349.1h1.3v1.3h-1.3zM349.9 331.9h0.9v0.9h-0.9zM361.7 325.5h1.3v1.3h-1.3zM357.6 325.6h1.3v1.3h-1.3zM341.7 363.2h0.9v0.9h-0.9zM375.6 339.9h0.9v0.9h-0.9zM381.7 319.1h0.9v0.9h-0.9zM320.4 350.5h1.3v1.3h-1.3zM348.0 334.6h0.9v0.9h-0.9zM321.9 352.4h1.3v1.3h-1.3zM331.7 361.8h1.3v1.3h-1.3zM383.9 322.2h1.3v1.3h-1.3zM343.9 335.8h1.3v1.3h-1.3zM359.1 345.7h0.9v0.9h-0.9zM321.8 353.3h0.9v0.9h-0.9zM366.4 342.3h1.3v1.3h-1.3zM379.3 332.8h1.3v1.3h-1.3zM383.0 329.2h0.9v0.9h-0.9zM376.7 338.1h0.9v0.9h-0.9zM338.8 335.4h0.9v0.9h-0.9zM348.0 333.5h1.3v1.3h-1.3zM346.0 355.4h0.9v0.9h-0.9zM358.3 349.5h0.9v0.9h-0.9zM369.1 341.0h0.9v0.9h-0.9zM364.3 323.5h0.9v0.9h-0.9zM374.6 337.6h1.3v1.3h-1.3zM377.1 337.2h0.9v0.9h-0.9zM382.1 329.0h0.9v0.9h-0.9zM366.4 321.1h0.9v0.9h-0.9zM341.8 336.2h0.9v0.9h-0.9zM385.7 320.7h0.9v0.9h-0.9zM319.6 355.9h1.3v1.3h-1.3zM324.4 356.3h0.9v0.9h-0.9zM349.8 352.1h0.9v0.9h-0.9zM357.5 328.3h0.9v0.9h-0.9zM334.4 339.2h0.9v0.9h-0.9zM385.3 320.2h0.9v0.9h-0.9zM334.1 359.1h1.3v1.3h-1.3zM375.6 320.0h1.3v1.3h-1.3zM340.6 362.9h1.3v1.3h-1.3zM361.8 346.7h0.9v0.9h-0.9zM325.8 349.9h0.9v0.9h-0.9zM372.5 319.4h0.9v0.9h-0.9zM360.6 326.5h0.9v0.9h-0.9zM385.1 320.1h0.9v0.9h-0.9zM383.2 328.5h0.9v0.9h-0.9zM379.3 335.7h0.9v0.9h-0.9zM364.0 343.0h0.9v0.9h-0.9zM355.1 328.8h1.3v1.3h-1.3zM381.4 334.9h0.9v0.9h-0.9zM356.8 329.0h0.9v0.9h-0.9zM323.9 350.1h0.9v0.9h-0.9zM328.9 347.2h0.9v0.9h-0.9zM353.5 350.7h0.9v0.9h-0.9zM345.7 354.1h1.3v1.3h-1.3zM328.8 342.7h1.3v1.3h-1.3zM340.4 363.4h1.3v1.3h-1.3zM366.2 343.7h0.9v0.9h-0.9zM371.6 344.1h0.9v0.9h-0.9zM353.0 351.1h0.9v0.9h-0.9zM382.5 327.6h0.9v0.9h-0.9zM347.1 355.5h1.3v1.3h-1.3zM361.7 347.8h0.9v0.9h-0.9zM356.3 329.5h1.3v1.3h-1.3zM374.1 319.0h0.9v0.9h-0.9zM322.3 360.0h0.9v0.9h-0.9zM376.0 318.8h0.9v0.9h-0.9zM382.9 318.3h1.3v1.3h-1.3zM384.3 329.7h1.3v1.3h-1.3zM326.7 348.4h0.9v0.9h-0.9zM374.7 339.6h0.9v0.9h-0.9zM329.5 346.0h0.9v0.9h-0.9zM372.2 318.8h0.9v0.9h-0.9zM370.3 342.4h1.3v1.3h-1.3zM385.4 320.1h0.9v0.9h-0.9zM354.4 326.2h0.9v0.9h-0.9zM324.5 350.0h1.3v1.3h-1.3zM335.1 338.1h1.3v1.3h-1.3zM330.2 358.0h0.9v0.9h-0.9zM369.0 323.3h0.9v0.9h-0.9zM339.0 339.4h0.9v0.9h-0.9zM362.5 323.6h1.3v1.3h-1.3zM373.3 321.7h0.9v0.9h-0.9zM339.7 336.1h0.9v0.9h-0.9zM378.5 334.9h0.9v0.9h-0.9zM382.2 329.2h1.3v1.3h-1.3zM356.5 349.0h1.3v1.3h-1.3zM386.1 325.5h1.3v1.3h-1.3zM381.2 318.8h0.9v0.9h-0.9zM319.7 352.5h1.3v1.3h-1.3zM349.2 352.7h0.9v0.9h-0.9zM356.8 347.9h0.9v0.9h-0.9zM359.8 349.9h0.9v0.9h-0.9zM373.2 340.3h0.9v0.9h-0.9zM370.1 342.2h0.9v0.9h-0.9zM368.2 322.4h0.9v0.9h-0.9zM363.7 343.2h1.3v1.3h-1.3zM361.9 344.3h0.9v0.9h-0.9zM351.4 353.8h0.9v0.9h-0.9zM344.4 358.7h0.9v0.9h-0.9zM339.9 363.3h0.9v0.9h-0.9zM383.4 317.3h0.9v0.9h-0.9zM357.1 327.1h0.9v0.9h-0.9zM352.5 328.6h1.3v1.3h-1.3zM331.4 342.8h1.3v1.3h-1.3zM383.7 332.7h0.9v0.9h-0.9zM323.0 350.0h0.9v0.9h-0.9zM352.3 331.6h0.9v0.9h-0.9zM349.6 350.2h0.9v0.9h-0.9zM364.5 324.5h1.3v1.3h-1.3zM371.4 321.9h0.9v0.9h-0.9zM381.4 334.0h1.3v1.3h-1.3zM384.2 321.6h0.9v0.9h-0.9zM368.9 344.8h0.9v0.9h-0.9zM382.9 326.4h0.9v0.9h-0.9zM381.1 315.5h1.3v1.3h-1.3zM357.1 350.0h1.3v1.3h-1.3zM368.8 345.2h0.9v0.9h-0.9zM384.7 324.5h0.9v0.9h-0.9zM373.3 342.6h0.9v0.9h-0.9zM351.2 352.2h0.9v0.9h-0.9zM376.7 317.8h0.9v0.9h-0.9zM374.4 339.8h0.9v0.9h-0.9zM340.9 363.7h1.3v1.3h-1.3zM374.7 337.6h1.3v1.3h-1.3zM374.9 319.7h0.9v0.9h-0.9zM380.4 317.5h1.3v1.3h-1.3zM373.0 320.7h1.3v1.3h-1.3zM351.3 331.2h0.9v0.9h-0.9zM331.6 341.6h1.3v1.3h-1.3zM354.3 328.0h1.3v1.3h-1.3zM383.4 317.7h0.9v0.9h-0.9zM350.4 351.1h1.3v1.3h-1.3zM362.4 325.4h1.3v1.3h-1.3zM373.9 340.2h0.9v0.9h-0.9zM351.8 331.2h1.3v1.3h-1.3zM362.2 324.0h1.3v1.3h-1.3zM349.6 350.9h0.9v0.9h-0.9zM347.6 332.1h1.3v1.3h-1.3zM351.9 331.4h1.3v1.3h-1.3zM331.4 344.1h0.9v0.9h-0.9zM375.7 320.5h0.9v0.9h-0.9zM370.2 321.3h0.9v0.9h-0.9zM381.5 317.4h0.9v0.9h-0.9zM368.3 342.6h0.9v0.9h-0.9zM363.7 343.6h0.9v0.9h-0.9zM363.7 342.9h1.3v1.3h-1.3zM341.7 361.4h1.3v1.3h-1.3zM364.7 321.9h1.3v1.3h-1.3zM350.0 352.1h0.9v0.9h-0.9zM360.0 346.7h0.9v0.9h-0.9zM320.8 353.4h0.9v0.9h-0.9zM375.7 337.7h1.3v1.3h-1.3zM356.4 349.6h0.9v0.9h-0.9zM340.4 361.9h0.9v0.9h-0.9zM367.4 322.2h1.3v1.3h-1.3zM373.3 339.5h0.9v0.9h-0.9zM361.5 345.2h0.9v0.9h-0.9zM344.9 333.9h1.3v1.3h-1.3zM365.2 344.2h1.3v1.3h-1.3zM362.4 324.8h0.9v0.9h-0.9zM360.3 349.2h0.9v0.9h-0.9zM348.8 354.0h0.9v0.9h-0.9zM380.7 316.9h0.9v0.9h-0.9zM347.6 331.6h0.9v0.9h-0.9zM376.7 338.9h1.3v1.3h-1.3zM383.1 330.6h0.9v0.9h-0.9zM354.5 349.9h1.3v1.3h-1.3zM345.4 353.9h0.9v0.9h-0.9zM377.7 338.7h0.9v0.9h-0.9zM339.2 336.8h1.3v1.3h-1.3zM325.2 350.4h0.9v0.9h-0.9zM355.7 348.9h0.9v0.9h-0.9zM367.2 320.9h0.9v0.9h-0.9zM330.5 359.1h0.9v0.9h-0.9zM319.6 355.0h0.9v0.9h-0.9zM378.4 332.8h0.9v0.9h-0.9zM355.0 328.5h0.9v0.9h-0.9zM339.9 361.9h0.9v0.9h-0.9zM370.1 321.3h1.3v1.3h-1.3zM346.1 335.3h1.3v1.3h-1.3zM366.3 343.8h1.3v1.3h-1.3zM343.0 362.7h1.3v1.3h-1.3zM345.5 354.1h0.9v0.9h-0.9zM368.3 343.3h1.3v1.3h-1.3zM362.8 324.1h0.9v0.9h-0.9zM350.6 352.8h0.9v0.9h-0.9zM327.6 360.3h0.9v0.9h-0.9zM319.6 353.5h0.9v0.9h-0.9zM338.0 337.4h0.9v0.9h-0.9zM378.8 318.0h1.3v1.3h-1.3zM363.6 324.2h0.9v0.9h-0.9zM341.4 362.5h1.3v1.3h-1.3zM351.1 353.3h1.3v1.3h-1.3zM354.2 330.4h1.3v1.3h-1.3zM319.4 355.3h1.3v1.3h-1.3z" fill="#1a873b"/>
<path d="M319.1,358.6 L319.4,358.2 L319.7,357.8 L320.1,357.5 L320.2,356.9 L320.7,356.7 L321.0,356.2 L321.5,355.9 L321.9,355.4 L322.3,355.1 L322.7,354.7 L323.2,354.4 L323.5,354.0 L323.8,353.7 L324.2,353.3 L324.7,353.3 L325.0,352.9 L325.4,352.6 L325.8,352.5 L326.3,352.4 L326.7,352.1 L327.1,352.0 L327.6,352.0 L327.9,351.7 L328.4,351.8 L328.7,351.6 L329.1,351.5 L329.4,351.3 L329.7,351.2 L330.0,350.9 L330.4,351.1 L330.6,350.8 L330.9,350.8 L331.2,350.8 L331.5,351.0 L331.8,350.9 L332.1,350.7 L332.4,350.8 L332.7,350.6 L333.0,350.9 L333.3,350.5 L333.6,350.6 L334.0,350.6 L334.3,350.7 L334.6,350.5 L334.9,350.3 L335.2,350.5 L335.5,350.3 L335.9,350.6 L336.1,350.2 L336.4,350.2 L336.7,350.3 L337.0,350.5 L337.2,350.5 L337.5,350.5 L337.8,350.5 L338.1,350.5 L338.3,350.5 L338.6,350.7 L338.8,350.8 L339.0,350.8 L339.2,350.9 L339.6,350.8 L339.5,351.3 L339.8,351.3 L340.0,351.5 L340.1,351.8 L340.1,352.1 L340.3,352.4 L340.3,352.8 L340.3,353.2 L340.5,353.6 L340.2,354.1 L340.2,354.6 L340.2,355.0 L340.3,355.5 L340.3,356.0 L340.5,356.5 L340.2,357.0 L340.4,357.5 L340.2,358.0 L340.4,358.6 L340.5,359.1 L340.2,359.7 L340.5,360.3 L340.1,360.8 L340.0,361.4 L340.2,362.0 L340.0,362.6 L339.9,363.2 L340.1,363.8 L340.0,364.4 L339.8,365.0 L339.9,365.6 L339.6,366.1 L339.7,366.7 L339.4,367.3 L339.3,367.8 L339.3,368.4 L339.1,369.0 L339.1,369.6 L339.1,370.2 L339.1,370.8 L338.8,371.4 L338.5,371.9 L338.6,372.6 L338.4,373.1 L338.3,373.7 L338.4,374.4 L338.2,375.0 L338.1,375.6 L338.0,376.2 L337.8,376.7 L337.7,377.3 L337.3,377.9 L337.3,378.5 L336.9,379.0 L337.1,379.7 L336.6,380.2 L336.5,380.9 L336.4,381.5 L336.0,382.1 L336.1,382.8 L335.6,383.4 L335.4,384.0 L335.4,384.7 L335.2,385.3 L334.7,385.7 L334.7,386.3 L334.3,386.7 L334.1,387.1 L333.7,387.4 L333.5,387.8 L333.2,388.0 L332.8,388.1 L332.6,388.5 L332.2,388.5 L331.8,388.6 L331.5,388.8 L331.2,389.0 L330.9,389.1 L330.5,389.0 L330.3,389.5 L329.9,389.3 L329.7,389.6 L329.5,389.6 L329.2,389.7 L329.0,389.7 L328.9,390.0 L328.7,390.0 L328.4,389.8 L328.2,389.7 L328.0,390.0 L327.8,390.0 L327.6,389.7 L327.3,389.5 L327.0,389.5 L326.7,389.2 L326.1,389.2 L325.8,388.7 L325.3,388.5 L324.9,388.2 L324.3,388.0 L323.8,387.7 L323.5,387.1 L322.8,386.9 L322.5,386.3 L322.0,386.1 L321.7,385.5 L321.2,385.2 L320.8,384.8 L320.6,384.2 L320.5,383.6 L320.2,383.1 L319.7,382.6 L319.6,382.0 L319.4,381.4 L319.1,380.8 L319.0,380.2 L318.9,379.6 L318.6,379.1 L318.4,378.5 L318.6,377.9 L318.4,377.5 L318.2,377.0 L318.2,376.6 L318.3,376.2 L318.2,375.7 L318.3,375.3 L318.1,374.9 L318.3,374.5 L317.9,374.0 L318.1,373.6 L318.0,373.1 L318.0,372.6 L318.0,372.0 L318.1,371.4 L317.9,370.7 L318.1,370.0 L318.0,369.2 L317.8,368.5 L317.9,367.7 L317.7,366.9 L318.1,366.1 L317.8,365.4 L317.8,364.7 L317.9,364.0 L317.9,363.4 L317.8,362.8 L317.9,362.3 L317.8,361.9 L317.9,361.5 L317.9,361.1 L318.1,360.8 L318.1,360.5 L318.2,360.3 L318.2,360.0 L318.4,359.7 L318.4,359.4 L318.5,359.1 L318.8,358.8Z" fill="#1a873b"/>
<path d="M339.0 379.1h0.9v0.9h-0.9zM340.2 367.1h1.3v1.3h-1.3zM324.2 353.3h0.9v0.9h-0.9zM320.2 386.1h0.9v0.9h-0.9zM316.3 361.0h1.3v1.3h-1.3zM317.2 366.1h0.9v0.9h-0.9zM340.2 361.0h1.3v1.3h-1.3zM339.9 355.3h0.9v0.9h-0.9zM317.0 375.9h0.9v0.9h-0.9zM323.2 353.0h0.9v0.9h-0.9zM341.5 355.2h0.9v0.9h-0.9zM338.5 351.0h0.9v0.9h-0.9zM339.8 353.8h0.9v0.9h-0.9zM337.9 380.1h0.9v0.9h-0.9zM318.9 357.6h0.9v0.9h-0.9zM321.0 355.2h0.9v0.9h-0.9zM333.3 387.6h0.9v0.9h-0.9zM335.1 349.7h1.3v1.3h-1.3zM325.1 351.7h1.3v1.3h-1.3zM339.0 351.0h0.9v0.9h-0.9zM315.9 367.9h0.9v0.9h-0.9zM318.2 379.3h0.9v0.9h-0.9zM333.5 388.6h0.9v0.9h-0.9zM317.7 373.4h1.3v1.3h-1.3zM318.0 359.6h0.9v0.9h-0.9zM333.8 386.8h0.9v0.9h-0.9zM338.8 376.5h1.3v1.3h-1.3zM337.8 381.0h1.3v1.3h-1.3zM331.4 350.2h1.3v1.3h-1.3zM318.1 363.7h0.9v0.9h-0.9zM332.4 350.6h0.9v0.9h-0.9zM329.4 390.0h0.9v0.9h-0.9zM318.4 380.5h0.9v0.9h-0.9zM340.1 366.6h0.9v0.9h-0.9zM328.4 390.2h0.9v0.9h-0.9zM340.0 359.4h0.9v0.9h-0.9zM322.3 385.6h1.3v1.3h-1.3zM341.0 360.6h0.9v0.9h-0.9zM317.9 376.4h0.9v0.9h-0.9zM317.6 373.5h0.9v0.9h-0.9zM317.7 360.3h0.9v0.9h-0.9zM339.1 378.0h0.9v0.9h-0.9zM336.3 348.6h0.9v0.9h-0.9zM323.2 352.7h0.9v0.9h-0.9zM334.8 349.3h0.9v0.9h-0.9zM337.4 349.8h0.9v0.9h-0.9zM340.7 359.8h0.9v0.9h-0.9zM330.0 349.3h0.9v0.9h-0.9zM331.5 351.5h1.3v1.3h-1.3zM328.8 389.8h0.9v0.9h-0.9zM319.8 385.2h0.9v0.9h-0.9zM340.2 353.5h0.9v0.9h-0.9zM318.6 381.7h0.9v0.9h-0.9zM332.2 389.3h1.3v1.3h-1.3zM323.4 353.9h0.9v0.9h-0.9zM317.3 360.1h0.9v0.9h-0.9zM341.8 354.6h0.9v0.9h-0.9zM316.7 371.6h1.3v1.3h-1.3zM341.0 357.2h0.9v0.9h-0.9zM342.6 356.6h0.9v0.9h-0.9zM326.7 389.1h0.9v0.9h-0.9zM320.7 388.3h0.9v0.9h-0.9zM335.0 350.7h0.9v0.9h-0.9zM329.8 390.5h0.9v0.9h-0.9zM333.1 349.6h0.9v0.9h-0.9zM333.7 389.4h1.3v1.3h-1.3zM339.0 371.9h0.9v0.9h-0.9zM340.9 356.4h1.3v1.3h-1.3zM318.0 369.9h1.3v1.3h-1.3zM318.6 382.0h0.9v0.9h-0.9zM324.1 352.8h0.9v0.9h-0.9zM317.5 361.7h1.3v1.3h-1.3zM338.1 375.1h0.9v0.9h-0.9zM335.3 349.9h0.9v0.9h-0.9zM317.8 363.0h0.9v0.9h-0.9zM337.1 382.5h0.9v0.9h-0.9zM327.7 351.1h0.9v0.9h-0.9zM317.2 374.8h0.9v0.9h-0.9zM331.9 388.4h0.9v0.9h-0.9zM341.0 360.0h0.9v0.9h-0.9zM338.0 350.5h0.9v0.9h-0.9zM334.6 349.9h0.9v0.9h-0.9zM318.3 360.7h0.9v0.9h-0.9zM330.5 390.1h0.9v0.9h-0.9zM317.4 378.2h0.9v0.9h-0.9zM341.7 355.9h0.9v0.9h-0.9zM322.0 354.7h1.3v1.3h-1.3zM331.8 350.5h0.9v0.9h-0.9zM341.6 353.8h0.9v0.9h-0.9zM341.0 361.2h1.3v1.3h-1.3zM340.9 354.2h1.3v1.3h-1.3zM337.0 350.0h1.3v1.3h-1.3zM321.8 354.2h0.9v0.9h-0.9zM331.0 388.3h1.3v1.3h-1.3zM317.1 371.2h0.9v0.9h-0.9zM340.6 363.1h1.3v1.3h-1.3zM338.3 348.6h0.9v0.9h-0.9zM341.1 352.8h1.3v1.3h-1.3zM335.1 350.7h0.9v0.9h-0.9zM339.4 367.8h0.9v0.9h-0.9zM339.2 366.4h0.9v0.9h-0.9zM316.6 365.6h1.3v1.3h-1.3zM340.9 358.2h0.9v0.9h-0.9zM317.7 359.2h1.3v1.3h-1.3zM333.6 350.8h0.9v0.9h-0.9zM316.9 374.9h0.9v0.9h-0.9zM319.0 384.3h0.9v0.9h-0.9zM341.8 361.0h0.9v0.9h-0.9zM336.3 350.9h0.9v0.9h-0.9zM322.1 387.3h0.9v0.9h-0.9zM339.3 362.8h0.9v0.9h-0.9zM342.7 354.3h0.9v0.9h-0.9zM336.8 350.6h1.3v1.3h-1.3zM326.1 353.0h0.9v0.9h-0.9zM340.1 370.1h1.3v1.3h-1.3zM341.3 362.7h0.9v0.9h-0.9zM333.8 351.2h0.9v0.9h-0.9zM341.8 359.7h1.3v1.3h-1.3zM333.4 388.8h0.9v0.9h-0.9zM325.8 353.1h1.3v1.3h-1.3z" fill="#1a873b"/>
<path d="M319.5,358.9 L320.0,358.7 L319.9,358.0 L320.2,357.6 L320.9,357.6 L320.6,356.6 L321.0,356.2 L321.7,356.1 L322.0,355.6 L322.2,355.0 L323.1,355.1 L323.1,354.4 L323.7,354.3 L323.8,353.7 L324.3,353.5 L324.6,353.2 L325.5,353.7 L325.4,352.6 L326.2,353.2 L326.3,352.3 L326.7,352.3 L327.4,352.8 L327.7,352.3 L327.9,351.7 L328.2,351.5 L328.8,351.9 L329.0,351.4 L329.3,351.1 L329.9,351.8 L330.2,351.8 L330.4,351.2 L330.7,351.1 L331.1,351.7 L331.3,351.1 L331.6,351.6 L331.8,350.6 L332.2,351.3 L332.4,350.7 L332.8,351.6 L333.0,350.8 L333.4,351.2 L333.8,351.5 L334.0,350.6 L334.3,350.4 L334.6,350.7 L334.9,350.3 L335.3,351.1 L335.6,350.7 L335.9,350.4 L336.1,350.4 L336.4,351.0 L336.7,351.2 L337.0,350.5 L337.2,351.0 L337.5,351.1 L337.8,350.7 L338.1,350.4 L338.3,350.6 L338.4,351.2 L338.9,350.5 L339.0,350.8 L339.0,351.3 L339.3,351.1 L339.5,351.2 L339.2,351.7 L340.1,351.5 L339.9,351.8 L340.0,352.1 L339.4,352.6 L339.5,352.9 L339.6,353.3 L339.7,353.7 L340.0,354.1 L339.7,354.6 L340.2,355.0 L340.1,355.5 L340.6,356.0 L340.1,356.5 L340.4,357.0 L340.5,357.5 L339.7,358.0 L339.5,358.5 L339.8,359.1 L340.2,359.7 L340.3,360.3 L340.2,360.8 L339.4,361.4 L339.5,362.0 L339.8,362.6 L339.9,363.2 L339.7,363.8 L339.9,364.4 L339.9,365.0 L339.4,365.5 L339.6,366.1 L339.2,366.7 L338.8,367.2 L339.0,367.8 L339.4,368.5 L338.6,368.9 L338.9,369.6 L338.8,370.2 L338.9,370.8 L338.8,371.4 L338.2,371.9 L337.9,372.4 L338.3,373.1 L338.1,373.7 L338.0,374.3 L338.3,375.0 L337.9,375.5 L337.4,376.0 L336.9,376.5 L336.7,377.1 L337.0,377.8 L336.8,378.4 L336.9,379.0 L336.7,379.6 L336.6,380.2 L335.8,380.7 L336.1,381.4 L335.9,382.1 L335.6,382.7 L335.5,383.4 L335.5,384.0 L335.5,384.7 L335.0,385.2 L334.8,385.7 L334.5,386.2 L334.4,386.7 L333.9,387.0 L333.3,387.0 L333.4,387.7 L333.2,388.0 L333.0,388.4 L332.5,388.4 L332.2,388.5 L331.8,388.6 L331.5,388.7 L331.1,388.5 L330.8,388.7 L330.5,389.1 L330.3,389.4 L330.0,389.5 L329.6,389.1 L329.4,389.5 L329.0,389.0 L329.0,389.7 L328.8,389.8 L328.6,389.8 L328.4,389.0 L328.2,389.2 L328.1,389.5 L328.0,389.0 L327.7,389.4 L327.3,389.6 L326.9,389.7 L326.5,389.4 L326.4,388.8 L326.0,388.5 L325.5,388.2 L325.3,387.6 L324.8,387.2 L324.0,387.4 L323.8,386.6 L322.9,386.8 L323.0,385.8 L322.0,386.0 L321.8,385.4 L321.5,385.0 L321.5,384.3 L321.2,383.9 L320.4,383.7 L320.3,383.0 L320.5,382.3 L320.0,381.8 L319.5,381.4 L320.0,380.5 L319.9,379.9 L319.7,379.4 L319.6,378.8 L319.3,378.3 L318.7,377.9 L318.3,377.5 L319.1,376.9 L318.7,376.5 L318.3,376.1 L319.0,375.7 L318.8,375.3 L318.0,374.9 L318.2,374.5 L318.8,374.0 L318.4,373.6 L318.3,373.1 L318.1,372.6 L318.6,372.0 L319.0,371.3 L318.5,370.7 L318.6,370.0 L318.5,369.2 L318.1,368.5 L318.0,367.7 L318.5,366.9 L318.0,366.1 L318.3,365.4 L318.3,364.7 L318.0,364.0 L318.0,363.4 L317.8,362.8 L318.3,362.3 L318.3,361.9 L318.1,361.5 L318.8,361.3 L318.9,361.0 L319.0,360.7 L318.1,360.2 L318.4,360.0 L318.8,359.9 L318.8,359.6 L319.3,359.5 L319.0,359.0Z" fill="#e5720f"/>
<path d="M339.8 362.6h0.9v0.9h-0.9zM325.0 389.1h0.9v0.9h-0.9zM319.0 379.3h0.9v0.9h-0.9zM332.4 390.0h1.3v1.3h-1.3zM342.2 352.5h0.9v0.9h-0.9zM319.4 380.4h0.9v0.9h-0.9zM342.4 353.8h0.9v0.9h-0.9zM334.0 387.5h0.9v0.9h-0.9zM340.0 374.2h1.3v1.3h-1.3zM337.6 380.4h0.9v0.9h-0.9zM338.6 374.8h1.3v1.3h-1.3zM339.3 363.9h1.3v1.3h-1.3zM335.9 350.2h0.9v0.9h-0.9zM339.0 371.6h1.3v1.3h-1.3zM325.9 351.8h0.9v0.9h-0.9zM340.7 360.2h0.9v0.9h-0.9zM339.2 351.9h0.9v0.9h-0.9zM330.8 389.7h1.3v1.3h-1.3zM330.5 351.0h0.9v0.9h-0.9zM336.9 383.5h0.9v0.9h-0.9zM316.8 367.8h0.9v0.9h-0.9zM325.7 351.7h1.3v1.3h-1.3zM319.5 358.4h0.9v0.9h-0.9zM317.2 361.6h0.9v0.9h-0.9zM336.2 349.9h0.9v0.9h-0.9zM328.4 390.0h0.9v0.9h-0.9zM322.0 386.1h0.9v0.9h-0.9zM323.9 354.1h0.9v0.9h-0.9zM331.0 389.0h0.9v0.9h-0.9zM338.2 376.7h0.9v0.9h-0.9zM317.8 374.3h0.9v0.9h-0.9zM339.7 351.3h0.9v0.9h-0.9zM328.9 349.8h1.3v1.3h-1.3zM321.0 387.0h0.9v0.9h-0.9zM329.6 351.1h1.3v1.3h-1.3zM318.4 373.4h0.9v0.9h-0.9zM328.5 391.4h0.9v0.9h-0.9zM334.9 350.0h0.9v0.9h-0.9zM339.4 353.2h0.9v0.9h-0.9zM319.7 380.7h0.9v0.9h-0.9zM334.5 349.5h0.9v0.9h-0.9zM329.3 351.4h0.9v0.9h-0.9zM325.9 388.4h1.3v1.3h-1.3zM318.5 364.4h0.9v0.9h-0.9zM318.6 366.0h0.9v0.9h-0.9zM334.5 351.8h1.3v1.3h-1.3zM318.6 380.4h0.9v0.9h-0.9zM339.8 373.2h1.3v1.3h-1.3zM342.1 356.0h0.9v0.9h-0.9zM338.5 370.5h0.9v0.9h-0.9zM332.3 388.8h1.3v1.3h-1.3zM340.6 371.6h1.3v1.3h-1.3zM325.9 387.8h1.3v1.3h-1.3zM327.8 351.4h1.3v1.3h-1.3zM326.4 389.3h0.9v0.9h-0.9zM337.6 349.6h1.3v1.3h-1.3zM324.6 387.9h0.9v0.9h-0.9zM341.1 361.2h0.9v0.9h-0.9zM338.5 370.1h1.3v1.3h-1.3zM320.1 380.0h0.9v0.9h-0.9zM340.3 359.2h1.3v1.3h-1.3zM330.3 351.4h0.9v0.9h-0.9zM327.8 352.6h1.3v1.3h-1.3zM317.6 372.5h0.9v0.9h-0.9zM330.8 391.2h1.3v1.3h-1.3zM334.0 350.7h0.9v0.9h-0.9zM328.0 350.3h1.3v1.3h-1.3zM327.7 390.6h1.3v1.3h-1.3zM318.3 363.9h0.9v0.9h-0.9zM332.2 389.9h0.9v0.9h-0.9zM336.6 382.3h0.9v0.9h-0.9zM339.3 350.8h0.9v0.9h-0.9zM330.7 389.6h0.9v0.9h-0.9zM316.3 364.9h0.9v0.9h-0.9zM319.0 377.7h0.9v0.9h-0.9zM330.7 349.0h0.9v0.9h-0.9zM323.2 386.0h0.9v0.9h-0.9zM337.2 350.6h0.9v0.9h-0.9zM335.7 385.3h0.9v0.9h-0.9zM330.1 350.6h0.9v0.9h-0.9zM340.6 351.5h1.3v1.3h-1.3zM326.3 350.8h0.9v0.9h-0.9zM316.6 371.8h0.9v0.9h-0.9zM317.6 364.7h0.9v0.9h-0.9zM339.7 353.7h0.9v0.9h-0.9zM331.0 351.7h0.9v0.9h-0.9zM334.1 349.6h1.3v1.3h-1.3zM336.3 380.6h0.9v0.9h-0.9zM325.9 352.8h0.9v0.9h-0.9zM339.4 369.7h0.9v0.9h-0.9zM321.3 355.8h1.3v1.3h-1.3zM334.5 387.9h0.9v0.9h-0.9zM320.2 386.1h1.3v1.3h-1.3zM324.3 353.7h0.9v0.9h-0.9zM336.2 385.0h1.3v1.3h-1.3zM317.7 361.0h0.9v0.9h-0.9zM336.6 350.8h1.3v1.3h-1.3zM319.4 376.1h1.3v1.3h-1.3zM317.2 362.9h0.9v0.9h-0.9zM324.3 353.6h0.9v0.9h-0.9zM316.7 368.0h0.9v0.9h-0.9zM331.1 389.1h0.9v0.9h-0.9zM331.6 351.0h0.9v0.9h-0.9zM322.5 355.4h0.9v0.9h-0.9zM321.4 356.8h0.9v0.9h-0.9zM339.6 361.0h0.9v0.9h-0.9zM328.0 351.4h0.9v0.9h-0.9zM340.1 351.6h1.3v1.3h-1.3zM321.2 385.4h0.9v0.9h-0.9zM329.6 390.1h0.9v0.9h-0.9zM340.8 361.0h0.9v0.9h-0.9zM317.8 369.0h0.9v0.9h-0.9zM320.4 356.3h1.3v1.3h-1.3zM331.8 389.7h0.9v0.9h-0.9zM319.3 383.7h0.9v0.9h-0.9zM319.3 380.8h1.3v1.3h-1.3zM321.0 385.3h0.9v0.9h-0.9zM339.1 364.8h0.9v0.9h-0.9zM340.8 359.3h0.9v0.9h-0.9zM333.2 351.1h1.3v1.3h-1.3zM327.7 391.8h0.9v0.9h-0.9zM331.3 389.3h0.9v0.9h-0.9zM319.3 379.3h0.9v0.9h-0.9zM320.2 357.8h0.9v0.9h-0.9zM333.7 387.6h1.3v1.3h-1.3zM341.1 362.0h1.3v1.3h-1.3zM339.9 374.0h0.9v0.9h-0.9zM339.4 372.9h0.9v0.9h-0.9zM340.2 356.6h1.3v1.3h-1.3zM341.1 354.2h0.9v0.9h-0.9zM316.8 376.1h0.9v0.9h-0.9zM328.8 389.5h0.9v0.9h-0.9zM336.1 383.0h0.9v0.9h-0.9zM332.9 388.7h0.9v0.9h-0.9zM318.0 365.8h1.3v1.3h-1.3zM328.4 388.9h0.9v0.9h-0.9zM323.8 386.4h0.9v0.9h-0.9zM340.2 365.6h1.3v1.3h-1.3zM337.8 350.5h0.9v0.9h-0.9zM340.7 373.6h1.3v1.3h-1.3zM339.7 368.1h0.9v0.9h-0.9zM317.1 375.6h0.9v0.9h-0.9zM330.2 351.7h0.9v0.9h-0.9zM318.8 365.3h0.9v0.9h-0.9zM339.5 350.8h0.9v0.9h-0.9zM334.3 351.7h0.9v0.9h-0.9zM318.5 365.0h0.9v0.9h-0.9zM318.7 369.9h0.9v0.9h-0.9zM326.9 351.8h1.3v1.3h-1.3zM328.7 389.5h0.9v0.9h-0.9zM328.4 389.3h0.9v0.9h-0.9zM320.4 357.6h0.9v0.9h-0.9zM338.2 349.1h0.9v0.9h-0.9zM340.2 365.5h0.9v0.9h-0.9zM319.4 358.2h0.9v0.9h-0.9zM335.6 387.1h1.3v1.3h-1.3zM341.2 353.1h0.9v0.9h-0.9zM316.9 377.1h1.3v1.3h-1.3zM335.8 349.6h0.9v0.9h-0.9zM338.3 351.1h0.9v0.9h-0.9z" fill="#e5720f"/>
<path d="M385.6 321.1h0.9v0.9h-0.9zM392.5 316.0h0.9v0.9h-0.9zM384.7 321.6h1.2v1.2h-1.2zM383.9 318.3h0.9v0.9h-0.9zM386.7 317.1h0.9v0.9h-0.9zM400.0 312.8h0.9v0.9h-0.9zM395.0 314.2h1.2v1.2h-1.2zM391.4 316.8h0.9v0.9h-0.9zM398.6 315.6h0.9v0.9h-0.9zM398.6 317.4h1.2v1.2h-1.2zM398.1 317.6h1.2v1.2h-1.2zM385.8 320.6h0.9v0.9h-0.9zM382.5 324.3h0.9v0.9h-0.9zM393.7 322.0h1.2v1.2h-1.2zM380.5 325.2h0.9v0.9h-0.9zM382.6 323.2h0.9v0.9h-0.9zM390.5 319.8h0.9v0.9h-0.9zM384.0 317.2h0.9v0.9h-0.9zM400.4 320.6h0.9v0.9h-0.9zM391.7 316.8h1.2v1.2h-1.2zM378.0 327.2h0.9v0.9h-0.9zM383.1 324.4h0.9v0.9h-0.9zM380.8 326.0h0.9v0.9h-0.9zM404.6 314.6h0.9v0.9h-0.9zM391.2 319.4h0.9v0.9h-0.9zM382.3 325.8h0.9v0.9h-0.9zM397.9 320.4h0.9v0.9h-0.9zM392.0 315.4h0.9v0.9h-0.9zM397.0 314.2h0.9v0.9h-0.9zM388.0 318.0h0.9v0.9h-0.9zM399.0 319.8h0.9v0.9h-0.9zM385.4 323.7h1.2v1.2h-1.2zM403.8 312.2h0.9v0.9h-0.9zM387.5 319.4h1.2v1.2h-1.2zM399.9 314.5h0.9v0.9h-0.9zM394.9 318.8h0.9v0.9h-0.9zM402.1 310.3h0.9v0.9h-0.9zM386.6 325.7h0.9v0.9h-0.9zM384.2 324.6h1.2v1.2h-1.2zM386.1 322.7h0.9v0.9h-0.9zM393.4 310.5h0.9v0.9h-0.9zM389.0 325.1h0.9v0.9h-0.9zM382.9 321.8h1.2v1.2h-1.2zM387.2 318.8h0.9v0.9h-0.9zM384.5 320.8h0.9v0.9h-0.9zM384.9 320.1h0.9v0.9h-0.9zM396.7 320.2h0.9v0.9h-0.9zM382.1 322.1h1.2v1.2h-1.2zM385.0 319.6h1.2v1.2h-1.2zM404.7 315.5h1.2v1.2h-1.2zM391.9 320.5h0.9v0.9h-0.9zM396.0 311.0h1.2v1.2h-1.2zM385.9 322.0h1.2v1.2h-1.2zM381.0 324.1h0.9v0.9h-0.9zM397.8 319.6h1.2v1.2h-1.2zM381.6 326.8h0.9v0.9h-0.9zM402.5 311.2h1.2v1.2h-1.2zM389.8 316.2h0.9v0.9h-0.9zM396.2 315.3h0.9v0.9h-0.9zM400.3 316.5h0.9v0.9h-0.9zM398.0 320.5h1.2v1.2h-1.2zM388.7 321.7h0.9v0.9h-0.9zM386.7 316.4h0.9v0.9h-0.9zM395.5 310.8h1.2v1.2h-1.2zM386.8 321.6h1.2v1.2h-1.2zM380.6 321.2h0.9v0.9h-0.9zM388.9 323.4h0.9v0.9h-0.9zM396.8 319.0h0.9v0.9h-0.9zM397.7 319.9h0.9v0.9h-0.9zM384.1 324.3h0.9v0.9h-0.9zM386.1 321.9h1.2v1.2h-1.2zM399.4 309.5h0.9v0.9h-0.9zM382.2 323.0h0.9v0.9h-0.9zM387.3 318.9h0.9v0.9h-0.9zM396.8 318.2h0.9v0.9h-0.9zM391.2 316.1h1.2v1.2h-1.2zM381.3 318.8h1.2v1.2h-1.2zM385.9 319.9h1.2v1.2h-1.2zM384.6 322.9h0.9v0.9h-0.9zM382.5 316.2h0.9v0.9h-0.9zM401.6 316.2h0.9v0.9h-0.9zM381.8 324.5h0.9v0.9h-0.9zM385.8 322.4h0.9v0.9h-0.9zM399.5 315.2h0.9v0.9h-0.9zM390.2 324.7h0.9v0.9h-0.9zM402.6 318.0h0.9v0.9h-0.9zM383.0 319.1h0.9v0.9h-0.9zM391.4 317.2h0.9v0.9h-0.9zM401.8 315.4h0.9v0.9h-0.9zM383.1 322.0h0.9v0.9h-0.9zM387.4 320.8h0.9v0.9h-0.9zM386.2 315.6h0.9v0.9h-0.9zM388.0 320.0h0.9v0.9h-0.9zM386.7 320.1h0.9v0.9h-0.9zM381.5 322.2h0.9v0.9h-0.9zM392.4 314.4h0.9v0.9h-0.9zM400.6 315.9h0.9v0.9h-0.9zM395.1 320.6h0.9v0.9h-0.9zM402.7 313.5h1.2v1.2h-1.2zM386.5 319.2h0.9v0.9h-0.9zM397.0 315.6h0.9v0.9h-0.9zM384.1 321.9h0.9v0.9h-0.9zM378.8 324.1h1.2v1.2h-1.2zM384.2 320.1h0.9v0.9h-0.9zM392.3 314.2h1.2v1.2h-1.2zM395.9 319.3h1.2v1.2h-1.2zM395.7 318.3h1.2v1.2h-1.2zM377.4 324.5h0.9v0.9h-0.9zM389.3 319.8h1.2v1.2h-1.2zM391.7 316.9h0.9v0.9h-0.9zM384.0 324.0h0.9v0.9h-0.9zM380.3 322.0h0.9v0.9h-0.9zM401.4 316.4h1.2v1.2h-1.2zM402.8 314.8h0.9v0.9h-0.9zM396.8 312.9h0.9v0.9h-0.9zM382.1 325.0h0.9v0.9h-0.9zM384.6 322.8h0.9v0.9h-0.9zM402.0 310.7h1.2v1.2h-1.2zM402.9 308.7h0.9v0.9h-0.9zM391.8 314.4h0.9v0.9h-0.9zM389.2 323.7h0.9v0.9h-0.9zM390.0 319.5h0.9v0.9h-0.9zM396.7 318.5h0.9v0.9h-0.9zM403.3 311.1h0.9v0.9h-0.9zM377.5 323.6h0.9v0.9h-0.9zM379.6 324.7h0.9v0.9h-0.9zM375.9 316.7h0.9v0.9h-0.9zM386.9 321.6h0.9v0.9h-0.9zM390.1 317.6h0.9v0.9h-0.9zM382.5 321.6h0.9v0.9h-0.9zM404.4 317.5h0.9v0.9h-0.9zM379.4 322.8h0.9v0.9h-0.9zM387.4 320.6h0.9v0.9h-0.9zM403.0 312.2h0.9v0.9h-0.9zM390.1 319.8h1.2v1.2h-1.2zM406.5 311.8h0.9v0.9h-0.9zM380.8 322.0h0.9v0.9h-0.9zM385.5 322.3h1.2v1.2h-1.2zM402.3 318.2h0.9v0.9h-0.9zM405.6 317.5h0.9v0.9h-0.9zM335.9 338.0h0.9v0.9h-0.9zM326.3 337.1h1.2v1.2h-1.2zM336.7 338.8h1.2v1.2h-1.2zM331.8 341.3h0.9v0.9h-0.9zM333.7 338.3h0.9v0.9h-0.9zM333.4 341.6h1.2v1.2h-1.2zM333.8 342.3h0.9v0.9h-0.9zM335.7 339.3h0.9v0.9h-0.9zM339.4 338.1h0.9v0.9h-0.9zM326.1 336.2h0.9v0.9h-0.9z" fill="#1a873b"/>
<line x1="335.40" y1="299.00" x2="335.40" y2="404.70" stroke="#f2706a" stroke-width="0.95" stroke-opacity="0.85"/>
<line x1="424.60" y1="299.50" x2="424.60" y2="404.70" stroke="#7a7a7a" stroke-width="0.8"/>
<line x1="424.60" y1="404.70" x2="472.00" y2="404.70" stroke="#7a7a7a" stroke-width="0.8"/>
<line x1="421.30" y1="308.60" x2="424.60" y2="308.60" stroke="#7a7a7a" stroke-width="0.8"/>
<line x1="421.30" y1="324.40" x2="424.60" y2="324.40" stroke="#7a7a7a" stroke-width="0.8"/>
<line x1="421.30" y1="339.80" x2="424.60" y2="339.80" stroke="#7a7a7a" stroke-width="0.8"/>
<line x1="421.30" y1="355.20" x2="424.60" y2="355.20" stroke="#7a7a7a" stroke-width="0.8"/>
<line x1="421.30" y1="370.90" x2="424.60" y2="370.90" stroke="#7a7a7a" stroke-width="0.8"/>
<line x1="421.30" y1="386.40" x2="424.60" y2="386.40" stroke="#7a7a7a" stroke-width="0.8"/>
<line x1="421.30" y1="401.40" x2="424.60" y2="401.40" stroke="#7a7a7a" stroke-width="0.8"/>
<line x1="424.60" y1="404.70" x2="424.60" y2="407.70" stroke="#7a7a7a" stroke-width="0.8"/>
<text x="424.60" y="418.45" font-size="8.2" text-anchor="middle" fill="#383838" font-weight="normal">0</text>
<line x1="438.00" y1="404.70" x2="438.00" y2="407.70" stroke="#7a7a7a" stroke-width="0.8"/>
<text x="438.00" y="418.45" font-size="8.2" text-anchor="middle" fill="#383838" font-weight="normal">0.1</text>
<line x1="451.50" y1="404.70" x2="451.50" y2="407.70" stroke="#7a7a7a" stroke-width="0.8"/>
<text x="451.50" y="418.45" font-size="8.2" text-anchor="middle" fill="#383838" font-weight="normal">0.2</text>
<line x1="465.00" y1="404.70" x2="465.00" y2="407.70" stroke="#7a7a7a" stroke-width="0.8"/>
<text x="465.00" y="418.45" font-size="8.2" text-anchor="middle" fill="#383838" font-weight="normal">0.3</text>
<text x="451.10" y="432.70" font-size="8.9" text-anchor="middle" fill="#383838" font-weight="normal">Score density</text>
<path d="M424.60,324.30 C424.88,325.33 425.10,328.55 426.30,330.50 C427.50,332.45 428.60,334.17 431.80,336.00 C435.00,337.83 440.92,339.90 445.50,341.50 C450.08,343.10 455.28,344.38 459.30,345.60 C463.32,346.82 469.60,347.88 469.60,348.80 C469.60,349.72 463.32,350.42 459.30,351.10 C455.28,351.78 450.08,352.37 445.50,352.90 C440.92,353.43 435.28,353.95 431.80,354.30 C428.32,354.65 425.80,354.88 424.60,355.00 L424.60,355.00 L424.60,324.30Z" fill="#c3dfca"/>
<path d="M424.60,324.30 C424.88,325.33 425.10,328.55 426.30,330.50 C427.50,332.45 428.60,334.17 431.80,336.00 C435.00,337.83 440.92,339.90 445.50,341.50 C450.08,343.10 455.28,344.38 459.30,345.60 C463.32,346.82 469.60,347.88 469.60,348.80 C469.60,349.72 463.32,350.42 459.30,351.10 C455.28,351.78 450.08,352.37 445.50,352.90 C440.92,353.43 435.28,353.95 431.80,354.30 C428.32,354.65 425.80,354.88 424.60,355.00" fill="none" stroke="#52a868" stroke-width="0.8"/>
<path d="M424.60,352.50 C425.80,353.07 429.23,354.87 431.80,355.90 C434.37,356.93 437.90,357.83 440.00,358.70 C442.10,359.57 444.40,360.18 444.40,361.10 C444.40,362.02 442.10,363.00 440.00,364.20 C437.90,365.40 433.98,366.70 431.80,368.30 C429.62,369.90 428.10,371.50 426.90,373.80 C425.70,376.10 424.98,380.72 424.60,382.10 L424.60,382.10 L424.60,352.50Z" fill="#bcbd98" fill-opacity="0.9"/>
<path d="M424.60,352.50 C425.80,353.07 429.23,354.87 431.80,355.90 C434.37,356.93 437.90,357.83 440.00,358.70 C442.10,359.57 444.40,360.18 444.40,361.10 C444.40,362.02 442.10,363.00 440.00,364.20 C437.90,365.40 433.98,366.70 431.80,368.30 C429.62,369.90 428.10,371.50 426.90,373.80 C425.70,376.10 424.98,380.72 424.60,382.10" fill="none" stroke="#c0985a" stroke-width="0.6"/>
<path d="M424.60,352.50 C425.80,353.07 429.23,354.87 431.80,355.90 C434.37,356.93 437.90,357.83 440.00,358.70 C442.10,359.57 444.40,360.18 444.40,361.10 C444.40,362.02 442.10,363.00 440.00,364.20 C437.90,365.40 433.98,366.70 431.80,368.30 C429.62,369.90 428.10,371.50 426.90,373.80 C425.70,376.10 424.98,380.72 424.60,382.10" fill="none" stroke="#3f8a4a" stroke-width="0.7" stroke-opacity="0.9"/>
<line x1="309.80" y1="355.20" x2="472.40" y2="355.20" stroke="#f2706a" stroke-width="1.1" stroke-opacity="0.6"/>
<line x1="515.90" y1="239.80" x2="515.90" y2="288.20" stroke="#7a7a7a" stroke-width="0.8"/>
<line x1="512.60" y1="253.50" x2="515.90" y2="253.50" stroke="#7a7a7a" stroke-width="0.8"/>
<text x="509.50" y="256.49" font-size="8.3" text-anchor="end" fill="#383838" font-weight="normal">0.2</text>
<line x1="512.60" y1="270.90" x2="515.90" y2="270.90" stroke="#7a7a7a" stroke-width="0.8"/>
<text x="509.50" y="273.89" font-size="8.3" text-anchor="end" fill="#383838" font-weight="normal">0.1</text>
<line x1="512.60" y1="288.20" x2="515.90" y2="288.20" stroke="#7a7a7a" stroke-width="0.8"/>
<text x="509.50" y="291.19" font-size="8.3" text-anchor="end" fill="#383838" font-weight="normal">0</text>
<line x1="512.90" y1="244.70" x2="515.90" y2="244.70" stroke="#7a7a7a" stroke-width="0.7"/>
<line x1="512.90" y1="262.10" x2="515.90" y2="262.10" stroke="#7a7a7a" stroke-width="0.7"/>
<line x1="512.90" y1="279.70" x2="515.90" y2="279.70" stroke="#7a7a7a" stroke-width="0.7"/>
<path d="M524.00,288.20 C524.35,288.13 525.27,289.00 526.10,287.80 C526.93,286.60 527.98,283.82 529.00,281.00 C530.02,278.18 530.98,276.00 532.20,270.90 C533.42,265.80 535.00,255.17 536.30,250.40 C537.60,245.63 538.97,242.87 540.00,242.30 C541.03,241.73 541.58,244.97 542.50,247.00 C543.42,249.03 544.48,252.90 545.50,254.50 C546.52,256.10 546.73,254.72 548.60,256.60 C550.47,258.48 553.98,262.57 556.70,265.80 C559.42,269.03 561.83,272.93 564.90,276.00 C567.97,279.07 571.02,282.23 575.10,284.20 C579.18,286.17 585.92,287.13 589.40,287.80 C592.88,288.47 594.90,288.13 596.00,288.20 L596.00,288.20 L524.00,288.20Z" fill="#c3dfca" stroke="none"/>
<path d="M524.00,288.20 C524.35,288.13 525.27,289.00 526.10,287.80 C526.93,286.60 527.98,283.82 529.00,281.00 C530.02,278.18 530.98,276.00 532.20,270.90 C533.42,265.80 535.00,255.17 536.30,250.40 C537.60,245.63 538.97,242.87 540.00,242.30 C541.03,241.73 541.58,244.97 542.50,247.00 C543.42,249.03 544.48,252.90 545.50,254.50 C546.52,256.10 546.73,254.72 548.60,256.60 C550.47,258.48 553.98,262.57 556.70,265.80 C559.42,269.03 561.83,272.93 564.90,276.00 C567.97,279.07 571.02,282.23 575.10,284.20 C579.18,286.17 585.92,287.13 589.40,287.80 C592.88,288.47 594.90,288.13 596.00,288.20" fill="none" stroke="#52a868" stroke-width="0.8"/>
<path d="M524.00,288.20 C524.35,288.13 525.27,289.00 526.10,287.80 C526.93,286.60 527.98,283.82 529.00,281.00 C530.02,278.18 530.98,276.00 532.20,270.90 C533.42,265.80 535.00,255.17 536.30,250.40 C537.60,245.63 538.80,241.95 540.00,242.30 C541.20,242.65 542.42,247.05 543.50,252.50 C544.58,257.95 545.58,269.05 546.50,275.00 C547.42,280.95 548.58,286.00 549.00,288.20 L549.00,288.20 L524.00,288.20Z" fill="#bcbd98" fill-opacity="0.85" stroke="none"/>
<path d="M524.00,288.20 C524.35,288.13 525.27,289.00 526.10,287.80 C526.93,286.60 527.98,283.82 529.00,281.00 C530.02,278.18 530.98,276.00 532.20,270.90 C533.42,265.80 535.00,255.17 536.30,250.40 C537.60,245.63 538.80,241.95 540.00,242.30 C541.20,242.65 542.42,247.05 543.50,252.50 C544.58,257.95 545.58,269.05 546.50,275.00 C547.42,280.95 548.58,286.00 549.00,288.20" fill="none" stroke="#c0985a" stroke-width="0.7"/>
<path d="M524.00,288.20 C524.35,288.13 525.27,289.00 526.10,287.80 C526.93,286.60 527.98,283.82 529.00,281.00 C530.02,278.18 530.98,276.00 532.20,270.90 C533.42,265.80 535.00,255.17 536.30,250.40 C537.60,245.63 538.97,242.87 540.00,242.30 C541.03,241.73 541.58,244.97 542.50,247.00 C543.42,249.03 544.48,252.90 545.50,254.50 C546.52,256.10 546.73,254.72 548.60,256.60 C550.47,258.48 553.98,262.57 556.70,265.80 C559.42,269.03 561.83,272.93 564.90,276.00 C567.97,279.07 571.02,282.23 575.10,284.20 C579.18,286.17 585.92,287.13 589.40,287.80 C592.88,288.47 594.90,288.13 596.00,288.20" fill="none" stroke="#52a868" stroke-width="0.6" stroke-opacity="0.7"/>
<line x1="515.90" y1="288.20" x2="620.60" y2="288.20" stroke="#7a7a7a" stroke-width="0.8"/>
<line x1="530.60" y1="288.20" x2="530.60" y2="291.20" stroke="#7a7a7a" stroke-width="0.8"/>
<line x1="548.40" y1="288.20" x2="548.40" y2="291.20" stroke="#7a7a7a" stroke-width="0.8"/>
<line x1="566.20" y1="288.20" x2="566.20" y2="291.20" stroke="#7a7a7a" stroke-width="0.8"/>
<line x1="584.00" y1="288.20" x2="584.00" y2="291.20" stroke="#7a7a7a" stroke-width="0.8"/>
<line x1="601.80" y1="288.20" x2="601.80" y2="291.20" stroke="#7a7a7a" stroke-width="0.8"/>
<line x1="619.60" y1="288.20" x2="619.60" y2="291.20" stroke="#7a7a7a" stroke-width="0.8"/>
<line x1="548.50" y1="239.40" x2="548.50" y2="288.20" stroke="#f2706a" stroke-width="0.95" stroke-opacity="0.95"/>
<text x="492.20" y="267.20" font-size="8.9" text-anchor="middle" fill="#383838" font-weight="normal" transform="rotate(-90 492.20 264.00)">Score density</text>
<text x="621.40" y="251.43" font-size="8.7" text-anchor="middle" fill="#383838" font-weight="normal">UVPD chymotrypsin (PSMs)</text>
<line x1="515.80" y1="298.60" x2="515.80" y2="405.90" stroke="#7a7a7a" stroke-width="0.8"/>
<line x1="515.80" y1="405.90" x2="620.60" y2="405.90" stroke="#7a7a7a" stroke-width="0.8"/>
<line x1="512.50" y1="299.20" x2="515.80" y2="299.20" stroke="#7a7a7a" stroke-width="0.8"/>
<text x="508.80" y="302.15" font-size="8.2" text-anchor="end" fill="#383838" font-weight="normal">6</text>
<line x1="512.50" y1="317.00" x2="515.80" y2="317.00" stroke="#7a7a7a" stroke-width="0.8"/>
<text x="508.80" y="319.95" font-size="8.2" text-anchor="end" fill="#383838" font-weight="normal">4</text>
<line x1="512.50" y1="335.40" x2="515.80" y2="335.40" stroke="#7a7a7a" stroke-width="0.8"/>
<text x="508.80" y="338.35" font-size="8.2" text-anchor="end" fill="#383838" font-weight="normal">2</text>
<line x1="512.50" y1="353.80" x2="515.80" y2="353.80" stroke="#7a7a7a" stroke-width="0.8"/>
<text x="508.80" y="356.75" font-size="8.2" text-anchor="end" fill="#383838" font-weight="normal">0</text>
<line x1="512.50" y1="371.90" x2="515.80" y2="371.90" stroke="#7a7a7a" stroke-width="0.8"/>
<text x="508.80" y="374.85" font-size="8.2" text-anchor="end" fill="#383838" font-weight="normal">-2</text>
<line x1="512.50" y1="390.20" x2="515.80" y2="390.20" stroke="#7a7a7a" stroke-width="0.8"/>
<text x="508.80" y="393.15" font-size="8.2" text-anchor="end" fill="#383838" font-weight="normal">-4</text>
<line x1="530.40" y1="405.90" x2="530.40" y2="408.90" stroke="#7a7a7a" stroke-width="0.8"/>
<text x="529.20" y="418.25" font-size="8.2" text-anchor="middle" fill="#383838" font-weight="normal">-2</text>
<line x1="548.18" y1="405.90" x2="548.18" y2="408.90" stroke="#7a7a7a" stroke-width="0.8"/>
<text x="548.18" y="418.25" font-size="8.2" text-anchor="middle" fill="#383838" font-weight="normal">0</text>
<line x1="565.96" y1="405.90" x2="565.96" y2="408.90" stroke="#7a7a7a" stroke-width="0.8"/>
<text x="565.96" y="418.25" font-size="8.2" text-anchor="middle" fill="#383838" font-weight="normal">2</text>
<line x1="583.74" y1="405.90" x2="583.74" y2="408.90" stroke="#7a7a7a" stroke-width="0.8"/>
<text x="583.74" y="418.25" font-size="8.2" text-anchor="middle" fill="#383838" font-weight="normal">4</text>
<line x1="601.52" y1="405.90" x2="601.52" y2="408.90" stroke="#7a7a7a" stroke-width="0.8"/>
<text x="601.52" y="418.25" font-size="8.2" text-anchor="middle" fill="#383838" font-weight="normal">6</text>
<line x1="619.30" y1="405.90" x2="619.30" y2="408.90" stroke="#7a7a7a" stroke-width="0.8"/>
<text x="619.30" y="418.25" font-size="8.2" text-anchor="middle" fill="#383838" font-weight="normal">8</text>
<text x="568.40" y="432.50" font-size="8.9" text-anchor="middle" fill="#383838" font-weight="normal">Score</text>
<text x="567.20" y="442.70" font-size="8.9" text-anchor="middle" fill="#383838" font-weight="normal">(FragPipe-Percolator)</text>
<text x="481.20" y="355.50" font-size="8.9" text-anchor="middle" fill="#383838" font-weight="normal" transform="rotate(-90 481.20 352.30)">Score</text>
<text x="491.20" y="355.50" font-size="8.9" text-anchor="middle" fill="#383838" font-weight="normal" transform="rotate(-90 491.20 352.30)">(Oktoberfest-Percolator)</text>
<path d="M536.2,351.9 L536.7,351.4 L535.8,351.4 L537.0,351.4 L536.5,351.1 L536.8,351.0 L537.3,351.0 L537.7,351.0 L537.2,349.9 L537.8,349.8 L538.1,349.4 L538.2,348.8 L538.6,348.4 L539.7,348.5 L539.5,347.5 L539.5,346.8 L539.9,346.3 L541.5,346.4 L541.8,345.6 L542.3,344.9 L542.8,344.2 L543.1,343.3 L543.0,342.2 L543.9,341.6 L544.1,340.7 L544.7,340.0 L544.6,338.9 L546.1,339.0 L546.5,338.3 L546.0,337.1 L547.2,337.3 L547.6,336.9 L546.8,335.7 L547.0,335.5 L547.9,335.7 L547.1,334.8 L547.9,335.1 L548.6,335.6 L548.1,334.7 L548.3,334.7 L548.3,334.4 L548.8,334.8 L548.9,334.4 L549.6,335.1 L549.9,334.9 L550.0,333.5 L550.5,333.4 L551.4,334.3 L552.0,334.2 L552.7,333.9 L553.4,333.6 L554.2,333.4 L555.0,333.7 L555.7,332.8 L556.7,333.3 L557.4,331.9 L558.2,331.7 L559.3,332.4 L560.1,331.8 L561.1,332.2 L561.6,330.6 L562.4,330.4 L563.5,330.9 L564.6,331.3 L565.1,330.0 L566.4,330.6 L567.2,330.3 L568.1,329.8 L568.5,328.3 L569.8,329.1 L570.2,327.6 L571.2,327.4 L572.1,327.3 L573.0,326.9 L574.1,327.2 L574.8,326.5 L575.9,327.1 L576.8,326.9 L577.4,325.4 L578.3,325.3 L579.5,325.8 L580.3,325.0 L581.3,325.1 L582.0,324.3 L583.2,324.9 L583.8,323.7 L584.9,324.3 L585.7,323.9 L586.2,322.9 L587.1,323.1 L587.9,322.9 L588.6,322.9 L589.5,323.1 L589.8,322.0 L590.1,321.0 L591.1,321.5 L591.6,321.1 L592.2,321.1 L592.6,320.7 L592.9,320.0 L593.4,320.1 L593.8,319.7 L594.2,319.7 L594.6,319.9 L594.8,320.5 L595.4,319.6 L595.4,320.4 L595.7,320.6 L596.6,320.1 L596.3,321.1 L597.2,321.0 L597.1,321.7 L597.9,321.9 L597.3,322.8 L597.3,323.4 L597.8,323.8 L597.5,324.4 L598.3,324.7 L599.2,325.0 L598.2,325.6 L599.1,326.0 L598.3,326.4 L598.8,326.9 L598.6,327.4 L598.9,327.9 L598.4,328.3 L597.6,328.6 L597.1,329.0 L597.6,329.8 L597.7,330.5 L596.7,330.5 L596.7,331.2 L596.0,331.5 L596.3,332.6 L595.5,332.9 L595.0,333.4 L594.2,333.6 L593.6,334.2 L592.5,334.1 L592.0,335.1 L591.1,335.4 L590.9,337.0 L589.6,337.0 L588.8,337.7 L588.0,338.5 L586.4,337.8 L585.4,338.4 L584.8,339.4 L583.9,340.1 L583.3,341.1 L581.7,340.3 L581.1,341.3 L580.2,341.6 L579.2,341.8 L578.9,343.4 L577.6,342.9 L576.8,343.4 L576.2,344.4 L575.4,345.0 L574.4,345.2 L573.6,345.7 L572.3,345.2 L571.4,345.7 L571.1,347.2 L570.1,347.3 L569.3,347.8 L567.9,347.3 L567.5,348.7 L566.4,348.9 L565.2,348.7 L564.4,349.4 L563.4,349.9 L562.4,350.1 L561.6,351.0 L560.5,351.1 L559.9,352.1 L559.0,352.4 L557.9,352.3 L557.6,353.6 L556.8,353.7 L556.3,354.5 L555.3,354.3 L555.4,355.5 L554.5,355.5 L553.5,355.5 L553.5,356.3 L552.7,356.4 L552.6,357.0 L552.1,357.3 L552.8,358.3 L552.4,358.5 L551.3,358.0 L551.7,358.8 L551.8,359.4 L551.5,359.6 L551.0,358.3 L550.8,359.9 L550.8,358.4 L550.5,358.5 L550.3,358.4 L549.9,358.3 L549.6,358.0 L548.7,358.5 L549.0,357.3 L548.7,356.9 L547.3,357.6 L547.9,356.0 L546.4,356.9 L546.7,355.5 L545.9,355.7 L545.2,355.6 L544.5,355.6 L544.4,354.1 L543.6,354.1 L543.0,353.5 L542.2,353.3 L541.4,353.4 L540.3,354.1 L539.6,353.8 L539.2,352.8 L538.6,352.4 L537.9,352.4 L537.5,352.0 L537.2,351.7 L536.7,351.9Z" fill="#1a873b"/>
<path d="M535.8 352.5h0.9v0.9h-0.9zM569.7 327.9h0.9v0.9h-0.9zM546.5 333.1h1.3v1.3h-1.3zM539.7 355.8h1.3v1.3h-1.3zM595.5 334.9h1.3v1.3h-1.3zM574.5 345.6h1.3v1.3h-1.3zM586.1 323.3h0.9v0.9h-0.9zM589.8 318.5h1.3v1.3h-1.3zM598.4 324.5h0.9v0.9h-0.9zM550.0 333.7h0.9v0.9h-0.9zM553.9 331.9h0.9v0.9h-0.9zM574.1 346.8h0.9v0.9h-0.9zM549.6 358.5h0.9v0.9h-0.9zM588.2 319.6h0.9v0.9h-0.9zM542.1 339.0h1.3v1.3h-1.3zM553.0 355.2h0.9v0.9h-0.9zM562.3 350.8h1.3v1.3h-1.3zM600.7 327.8h0.9v0.9h-0.9zM548.4 335.2h0.9v0.9h-0.9zM585.0 338.2h0.9v0.9h-0.9zM574.8 345.6h1.3v1.3h-1.3zM546.6 337.1h0.9v0.9h-0.9zM538.7 353.1h0.9v0.9h-0.9zM538.0 352.6h0.9v0.9h-0.9zM597.1 322.9h0.9v0.9h-0.9zM597.7 322.3h0.9v0.9h-0.9zM535.4 346.9h1.3v1.3h-1.3zM557.0 354.4h0.9v0.9h-0.9zM591.5 335.6h0.9v0.9h-0.9zM555.6 360.3h0.9v0.9h-0.9zM538.0 349.3h0.9v0.9h-0.9zM554.1 354.9h1.3v1.3h-1.3zM560.9 326.6h0.9v0.9h-0.9zM559.8 354.7h0.9v0.9h-0.9zM553.0 359.4h0.9v0.9h-0.9zM541.2 354.7h0.9v0.9h-0.9zM592.4 320.4h0.9v0.9h-0.9zM598.7 330.0h0.9v0.9h-0.9zM570.3 326.5h0.9v0.9h-0.9zM536.9 354.9h1.3v1.3h-1.3zM569.1 327.6h0.9v0.9h-0.9zM538.8 347.4h0.9v0.9h-0.9zM584.9 340.0h0.9v0.9h-0.9zM552.6 357.6h1.3v1.3h-1.3zM554.3 333.0h0.9v0.9h-0.9zM551.5 359.6h0.9v0.9h-0.9zM586.6 341.8h0.9v0.9h-0.9zM543.4 342.7h0.9v0.9h-0.9zM599.4 325.5h0.9v0.9h-0.9zM546.7 339.7h1.3v1.3h-1.3zM556.1 331.1h0.9v0.9h-0.9zM553.8 356.8h0.9v0.9h-0.9zM565.4 351.6h1.3v1.3h-1.3zM553.6 359.1h1.3v1.3h-1.3zM568.1 329.3h0.9v0.9h-0.9zM575.5 326.0h0.9v0.9h-0.9zM587.3 338.1h0.9v0.9h-0.9zM579.2 343.6h1.3v1.3h-1.3zM599.1 327.6h0.9v0.9h-0.9zM549.9 360.4h0.9v0.9h-0.9zM595.2 334.8h0.9v0.9h-0.9zM585.6 338.4h0.9v0.9h-0.9zM552.5 334.5h0.9v0.9h-0.9zM548.2 332.2h0.9v0.9h-0.9zM537.5 351.4h1.3v1.3h-1.3zM560.0 353.2h1.3v1.3h-1.3zM548.4 358.7h0.9v0.9h-0.9zM593.3 335.8h0.9v0.9h-0.9zM545.3 356.9h0.9v0.9h-0.9zM578.9 323.4h1.3v1.3h-1.3zM552.3 358.4h0.9v0.9h-0.9zM559.3 331.8h0.9v0.9h-0.9zM601.0 324.9h0.9v0.9h-0.9zM540.4 355.7h0.9v0.9h-0.9zM601.4 329.1h0.9v0.9h-0.9zM582.0 323.5h0.9v0.9h-0.9zM581.3 323.6h0.9v0.9h-0.9zM577.6 322.5h0.9v0.9h-0.9zM550.7 359.6h0.9v0.9h-0.9zM547.0 356.2h0.9v0.9h-0.9zM560.4 331.4h0.9v0.9h-0.9zM588.2 320.7h0.9v0.9h-0.9zM591.0 336.0h0.9v0.9h-0.9zM570.5 326.0h0.9v0.9h-0.9zM580.9 321.6h1.3v1.3h-1.3zM553.4 334.0h1.3v1.3h-1.3zM591.5 320.5h0.9v0.9h-0.9zM558.2 353.7h0.9v0.9h-0.9zM591.0 336.3h1.3v1.3h-1.3zM586.1 321.7h0.9v0.9h-0.9zM542.8 339.4h0.9v0.9h-0.9zM586.8 321.0h0.9v0.9h-0.9zM548.0 334.5h0.9v0.9h-0.9zM583.2 321.3h0.9v0.9h-0.9zM589.7 320.3h0.9v0.9h-0.9zM576.8 345.5h0.9v0.9h-0.9zM577.1 322.9h0.9v0.9h-0.9zM539.8 352.8h0.9v0.9h-0.9zM582.0 343.2h0.9v0.9h-0.9zM543.2 340.8h1.3v1.3h-1.3zM552.8 361.7h0.9v0.9h-0.9zM538.3 345.0h0.9v0.9h-0.9zM549.7 334.9h1.3v1.3h-1.3zM575.5 344.8h1.3v1.3h-1.3zM597.4 331.0h0.9v0.9h-0.9zM572.1 328.0h0.9v0.9h-0.9zM592.1 319.3h1.3v1.3h-1.3zM595.8 333.0h0.9v0.9h-0.9zM586.0 323.9h0.9v0.9h-0.9zM587.7 320.5h0.9v0.9h-0.9zM543.9 338.1h0.9v0.9h-0.9zM578.4 323.3h0.9v0.9h-0.9zM580.1 324.2h0.9v0.9h-0.9zM536.3 346.7h0.9v0.9h-0.9zM598.2 328.5h0.9v0.9h-0.9zM537.1 348.0h1.3v1.3h-1.3zM553.6 357.3h1.3v1.3h-1.3zM560.5 355.1h0.9v0.9h-0.9zM549.4 334.2h0.9v0.9h-0.9zM581.4 342.1h1.3v1.3h-1.3zM587.8 338.3h0.9v0.9h-0.9zM596.8 319.7h0.9v0.9h-0.9zM539.5 355.0h0.9v0.9h-0.9zM544.1 339.1h1.3v1.3h-1.3zM564.7 351.8h0.9v0.9h-0.9zM597.2 332.5h0.9v0.9h-0.9zM553.5 355.8h1.3v1.3h-1.3zM552.0 359.9h0.9v0.9h-0.9zM552.0 333.2h0.9v0.9h-0.9zM562.3 352.8h0.9v0.9h-0.9zM578.8 326.3h0.9v0.9h-0.9zM568.2 328.2h0.9v0.9h-0.9zM546.4 337.3h1.3v1.3h-1.3zM571.0 327.8h1.3v1.3h-1.3zM594.9 337.4h1.3v1.3h-1.3zM593.1 319.3h1.3v1.3h-1.3zM598.3 334.3h1.3v1.3h-1.3zM539.6 352.8h0.9v0.9h-0.9zM595.2 319.6h0.9v0.9h-0.9zM557.4 333.6h1.3v1.3h-1.3zM600.1 328.7h0.9v0.9h-0.9zM549.2 334.6h0.9v0.9h-0.9zM596.2 317.9h0.9v0.9h-0.9zM552.1 356.2h0.9v0.9h-0.9zM553.7 356.4h0.9v0.9h-0.9zM581.0 342.8h0.9v0.9h-0.9zM549.9 358.5h0.9v0.9h-0.9zM599.7 322.7h0.9v0.9h-0.9zM544.3 356.0h0.9v0.9h-0.9zM592.7 336.3h0.9v0.9h-0.9zM579.8 324.5h0.9v0.9h-0.9zM556.2 330.3h0.9v0.9h-0.9zM537.0 348.0h1.3v1.3h-1.3zM579.6 346.4h0.9v0.9h-0.9zM543.8 338.4h0.9v0.9h-0.9zM590.8 339.5h1.3v1.3h-1.3zM548.5 335.4h1.3v1.3h-1.3zM597.5 320.8h1.3v1.3h-1.3zM596.0 331.7h0.9v0.9h-0.9zM536.0 351.3h0.9v0.9h-0.9zM541.3 346.3h1.3v1.3h-1.3zM538.1 348.4h0.9v0.9h-0.9zM555.7 354.8h0.9v0.9h-0.9zM581.2 340.6h0.9v0.9h-0.9zM537.1 350.8h0.9v0.9h-0.9zM559.3 354.3h0.9v0.9h-0.9zM548.6 334.7h1.3v1.3h-1.3zM538.4 347.7h1.3v1.3h-1.3zM593.7 334.0h0.9v0.9h-0.9zM592.9 339.7h0.9v0.9h-0.9zM541.3 346.2h0.9v0.9h-0.9zM563.6 329.2h0.9v0.9h-0.9zM569.5 327.4h1.3v1.3h-1.3zM566.1 349.0h0.9v0.9h-0.9zM546.5 334.2h0.9v0.9h-0.9zM548.7 335.6h1.3v1.3h-1.3zM592.5 317.8h0.9v0.9h-0.9zM598.9 326.1h0.9v0.9h-0.9zM585.6 340.8h1.3v1.3h-1.3zM563.0 328.0h1.3v1.3h-1.3zM544.4 334.2h1.3v1.3h-1.3zM548.9 358.5h1.3v1.3h-1.3zM565.0 329.2h0.9v0.9h-0.9zM583.5 320.1h1.3v1.3h-1.3zM569.2 328.9h0.9v0.9h-0.9zM535.6 350.7h1.3v1.3h-1.3zM535.8 352.1h1.3v1.3h-1.3zM539.5 354.5h1.3v1.3h-1.3zM594.4 318.3h1.3v1.3h-1.3zM565.3 349.2h0.9v0.9h-0.9zM545.4 339.5h0.9v0.9h-0.9zM536.8 351.2h0.9v0.9h-0.9zM600.2 320.2h0.9v0.9h-0.9zM593.6 318.5h1.3v1.3h-1.3zM566.2 330.7h0.9v0.9h-0.9zM552.9 358.5h0.9v0.9h-0.9zM584.4 321.0h0.9v0.9h-0.9zM596.1 319.1h0.9v0.9h-0.9zM546.1 334.7h0.9v0.9h-0.9zM586.2 337.5h0.9v0.9h-0.9zM593.7 319.4h0.9v0.9h-0.9zM537.6 345.7h1.3v1.3h-1.3zM586.6 323.1h0.9v0.9h-0.9zM565.9 330.3h0.9v0.9h-0.9zM554.4 332.3h0.9v0.9h-0.9zM554.5 355.8h0.9v0.9h-0.9zM550.1 335.8h0.9v0.9h-0.9zM579.5 342.8h0.9v0.9h-0.9zM537.9 347.3h0.9v0.9h-0.9zM540.5 339.5h0.9v0.9h-0.9zM564.9 349.6h1.3v1.3h-1.3zM578.9 342.7h0.9v0.9h-0.9zM537.1 348.9h1.3v1.3h-1.3zM573.3 327.2h1.3v1.3h-1.3zM569.3 349.6h0.9v0.9h-0.9zM553.2 331.7h0.9v0.9h-0.9zM538.8 355.0h0.9v0.9h-0.9zM590.7 336.0h1.3v1.3h-1.3zM564.2 328.2h0.9v0.9h-0.9zM578.5 324.4h0.9v0.9h-0.9zM597.7 320.4h1.3v1.3h-1.3zM582.6 323.0h0.9v0.9h-0.9zM549.9 335.7h0.9v0.9h-0.9zM565.4 328.4h0.9v0.9h-0.9zM559.4 331.5h0.9v0.9h-0.9zM598.8 326.0h0.9v0.9h-0.9zM559.0 354.7h0.9v0.9h-0.9zM572.0 327.2h1.3v1.3h-1.3zM596.4 319.6h1.3v1.3h-1.3zM557.4 353.6h0.9v0.9h-0.9zM537.1 349.6h0.9v0.9h-0.9zM534.0 352.8h0.9v0.9h-0.9zM537.1 348.9h0.9v0.9h-0.9zM539.2 353.9h0.9v0.9h-0.9zM567.8 327.9h0.9v0.9h-0.9zM552.2 356.5h0.9v0.9h-0.9zM586.0 339.9h1.3v1.3h-1.3zM558.9 331.6h1.3v1.3h-1.3zM552.2 332.4h0.9v0.9h-0.9zM541.3 345.5h1.3v1.3h-1.3zM547.4 355.4h0.9v0.9h-0.9zM546.8 334.3h0.9v0.9h-0.9zM560.5 351.7h0.9v0.9h-0.9zM593.1 320.6h0.9v0.9h-0.9zM540.4 345.0h0.9v0.9h-0.9zM592.5 336.5h0.9v0.9h-0.9zM551.3 360.0h0.9v0.9h-0.9zM547.9 335.4h0.9v0.9h-0.9zM543.8 342.1h0.9v0.9h-0.9zM533.8 350.6h0.9v0.9h-0.9zM591.4 334.4h0.9v0.9h-0.9zM596.7 321.0h0.9v0.9h-0.9zM544.7 356.5h1.3v1.3h-1.3zM582.4 322.4h0.9v0.9h-0.9zM596.0 320.4h0.9v0.9h-0.9zM599.5 326.8h1.3v1.3h-1.3zM580.5 323.8h0.9v0.9h-0.9zM544.1 335.3h0.9v0.9h-0.9zM593.3 320.8h1.3v1.3h-1.3zM589.4 340.7h0.9v0.9h-0.9zM595.6 321.2h0.9v0.9h-0.9zM539.4 353.3h1.3v1.3h-1.3zM594.0 317.8h0.9v0.9h-0.9zM539.8 354.4h0.9v0.9h-0.9zM545.7 355.6h1.3v1.3h-1.3zM536.4 354.0h0.9v0.9h-0.9zM599.7 327.8h0.9v0.9h-0.9zM541.3 355.0h1.3v1.3h-1.3zM572.4 345.9h0.9v0.9h-0.9zM595.8 318.6h0.9v0.9h-0.9zM536.3 350.9h0.9v0.9h-0.9zM584.7 323.5h0.9v0.9h-0.9zM599.0 326.8h0.9v0.9h-0.9zM593.5 334.4h0.9v0.9h-0.9zM567.3 348.3h0.9v0.9h-0.9zM548.8 334.5h0.9v0.9h-0.9zM550.8 334.5h0.9v0.9h-0.9zM559.0 352.7h1.3v1.3h-1.3zM557.5 353.5h0.9v0.9h-0.9zM583.5 339.4h1.3v1.3h-1.3zM549.9 334.7h1.3v1.3h-1.3zM591.5 320.8h1.3v1.3h-1.3zM535.5 351.3h0.9v0.9h-0.9zM589.1 337.3h0.9v0.9h-0.9zM547.2 358.8h0.9v0.9h-0.9zM597.2 317.1h0.9v0.9h-0.9zM586.4 321.3h0.9v0.9h-0.9zM541.9 356.4h0.9v0.9h-0.9zM584.6 338.6h0.9v0.9h-0.9zM594.4 333.2h0.9v0.9h-0.9zM562.0 328.1h1.3v1.3h-1.3zM592.1 321.1h1.3v1.3h-1.3zM552.6 359.2h0.9v0.9h-0.9zM540.7 340.5h1.3v1.3h-1.3zM553.1 332.0h0.9v0.9h-0.9zM581.4 341.5h0.9v0.9h-0.9zM552.8 359.1h1.3v1.3h-1.3zM574.1 345.8h0.9v0.9h-0.9zM600.3 326.5h0.9v0.9h-0.9zM596.1 318.7h0.9v0.9h-0.9z" fill="#1a873b"/>
<path d="M525.0,357.5 L525.2,357.2 L525.5,357.0 L525.5,356.6 L525.8,356.4 L526.1,356.2 L526.1,355.8 L526.4,355.6 L526.9,355.5 L527.2,355.3 L527.4,355.0 L527.7,354.8 L528.0,354.6 L528.2,354.2 L528.6,354.1 L528.8,353.7 L529.3,353.6 L529.7,353.5 L530.0,353.2 L530.3,352.9 L530.8,352.8 L531.1,352.5 L531.6,352.5 L531.9,352.0 L532.5,352.1 L532.9,351.9 L533.4,351.7 L533.9,351.6 L534.4,351.4 L534.8,351.0 L535.4,351.1 L535.8,350.7 L536.4,350.7 L536.9,350.6 L537.4,350.3 L538.0,350.4 L538.4,350.0 L539.0,350.2 L539.5,349.7 L540.0,349.6 L540.6,349.6 L541.2,349.6 L541.8,349.4 L542.4,349.1 L543.1,349.0 L543.7,348.9 L544.3,348.8 L545.0,348.8 L545.6,348.5 L546.2,348.6 L546.8,348.5 L547.4,348.5 L548.0,348.5 L548.5,348.5 L549.0,348.3 L549.5,348.2 L549.9,348.3 L550.3,348.2 L550.6,348.5 L551.0,348.4 L551.2,348.6 L551.4,348.8 L551.7,348.9 L551.8,349.1 L552.0,349.2 L552.3,349.2 L552.4,349.5 L552.4,349.7 L552.8,349.8 L552.8,350.1 L552.9,350.3 L552.8,350.6 L553.1,350.8 L553.0,351.2 L553.2,351.4 L553.1,351.8 L553.3,352.1 L553.1,352.5 L553.1,352.9 L553.4,353.2 L553.5,353.7 L553.3,354.1 L553.5,354.6 L553.1,355.0 L553.2,355.5 L553.2,356.0 L553.1,356.5 L553.1,357.0 L553.2,357.6 L552.8,358.1 L553.0,358.6 L552.8,359.2 L552.6,359.7 L552.8,360.3 L552.7,360.8 L552.6,361.3 L552.5,361.8 L552.4,362.4 L552.1,362.9 L552.3,363.5 L552.0,364.1 L552.0,364.7 L551.9,365.3 L551.7,365.8 L551.7,366.4 L551.6,367.0 L551.5,367.6 L551.4,368.2 L551.3,368.8 L551.1,369.4 L551.0,369.9 L550.8,370.5 L550.5,370.9 L550.5,371.5 L550.4,372.0 L550.1,372.5 L549.8,372.9 L549.7,373.4 L549.7,373.9 L549.6,374.4 L549.4,374.8 L549.1,375.2 L548.8,375.6 L548.9,376.1 L548.6,376.5 L548.3,376.8 L548.3,377.3 L547.9,377.6 L547.6,377.9 L547.5,378.3 L547.3,378.8 L546.8,378.9 L546.7,379.4 L546.4,379.7 L546.0,379.9 L545.7,380.3 L545.3,380.5 L544.8,380.6 L544.4,381.0 L544.0,381.3 L543.5,381.4 L543.2,381.9 L542.8,382.1 L542.2,382.1 L541.7,382.4 L541.2,382.4 L540.8,382.9 L540.3,383.0 L539.9,383.2 L539.4,383.3 L538.9,383.3 L538.4,383.1 L538.0,383.3 L537.5,383.4 L537.1,383.4 L536.6,383.4 L536.2,383.5 L535.7,383.6 L535.2,383.4 L534.8,383.4 L534.3,383.6 L533.8,383.4 L533.4,383.1 L532.9,383.0 L532.5,383.0 L532.0,383.0 L531.5,382.9 L531.1,382.8 L530.8,382.5 L530.5,382.1 L529.9,382.3 L529.7,381.8 L529.2,381.8 L529.0,381.4 L528.6,381.3 L528.3,381.0 L528.2,380.5 L527.7,380.4 L527.5,380.0 L527.4,379.6 L526.9,379.3 L526.8,378.9 L526.6,378.5 L526.5,378.0 L526.2,377.7 L525.8,377.3 L525.9,376.8 L525.6,376.4 L525.3,376.0 L525.3,375.5 L525.1,375.1 L524.9,374.6 L524.7,374.1 L524.7,373.6 L524.7,373.0 L524.5,372.5 L524.7,371.8 L524.6,371.3 L524.6,370.6 L524.4,370.0 L524.2,369.4 L524.2,368.8 L524.2,368.2 L524.1,367.6 L524.2,367.0 L524.2,366.5 L524.3,365.9 L524.2,365.4 L524.5,364.9 L524.4,364.4 L524.5,363.9 L524.4,363.5 L524.2,363.1 L524.3,362.7 L524.1,362.3 L524.1,361.9 L524.3,361.5 L524.5,361.1 L524.3,360.8 L524.3,360.4 L524.2,360.0 L524.5,359.7 L524.6,359.4 L524.6,359.1 L524.7,358.8 L524.8,358.5 L524.9,358.2 L525.1,357.9Z" fill="#1a873b"/>
<path d="M525.3 375.5h0.9v0.9h-0.9zM552.9 357.6h0.9v0.9h-0.9zM539.0 383.6h0.9v0.9h-0.9zM524.6 359.9h0.9v0.9h-0.9zM531.2 383.1h1.3v1.3h-1.3zM527.8 354.3h0.9v0.9h-0.9zM550.7 372.9h0.9v0.9h-0.9zM549.9 377.1h0.9v0.9h-0.9zM547.9 377.0h0.9v0.9h-0.9zM552.3 365.3h1.3v1.3h-1.3zM526.7 379.6h0.9v0.9h-0.9zM528.4 354.4h1.3v1.3h-1.3zM550.8 370.7h0.9v0.9h-0.9zM524.1 358.2h0.9v0.9h-0.9zM552.8 350.2h0.9v0.9h-0.9zM540.6 348.8h1.3v1.3h-1.3zM529.2 350.5h0.9v0.9h-0.9zM526.9 381.6h0.9v0.9h-0.9zM550.5 372.5h1.3v1.3h-1.3zM525.0 357.0h0.9v0.9h-0.9zM524.6 364.4h0.9v0.9h-0.9zM534.5 352.3h0.9v0.9h-0.9zM544.0 382.0h1.3v1.3h-1.3zM526.6 354.2h0.9v0.9h-0.9zM550.6 371.8h0.9v0.9h-0.9zM525.2 356.0h0.9v0.9h-0.9zM545.4 347.7h0.9v0.9h-0.9zM528.4 381.4h0.9v0.9h-0.9zM552.3 352.5h0.9v0.9h-0.9zM551.9 362.2h0.9v0.9h-0.9zM534.7 383.3h0.9v0.9h-0.9zM553.2 365.8h1.3v1.3h-1.3zM552.5 349.5h0.9v0.9h-0.9zM524.7 373.1h0.9v0.9h-0.9zM550.2 372.8h0.9v0.9h-0.9zM545.5 348.1h0.9v0.9h-0.9zM552.2 367.5h1.3v1.3h-1.3zM539.1 382.7h1.3v1.3h-1.3zM553.1 360.8h0.9v0.9h-0.9zM553.3 353.9h0.9v0.9h-0.9zM551.1 369.8h0.9v0.9h-0.9zM549.6 374.7h0.9v0.9h-0.9zM533.2 384.7h0.9v0.9h-0.9zM550.0 375.2h0.9v0.9h-0.9zM524.4 371.8h0.9v0.9h-0.9zM529.7 382.2h0.9v0.9h-0.9zM524.7 375.3h0.9v0.9h-0.9zM543.0 347.6h0.9v0.9h-0.9zM537.2 350.0h1.3v1.3h-1.3zM529.3 381.7h0.9v0.9h-0.9zM523.2 369.6h0.9v0.9h-0.9zM552.9 361.5h1.3v1.3h-1.3zM526.2 353.4h0.9v0.9h-0.9zM551.9 361.9h0.9v0.9h-0.9zM547.4 348.1h0.9v0.9h-0.9zM522.0 366.2h1.3v1.3h-1.3zM523.9 363.4h0.9v0.9h-0.9zM524.9 356.1h0.9v0.9h-0.9zM540.1 383.6h1.3v1.3h-1.3zM553.9 361.7h1.3v1.3h-1.3zM548.7 376.8h0.9v0.9h-0.9zM535.9 382.8h0.9v0.9h-0.9zM542.1 382.3h1.3v1.3h-1.3zM537.5 385.4h0.9v0.9h-0.9zM523.8 367.9h0.9v0.9h-0.9zM550.9 348.3h0.9v0.9h-0.9zM539.2 384.3h1.3v1.3h-1.3zM532.0 350.7h0.9v0.9h-0.9zM547.0 378.3h0.9v0.9h-0.9zM553.7 355.0h0.9v0.9h-0.9zM553.2 353.0h1.3v1.3h-1.3zM542.7 382.9h0.9v0.9h-0.9zM524.6 371.4h0.9v0.9h-0.9zM532.2 352.1h0.9v0.9h-0.9zM524.7 371.7h0.9v0.9h-0.9zM553.1 356.3h1.3v1.3h-1.3zM530.1 354.2h0.9v0.9h-0.9zM546.0 346.4h0.9v0.9h-0.9zM545.5 381.9h0.9v0.9h-0.9zM553.4 353.3h0.9v0.9h-0.9zM551.2 376.0h0.9v0.9h-0.9zM547.3 379.9h0.9v0.9h-0.9zM548.4 380.6h0.9v0.9h-0.9zM552.5 351.3h0.9v0.9h-0.9zM538.2 382.7h0.9v0.9h-0.9zM535.2 350.4h0.9v0.9h-0.9zM539.9 384.5h0.9v0.9h-0.9zM555.6 352.0h1.3v1.3h-1.3zM551.1 366.2h1.3v1.3h-1.3zM553.5 355.1h1.3v1.3h-1.3zM544.0 382.6h0.9v0.9h-0.9zM524.7 358.5h0.9v0.9h-0.9zM536.8 348.7h1.3v1.3h-1.3zM539.1 350.1h1.3v1.3h-1.3zM549.1 378.5h1.3v1.3h-1.3zM536.8 351.1h0.9v0.9h-0.9zM546.7 345.9h0.9v0.9h-0.9zM553.4 353.0h0.9v0.9h-0.9zM538.2 346.9h0.9v0.9h-0.9zM523.3 364.2h0.9v0.9h-0.9zM551.4 367.7h0.9v0.9h-0.9zM554.2 357.4h1.3v1.3h-1.3zM552.3 348.9h1.3v1.3h-1.3zM527.8 353.2h1.3v1.3h-1.3zM524.1 372.1h1.3v1.3h-1.3zM543.4 347.9h0.9v0.9h-0.9zM532.5 349.2h1.3v1.3h-1.3zM537.6 383.1h1.3v1.3h-1.3zM540.9 349.1h1.3v1.3h-1.3zM548.8 345.5h0.9v0.9h-0.9zM536.5 350.6h0.9v0.9h-0.9zM541.9 349.0h0.9v0.9h-0.9zM542.0 384.0h0.9v0.9h-0.9zM554.0 354.3h1.3v1.3h-1.3zM529.2 381.3h1.3v1.3h-1.3zM524.0 365.5h0.9v0.9h-0.9zM539.0 383.4h0.9v0.9h-0.9zM548.7 378.4h0.9v0.9h-0.9zM552.5 356.5h0.9v0.9h-0.9zM552.5 350.5h1.3v1.3h-1.3z" fill="#1a873b"/>
<path d="M525.7,357.9 L525.1,357.2 L526.2,357.5 L526.1,357.0 L525.7,356.3 L526.2,356.3 L526.6,356.2 L527.0,356.1 L527.3,355.9 L527.6,355.8 L527.3,354.9 L527.6,354.7 L528.0,354.6 L528.7,354.9 L529.0,354.6 L529.1,354.1 L529.4,353.9 L529.7,353.5 L529.9,353.1 L530.3,353.0 L530.9,353.2 L531.5,353.4 L531.5,352.3 L532.3,353.0 L532.7,352.6 L533.0,352.0 L533.5,352.1 L534.1,352.3 L534.3,351.2 L535.0,351.7 L535.3,351.0 L536.0,351.2 L536.5,351.0 L537.1,351.2 L537.6,351.0 L538.1,351.0 L538.7,350.9 L539.1,350.3 L539.5,349.7 L540.2,350.2 L540.8,350.4 L541.2,349.5 L541.8,349.4 L542.6,349.9 L543.0,349.0 L543.7,349.1 L544.5,349.6 L545.1,349.5 L545.6,348.6 L546.4,349.4 L546.9,349.4 L547.5,349.3 L548.0,348.7 L548.5,348.7 L549.0,348.2 L549.5,349.2 L549.9,348.2 L550.3,348.3 L550.5,349.1 L550.8,349.1 L551.1,349.0 L551.2,349.4 L551.6,349.0 L552.0,348.9 L552.0,349.2 L551.8,349.7 L552.1,349.7 L552.0,350.0 L552.4,350.0 L551.9,350.5 L552.3,350.5 L552.1,350.8 L552.9,350.9 L552.6,351.3 L553.2,351.5 L552.5,351.9 L552.3,352.3 L552.8,352.5 L552.5,352.9 L552.6,353.3 L553.0,353.7 L552.5,354.1 L553.5,354.6 L553.3,355.0 L553.1,355.5 L553.1,356.0 L552.4,356.4 L553.1,357.0 L552.5,357.5 L552.2,358.0 L552.1,358.5 L552.2,359.1 L552.7,359.7 L552.0,360.1 L551.7,360.6 L552.1,361.2 L552.3,361.8 L552.1,362.3 L552.0,362.9 L551.5,363.4 L552.1,364.1 L551.6,364.6 L551.8,365.2 L551.7,365.8 L551.1,366.3 L550.9,366.9 L550.7,367.5 L551.2,368.2 L550.3,368.6 L550.7,369.3 L550.3,369.8 L550.7,370.4 L550.1,370.8 L550.5,371.5 L549.7,371.8 L550.1,372.5 L549.8,372.9 L549.3,373.3 L549.5,373.8 L549.5,374.4 L548.8,374.6 L549.0,375.1 L548.8,375.6 L548.4,375.9 L548.5,376.4 L548.4,376.9 L548.0,377.2 L547.7,377.5 L547.7,378.0 L547.0,378.0 L547.3,378.8 L546.3,378.4 L546.4,379.1 L546.3,379.6 L545.8,379.7 L545.3,379.8 L544.8,379.8 L544.6,380.3 L544.1,380.4 L543.9,381.0 L543.4,381.1 L542.9,381.4 L542.5,381.5 L541.9,381.4 L541.7,382.4 L541.2,382.4 L540.7,382.5 L540.3,383.1 L539.6,382.3 L539.3,382.7 L538.7,382.4 L538.4,383.1 L538.0,383.6 L537.5,382.8 L537.1,383.2 L536.6,383.5 L536.2,383.4 L535.7,383.5 L535.3,382.8 L534.7,383.6 L534.4,382.7 L533.9,382.6 L533.4,383.2 L532.9,383.0 L532.5,383.0 L532.2,382.4 L531.8,382.3 L531.4,382.0 L530.9,382.1 L530.4,382.3 L530.0,382.1 L529.8,381.7 L529.2,381.8 L529.2,381.2 L528.9,380.9 L528.7,380.5 L528.2,380.5 L527.7,380.3 L527.7,379.9 L527.6,379.4 L527.1,379.2 L527.1,378.7 L526.8,378.3 L526.2,378.2 L526.0,377.7 L525.9,377.3 L525.6,376.9 L526.3,376.1 L526.1,375.7 L525.5,375.5 L525.7,374.9 L524.8,374.6 L525.5,373.9 L524.7,373.6 L524.6,373.0 L525.0,372.4 L525.4,371.8 L525.3,371.2 L524.3,370.7 L525.1,370.0 L524.3,369.4 L524.2,368.8 L524.4,368.2 L525.0,367.6 L524.5,367.0 L524.9,366.5 L524.9,365.9 L524.9,365.4 L524.8,364.9 L524.4,364.4 L524.7,363.9 L524.6,363.5 L524.9,363.1 L524.5,362.7 L524.3,362.3 L524.2,361.9 L524.2,361.5 L525.0,361.1 L524.7,360.8 L524.8,360.4 L524.2,360.0 L525.1,359.8 L524.5,359.4 L524.7,359.1 L525.1,358.9 L525.5,358.7 L524.7,358.1 L524.9,357.8Z" fill="#e5720f"/>
<path d="M524.3 356.7h0.9v0.9h-0.9zM524.1 369.9h0.9v0.9h-0.9zM523.7 367.1h1.3v1.3h-1.3zM523.7 367.6h0.9v0.9h-0.9zM551.1 346.6h1.3v1.3h-1.3zM523.6 374.8h0.9v0.9h-0.9zM548.3 347.7h0.9v0.9h-0.9zM534.1 351.0h0.9v0.9h-0.9zM538.0 350.6h0.9v0.9h-0.9zM552.0 366.5h1.3v1.3h-1.3zM547.6 377.9h1.3v1.3h-1.3zM552.1 364.3h0.9v0.9h-0.9zM530.2 353.6h0.9v0.9h-0.9zM524.8 368.5h0.9v0.9h-0.9zM553.2 348.5h0.9v0.9h-0.9zM537.0 385.7h0.9v0.9h-0.9zM539.7 384.6h0.9v0.9h-0.9zM525.5 375.8h1.3v1.3h-1.3zM550.0 374.0h0.9v0.9h-0.9zM530.0 351.0h0.9v0.9h-0.9zM551.0 349.2h0.9v0.9h-0.9zM539.6 382.2h1.3v1.3h-1.3zM527.2 378.9h0.9v0.9h-0.9zM545.7 380.2h0.9v0.9h-0.9zM530.5 382.2h0.9v0.9h-0.9zM522.5 360.4h0.9v0.9h-0.9zM551.6 366.9h0.9v0.9h-0.9zM526.7 379.3h0.9v0.9h-0.9zM525.5 360.8h1.3v1.3h-1.3zM552.6 363.1h0.9v0.9h-0.9zM551.4 358.7h1.3v1.3h-1.3zM538.9 383.3h0.9v0.9h-0.9zM527.2 378.4h1.3v1.3h-1.3zM545.6 348.1h0.9v0.9h-0.9zM552.9 357.9h0.9v0.9h-0.9zM543.5 380.9h1.3v1.3h-1.3zM545.0 347.9h0.9v0.9h-0.9zM534.2 383.4h0.9v0.9h-0.9zM541.6 348.6h0.9v0.9h-0.9zM526.9 354.4h1.3v1.3h-1.3zM552.4 351.2h0.9v0.9h-0.9zM547.9 348.7h0.9v0.9h-0.9zM552.6 358.6h0.9v0.9h-0.9zM552.3 362.1h1.3v1.3h-1.3zM526.8 381.0h0.9v0.9h-0.9zM552.8 357.1h0.9v0.9h-0.9zM550.8 374.8h0.9v0.9h-0.9zM528.8 382.4h0.9v0.9h-0.9zM551.0 374.7h0.9v0.9h-0.9zM553.8 362.6h0.9v0.9h-0.9zM523.9 359.5h0.9v0.9h-0.9zM531.5 351.9h1.3v1.3h-1.3zM550.8 374.2h1.3v1.3h-1.3zM550.6 372.6h0.9v0.9h-0.9zM550.6 372.4h0.9v0.9h-0.9zM523.6 367.8h1.3v1.3h-1.3zM525.8 353.3h0.9v0.9h-0.9zM523.3 358.7h0.9v0.9h-0.9zM549.0 378.3h0.9v0.9h-0.9zM543.1 382.4h0.9v0.9h-0.9zM553.0 348.4h1.3v1.3h-1.3zM547.4 379.3h0.9v0.9h-0.9zM546.9 378.9h0.9v0.9h-0.9zM524.6 365.8h0.9v0.9h-0.9zM544.1 349.9h0.9v0.9h-0.9zM548.5 375.9h0.9v0.9h-0.9zM539.1 384.3h0.9v0.9h-0.9zM525.6 381.5h0.9v0.9h-0.9zM551.8 363.7h0.9v0.9h-0.9zM523.6 359.6h0.9v0.9h-0.9zM524.4 366.0h0.9v0.9h-0.9zM525.4 359.1h1.3v1.3h-1.3zM553.4 358.4h0.9v0.9h-0.9zM525.8 377.3h0.9v0.9h-0.9zM553.9 354.9h0.9v0.9h-0.9zM523.1 365.9h0.9v0.9h-0.9zM553.2 355.3h0.9v0.9h-0.9zM523.9 362.4h0.9v0.9h-0.9zM533.8 382.8h0.9v0.9h-0.9zM540.1 349.2h0.9v0.9h-0.9zM544.0 380.6h0.9v0.9h-0.9zM525.0 372.2h0.9v0.9h-0.9zM525.6 378.4h0.9v0.9h-0.9zM552.7 365.4h0.9v0.9h-0.9zM526.5 379.6h0.9v0.9h-0.9zM525.8 356.2h0.9v0.9h-0.9zM547.0 377.3h0.9v0.9h-0.9zM539.7 382.3h0.9v0.9h-0.9zM522.3 357.3h1.3v1.3h-1.3zM554.1 350.7h0.9v0.9h-0.9zM540.7 383.0h0.9v0.9h-0.9zM554.7 350.9h0.9v0.9h-0.9zM542.5 348.7h0.9v0.9h-0.9zM552.9 361.6h1.3v1.3h-1.3zM539.2 384.4h0.9v0.9h-0.9zM523.4 358.2h0.9v0.9h-0.9zM524.3 363.2h1.3v1.3h-1.3zM538.1 384.1h0.9v0.9h-0.9zM548.9 375.5h0.9v0.9h-0.9zM552.4 353.0h0.9v0.9h-0.9zM553.2 351.8h1.3v1.3h-1.3zM537.1 384.0h0.9v0.9h-0.9zM532.5 351.2h0.9v0.9h-0.9zM525.7 359.1h0.9v0.9h-0.9zM544.6 381.0h1.3v1.3h-1.3zM523.7 363.9h0.9v0.9h-0.9zM530.7 352.1h1.3v1.3h-1.3zM542.9 349.1h0.9v0.9h-0.9zM552.2 349.6h0.9v0.9h-0.9zM541.0 349.8h0.9v0.9h-0.9zM542.6 348.9h0.9v0.9h-0.9zM553.6 357.3h1.3v1.3h-1.3zM550.9 369.2h0.9v0.9h-0.9zM540.9 383.1h0.9v0.9h-0.9zM523.6 373.7h0.9v0.9h-0.9zM540.6 349.9h0.9v0.9h-0.9zM523.9 367.2h0.9v0.9h-0.9zM551.9 365.8h0.9v0.9h-0.9zM524.7 355.8h0.9v0.9h-0.9zM528.0 381.1h0.9v0.9h-0.9zM542.9 381.5h0.9v0.9h-0.9zM548.5 378.2h0.9v0.9h-0.9zM523.9 361.0h0.9v0.9h-0.9zM526.0 373.7h0.9v0.9h-0.9zM548.0 348.4h0.9v0.9h-0.9zM547.7 380.6h0.9v0.9h-0.9zM546.2 378.8h1.3v1.3h-1.3zM538.6 350.7h0.9v0.9h-0.9zM529.4 353.9h0.9v0.9h-0.9zM535.5 383.3h0.9v0.9h-0.9zM551.3 349.6h1.3v1.3h-1.3zM536.8 384.1h0.9v0.9h-0.9zM543.4 383.7h0.9v0.9h-0.9zM535.0 383.5h0.9v0.9h-0.9zM552.5 350.3h0.9v0.9h-0.9zM528.4 380.5h0.9v0.9h-0.9zM552.1 349.3h0.9v0.9h-0.9zM553.5 362.1h0.9v0.9h-0.9zM551.6 349.0h1.3v1.3h-1.3zM538.3 351.1h0.9v0.9h-0.9zM524.8 363.0h0.9v0.9h-0.9zM525.8 375.8h0.9v0.9h-0.9zM549.5 347.0h0.9v0.9h-0.9zM525.8 357.2h1.3v1.3h-1.3zM548.6 376.0h1.3v1.3h-1.3zM540.6 381.9h1.3v1.3h-1.3zM535.6 384.0h1.3v1.3h-1.3zM541.5 348.7h1.3v1.3h-1.3zM524.3 360.1h0.9v0.9h-0.9zM543.3 348.4h0.9v0.9h-0.9zM535.7 351.5h0.9v0.9h-0.9zM532.0 349.9h0.9v0.9h-0.9zM534.4 383.3h1.3v1.3h-1.3zM553.2 355.8h1.3v1.3h-1.3zM540.4 349.8h0.9v0.9h-0.9zM551.3 351.1h1.3v1.3h-1.3zM553.0 359.1h1.3v1.3h-1.3zM539.1 382.1h0.9v0.9h-0.9zM534.1 350.8h0.9v0.9h-0.9zM530.4 352.3h1.3v1.3h-1.3z" fill="#e5720f"/>
<path d="M599.7 315.5h0.9v0.9h-0.9zM599.0 320.9h0.9v0.9h-0.9zM600.4 320.1h0.9v0.9h-0.9zM598.9 316.4h1.2v1.2h-1.2zM594.5 321.9h0.9v0.9h-0.9zM595.3 320.8h0.9v0.9h-0.9zM598.8 320.0h0.9v0.9h-0.9zM600.0 317.8h1.2v1.2h-1.2zM599.0 318.7h0.9v0.9h-0.9zM598.9 317.3h0.9v0.9h-0.9zM598.5 320.9h0.9v0.9h-0.9zM603.7 317.5h1.2v1.2h-1.2zM597.6 318.5h0.9v0.9h-0.9zM601.5 315.7h0.9v0.9h-0.9zM593.6 322.1h1.2v1.2h-1.2zM601.3 319.5h0.9v0.9h-0.9zM607.8 311.5h1.2v1.2h-1.2zM603.1 315.1h0.9v0.9h-0.9zM600.8 316.8h1.2v1.2h-1.2zM593.6 321.7h0.9v0.9h-0.9zM597.1 313.7h0.9v0.9h-0.9zM596.9 322.1h1.2v1.2h-1.2zM600.4 317.6h1.2v1.2h-1.2zM604.6 319.6h0.9v0.9h-0.9zM607.1 315.5h0.9v0.9h-0.9zM599.0 316.1h0.9v0.9h-0.9zM595.5 319.2h0.9v0.9h-0.9zM600.5 315.4h1.2v1.2h-1.2zM604.3 315.9h0.9v0.9h-0.9zM600.5 318.6h0.9v0.9h-0.9zM538.1 342.9h0.9v0.9h-0.9zM540.5 341.1h0.9v0.9h-0.9zM539.1 343.9h1.2v1.2h-1.2zM531.2 345.3h0.9v0.9h-0.9zM541.1 339.4h0.9v0.9h-0.9zM540.9 340.7h0.9v0.9h-0.9zM533.3 339.5h0.9v0.9h-0.9zM540.0 339.9h0.9v0.9h-0.9zM538.9 337.6h1.2v1.2h-1.2zM536.3 337.0h1.2v1.2h-1.2z" fill="#1a873b"/>
<line x1="548.50" y1="298.60" x2="548.50" y2="405.90" stroke="#f2706a" stroke-width="0.95" stroke-opacity="0.85"/>
<line x1="630.80" y1="299.10" x2="630.80" y2="405.90" stroke="#7a7a7a" stroke-width="0.8"/>
<line x1="630.80" y1="405.90" x2="680.00" y2="405.90" stroke="#7a7a7a" stroke-width="0.8"/>
<line x1="627.50" y1="299.20" x2="630.80" y2="299.20" stroke="#7a7a7a" stroke-width="0.8"/>
<line x1="627.50" y1="317.00" x2="630.80" y2="317.00" stroke="#7a7a7a" stroke-width="0.8"/>
<line x1="627.50" y1="335.40" x2="630.80" y2="335.40" stroke="#7a7a7a" stroke-width="0.8"/>
<line x1="627.50" y1="353.80" x2="630.80" y2="353.80" stroke="#7a7a7a" stroke-width="0.8"/>
<line x1="627.50" y1="371.90" x2="630.80" y2="371.90" stroke="#7a7a7a" stroke-width="0.8"/>
<line x1="627.50" y1="390.20" x2="630.80" y2="390.20" stroke="#7a7a7a" stroke-width="0.8"/>
<line x1="630.80" y1="405.90" x2="630.80" y2="408.90" stroke="#7a7a7a" stroke-width="0.8"/>
<text x="630.80" y="418.25" font-size="8.2" text-anchor="middle" fill="#383838" font-weight="normal">0</text>
<line x1="648.40" y1="405.90" x2="648.40" y2="408.90" stroke="#7a7a7a" stroke-width="0.8"/>
<text x="648.40" y="418.25" font-size="8.2" text-anchor="middle" fill="#383838" font-weight="normal">0.1</text>
<line x1="666.40" y1="405.90" x2="666.40" y2="408.90" stroke="#7a7a7a" stroke-width="0.8"/>
<text x="666.40" y="418.25" font-size="8.2" text-anchor="middle" fill="#383838" font-weight="normal">0.2</text>
<text x="654.60" y="432.50" font-size="8.9" text-anchor="middle" fill="#383838" font-weight="normal">Score density</text>
<path d="M630.80,320.10 C631.22,321.72 631.97,327.27 633.30,329.80 C634.63,332.33 635.60,333.47 638.80,335.30 C642.00,337.13 647.92,339.20 652.50,340.80 C657.08,342.40 662.28,343.65 666.30,344.90 C670.32,346.15 676.60,347.33 676.60,348.30 C676.60,349.27 670.32,350.07 666.30,350.70 C662.28,351.33 657.08,351.68 652.50,352.10 C647.92,352.52 642.42,352.95 638.80,353.20 C635.18,353.45 632.13,353.53 630.80,353.60 L630.80,353.60 L630.80,320.10Z" fill="#c3dfca"/>
<path d="M630.80,320.10 C631.22,321.72 631.97,327.27 633.30,329.80 C634.63,332.33 635.60,333.47 638.80,335.30 C642.00,337.13 647.92,339.20 652.50,340.80 C657.08,342.40 662.28,343.65 666.30,344.90 C670.32,346.15 676.60,347.33 676.60,348.30 C676.60,349.27 670.32,350.07 666.30,350.70 C662.28,351.33 657.08,351.68 652.50,352.10 C647.92,352.52 642.42,352.95 638.80,353.20 C635.18,353.45 632.13,353.53 630.80,353.60" fill="none" stroke="#52a868" stroke-width="0.8"/>
<path d="M630.80,350.40 C632.13,351.08 635.18,353.47 638.80,354.50 C642.42,355.53 647.92,355.87 652.50,356.60 C657.08,357.33 662.85,358.22 666.30,358.90 C669.75,359.58 673.20,360.05 673.20,360.70 C673.20,361.35 669.75,361.77 666.30,362.80 C662.85,363.83 657.08,365.07 652.50,366.90 C647.92,368.73 642.42,371.27 638.80,373.80 C635.18,376.33 632.13,380.72 630.80,382.10 L630.80,382.10 L630.80,350.40Z" fill="#bcbd98" fill-opacity="0.9"/>
<path d="M630.80,350.40 C632.13,351.08 635.18,353.47 638.80,354.50 C642.42,355.53 647.92,355.87 652.50,356.60 C657.08,357.33 662.85,358.22 666.30,358.90 C669.75,359.58 673.20,360.05 673.20,360.70 C673.20,361.35 669.75,361.77 666.30,362.80 C662.85,363.83 657.08,365.07 652.50,366.90 C647.92,368.73 642.42,371.27 638.80,373.80 C635.18,376.33 632.13,380.72 630.80,382.10" fill="none" stroke="#c0985a" stroke-width="0.6"/>
<path d="M630.80,350.40 C632.13,351.08 635.18,353.47 638.80,354.50 C642.42,355.53 647.92,355.87 652.50,356.60 C657.08,357.33 662.85,358.22 666.30,358.90 C669.75,359.58 673.20,360.05 673.20,360.70 C673.20,361.35 669.75,361.77 666.30,362.80 C662.85,363.83 657.08,365.07 652.50,366.90 C647.92,368.73 642.42,371.27 638.80,373.80 C635.18,376.33 632.13,380.72 630.80,382.10" fill="none" stroke="#3f8a4a" stroke-width="0.7" stroke-opacity="0.9"/>
<line x1="515.80" y1="353.60" x2="678.70" y2="353.60" stroke="#f2706a" stroke-width="1.1" stroke-opacity="0.6"/>
<circle cx="420.1" cy="43.1" r="2.3" fill="#1a873b"/>
<circle cx="420.1" cy="52.4" r="2.3" fill="#e5720f"/>
<text x="426.60" y="45.77" font-size="8.8" text-anchor="start" fill="#383838" font-weight="normal">Targets</text>
<text x="426.60" y="55.07" font-size="8.8" text-anchor="start" fill="#383838" font-weight="normal">Decoys</text>
<text x="274.80" y="466.10" font-size="12.5" text-anchor="start" fill="#000" font-weight="bold">c</text>
<line x1="336.20" y1="462.50" x2="336.20" y2="606.50" stroke="#666" stroke-width="0.8"/>
<line x1="336.20" y1="598.60" x2="673.50" y2="598.60" stroke="#777" stroke-width="0.8"/>
<line x1="333.60" y1="598.60" x2="336.20" y2="598.60" stroke="#666" stroke-width="0.8"/>
<text x="330.80" y="601.62" font-size="8.4" text-anchor="end" fill="#383838" font-weight="normal">0</text>
<line x1="333.60" y1="580.78" x2="336.20" y2="580.78" stroke="#666" stroke-width="0.8"/>
<text x="330.80" y="583.80" font-size="8.4" text-anchor="end" fill="#383838" font-weight="normal">50,000</text>
<line x1="333.60" y1="562.96" x2="336.20" y2="562.96" stroke="#666" stroke-width="0.8"/>
<text x="330.80" y="565.98" font-size="8.4" text-anchor="end" fill="#383838" font-weight="normal">100,000</text>
<line x1="333.60" y1="545.14" x2="336.20" y2="545.14" stroke="#666" stroke-width="0.8"/>
<text x="330.80" y="548.16" font-size="8.4" text-anchor="end" fill="#383838" font-weight="normal">150,000</text>
<line x1="333.60" y1="527.32" x2="336.20" y2="527.32" stroke="#666" stroke-width="0.8"/>
<text x="330.80" y="530.34" font-size="8.4" text-anchor="end" fill="#383838" font-weight="normal">200,000</text>
<line x1="333.60" y1="509.50" x2="336.20" y2="509.50" stroke="#666" stroke-width="0.8"/>
<text x="330.80" y="512.52" font-size="8.4" text-anchor="end" fill="#383838" font-weight="normal">250,000</text>
<line x1="333.60" y1="491.68" x2="336.20" y2="491.68" stroke="#666" stroke-width="0.8"/>
<text x="330.80" y="494.70" font-size="8.4" text-anchor="end" fill="#383838" font-weight="normal">300,000</text>
<line x1="333.60" y1="473.86" x2="336.20" y2="473.86" stroke="#666" stroke-width="0.8"/>
<text x="330.80" y="476.88" font-size="8.4" text-anchor="end" fill="#383838" font-weight="normal">350,000</text>
<text x="279.90" y="537.74" font-size="9.0" text-anchor="middle" fill="#383838" font-weight="normal" transform="rotate(-90 279.90 534.50)">Number of identified PSMs</text>
<text x="290.80" y="537.74" font-size="9.0" text-anchor="middle" fill="#383838" font-weight="normal" transform="rotate(-90 290.80 534.50)">below 1% FDR at PSM level</text>
<text x="371.40" y="464.50" font-size="8.6" text-anchor="middle" fill="#383838" font-weight="normal">ECD</text>
<rect x="341.20" y="533.10" width="10.20" height="65.50" fill="#43c946" stroke="none" stroke-width="0"/>
<rect x="341.20" y="538.90" width="10.20" height="59.70" fill="#2e76d6" stroke="none" stroke-width="0"/>
<rect x="341.20" y="598.60" width="10.20" height="1.20" fill="#fb7d14" stroke="none" stroke-width="0"/>
<text x="348.30" y="531.90" font-size="6.0" text-anchor="start" fill="#383838" font-weight="normal" transform="rotate(-90 348.30 531.90)">8.9%</text>
<text x="346.30" y="567.95" font-size="6.6" fill="#ffffff" text-anchor="middle" transform="rotate(-90 346.30 567.95)" dy="2.3">97.8%</text>
<text x="346.30" y="611.2" font-size="6.0" fill="#383838" text-anchor="middle" transform="rotate(-90 346.30 611.2)" dy="2.1">2.2%</text>
<text x="346.30" y="624.8" font-size="8.6" fill="#383838" text-anchor="end" transform="rotate(-90 346.30 624.8)" dy="3.1">Chymo</text>
<rect x="356.23" y="525.80" width="10.20" height="72.80" fill="#43c946" stroke="none" stroke-width="0"/>
<rect x="356.23" y="532.60" width="10.20" height="66.00" fill="#2e76d6" stroke="none" stroke-width="0"/>
<rect x="356.23" y="598.60" width="10.20" height="1.20" fill="#fb7d14" stroke="none" stroke-width="0"/>
<text x="363.33" y="524.60" font-size="6.0" text-anchor="start" fill="#383838" font-weight="normal" transform="rotate(-90 363.33 524.60)">9.5%</text>
<text x="361.33" y="564.80" font-size="6.6" fill="#ffffff" text-anchor="middle" transform="rotate(-90 361.33 564.80)" dy="2.3">98.1%</text>
<text x="361.33" y="611.2" font-size="6.0" fill="#383838" text-anchor="middle" transform="rotate(-90 361.33 611.2)" dy="2.1">1.9%</text>
<text x="361.33" y="624.8" font-size="8.6" fill="#383838" text-anchor="end" transform="rotate(-90 361.33 624.8)" dy="3.1">GluC</text>
<rect x="371.26" y="527.60" width="10.20" height="71.00" fill="#43c946" stroke="none" stroke-width="0"/>
<rect x="371.26" y="530.60" width="10.20" height="68.00" fill="#2e76d6" stroke="none" stroke-width="0"/>
<rect x="371.26" y="598.60" width="10.20" height="1.20" fill="#fb7d14" stroke="none" stroke-width="0"/>
<text x="378.36" y="526.40" font-size="6.0" text-anchor="start" fill="#383838" font-weight="normal" transform="rotate(-90 378.36 526.40)">4.2%</text>
<text x="376.36" y="563.80" font-size="6.6" fill="#ffffff" text-anchor="middle" transform="rotate(-90 376.36 563.80)" dy="2.3">98.3%</text>
<text x="376.36" y="611.2" font-size="6.0" fill="#383838" text-anchor="middle" transform="rotate(-90 376.36 611.2)" dy="2.1">1.7%</text>
<text x="376.36" y="624.8" font-size="8.6" fill="#383838" text-anchor="end" transform="rotate(-90 376.36 624.8)" dy="3.1">LysC</text>
<rect x="386.29" y="533.10" width="10.20" height="65.50" fill="#43c946" stroke="none" stroke-width="0"/>
<rect x="386.29" y="535.10" width="10.20" height="63.50" fill="#2e76d6" stroke="none" stroke-width="0"/>
<rect x="386.29" y="598.60" width="10.20" height="1.20" fill="#fb7d14" stroke="none" stroke-width="0"/>
<text x="393.39" y="531.90" font-size="6.0" text-anchor="start" fill="#383838" font-weight="normal" transform="rotate(-90 393.39 531.90)">2.8%</text>
<text x="391.39" y="566.05" font-size="6.6" fill="#ffffff" text-anchor="middle" transform="rotate(-90 391.39 566.05)" dy="2.3">98.8%</text>
<text x="391.39" y="611.2" font-size="6.0" fill="#383838" text-anchor="middle" transform="rotate(-90 391.39 611.2)" dy="2.1">1.2%</text>
<text x="391.39" y="624.8" font-size="8.6" fill="#383838" text-anchor="end" transform="rotate(-90 391.39 624.8)" dy="3.1">LysN</text>
<rect x="401.32" y="505.80" width="10.20" height="92.80" fill="#43c946" stroke="none" stroke-width="0"/>
<rect x="401.32" y="512.00" width="10.20" height="86.60" fill="#2e76d6" stroke="none" stroke-width="0"/>
<rect x="401.32" y="598.60" width="10.20" height="1.20" fill="#fb7d14" stroke="none" stroke-width="0"/>
<text x="408.42" y="504.60" font-size="6.0" text-anchor="start" fill="#383838" font-weight="normal" transform="rotate(-90 408.42 504.60)">7.0%</text>
<text x="406.42" y="554.50" font-size="6.6" fill="#ffffff" text-anchor="middle" transform="rotate(-90 406.42 554.50)" dy="2.3">98.7%</text>
<text x="406.42" y="611.2" font-size="6.0" fill="#383838" text-anchor="middle" transform="rotate(-90 406.42 611.2)" dy="2.1">1.3%</text>
<text x="406.42" y="624.8" font-size="8.6" fill="#383838" text-anchor="end" transform="rotate(-90 406.42 624.8)" dy="3.1">Trypsin</text>
<text x="456.80" y="464.50" font-size="8.6" text-anchor="middle" fill="#383838" font-weight="normal">EID</text>
<rect x="426.10" y="545.20" width="10.20" height="53.40" fill="#43c946" stroke="none" stroke-width="0"/>
<rect x="426.10" y="556.10" width="10.20" height="42.50" fill="#2e76d6" stroke="none" stroke-width="0"/>
<rect x="426.10" y="598.60" width="10.20" height="1.20" fill="#fb7d14" stroke="none" stroke-width="0"/>
<text x="433.20" y="544.00" font-size="6.0" text-anchor="start" fill="#383838" font-weight="normal" transform="rotate(-90 433.20 544.00)">23.9%</text>
<text x="431.20" y="576.55" font-size="6.6" fill="#ffffff" text-anchor="middle" transform="rotate(-90 431.20 576.55)" dy="2.3">98.3%</text>
<text x="431.20" y="611.2" font-size="6.0" fill="#383838" text-anchor="middle" transform="rotate(-90 431.20 611.2)" dy="2.1">1.7%</text>
<text x="431.20" y="624.8" font-size="8.6" fill="#383838" text-anchor="end" transform="rotate(-90 431.20 624.8)" dy="3.1">Chymo</text>
<rect x="441.13" y="548.30" width="10.20" height="50.30" fill="#43c946" stroke="none" stroke-width="0"/>
<rect x="441.13" y="555.30" width="10.20" height="43.30" fill="#2e76d6" stroke="none" stroke-width="0"/>
<rect x="441.13" y="598.60" width="10.20" height="1.20" fill="#fb7d14" stroke="none" stroke-width="0"/>
<text x="448.23" y="547.10" font-size="6.0" text-anchor="start" fill="#383838" font-weight="normal" transform="rotate(-90 448.23 547.10)">16.8%</text>
<text x="446.23" y="576.15" font-size="6.6" fill="#ffffff" text-anchor="middle" transform="rotate(-90 446.23 576.15)" dy="2.3">98.2%</text>
<text x="446.23" y="611.2" font-size="6.0" fill="#383838" text-anchor="middle" transform="rotate(-90 446.23 611.2)" dy="2.1">1.8%</text>
<text x="446.23" y="624.8" font-size="8.6" fill="#383838" text-anchor="end" transform="rotate(-90 446.23 624.8)" dy="3.1">GluC</text>
<rect x="456.16" y="542.50" width="10.20" height="56.10" fill="#43c946" stroke="none" stroke-width="0"/>
<rect x="456.16" y="549.50" width="10.20" height="49.10" fill="#2e76d6" stroke="none" stroke-width="0"/>
<rect x="456.16" y="598.60" width="10.20" height="1.20" fill="#fb7d14" stroke="none" stroke-width="0"/>
<text x="463.26" y="541.30" font-size="6.0" text-anchor="start" fill="#383838" font-weight="normal" transform="rotate(-90 463.26 541.30)">13.6%</text>
<text x="461.26" y="573.25" font-size="6.6" fill="#ffffff" text-anchor="middle" transform="rotate(-90 461.26 573.25)" dy="2.3">98.7%</text>
<text x="461.26" y="611.2" font-size="6.0" fill="#383838" text-anchor="middle" transform="rotate(-90 461.26 611.2)" dy="2.1">1.3%</text>
<text x="461.26" y="624.8" font-size="8.6" fill="#383838" text-anchor="end" transform="rotate(-90 461.26 624.8)" dy="3.1">LysC</text>
<rect x="471.19" y="545.60" width="10.20" height="53.00" fill="#43c946" stroke="none" stroke-width="0"/>
<rect x="471.19" y="552.20" width="10.20" height="46.40" fill="#2e76d6" stroke="none" stroke-width="0"/>
<rect x="471.19" y="598.60" width="10.20" height="1.20" fill="#fb7d14" stroke="none" stroke-width="0"/>
<text x="478.29" y="544.40" font-size="6.0" text-anchor="start" fill="#383838" font-weight="normal" transform="rotate(-90 478.29 544.40)">12.9%</text>
<text x="476.29" y="574.60" font-size="6.6" fill="#ffffff" text-anchor="middle" transform="rotate(-90 476.29 574.60)" dy="2.3">98.6%</text>
<text x="476.29" y="611.2" font-size="6.0" fill="#383838" text-anchor="middle" transform="rotate(-90 476.29 611.2)" dy="2.1">1.2%</text>
<text x="476.29" y="624.8" font-size="8.6" fill="#383838" text-anchor="end" transform="rotate(-90 476.29 624.8)" dy="3.1">LysN</text>
<rect x="486.22" y="510.80" width="10.20" height="87.80" fill="#43c946" stroke="none" stroke-width="0"/>
<rect x="486.22" y="521.20" width="10.20" height="77.40" fill="#2e76d6" stroke="none" stroke-width="0"/>
<rect x="486.22" y="598.60" width="10.20" height="1.20" fill="#fb7d14" stroke="none" stroke-width="0"/>
<text x="493.32" y="509.60" font-size="6.0" text-anchor="start" fill="#383838" font-weight="normal" transform="rotate(-90 493.32 509.60)">13.1%</text>
<text x="491.32" y="559.10" font-size="6.6" fill="#ffffff" text-anchor="middle" transform="rotate(-90 491.32 559.10)" dy="2.3">98.8%</text>
<text x="491.32" y="611.2" font-size="6.0" fill="#383838" text-anchor="middle" transform="rotate(-90 491.32 611.2)" dy="2.1">1.2%</text>
<text x="491.32" y="624.8" font-size="8.6" fill="#383838" text-anchor="end" transform="rotate(-90 491.32 624.8)" dy="3.1">Trypsin</text>
<text x="540.90" y="464.50" font-size="8.6" text-anchor="middle" fill="#383838" font-weight="normal">HCD</text>
<rect x="511.00" y="522.10" width="10.20" height="76.50" fill="#43c946" stroke="none" stroke-width="0"/>
<rect x="511.00" y="545.00" width="10.20" height="53.60" fill="#2e76d6" stroke="none" stroke-width="0"/>
<rect x="511.00" y="598.60" width="10.20" height="1.20" fill="#fb7d14" stroke="none" stroke-width="0"/>
<text x="518.10" y="520.90" font-size="6.0" text-anchor="start" fill="#383838" font-weight="normal" transform="rotate(-90 518.10 520.90)">40.5%</text>
<text x="516.10" y="571.00" font-size="6.6" fill="#ffffff" text-anchor="middle" transform="rotate(-90 516.10 571.00)" dy="2.3">98.2%</text>
<text x="516.10" y="611.2" font-size="6.0" fill="#383838" text-anchor="middle" transform="rotate(-90 516.10 611.2)" dy="2.1">1.8%</text>
<text x="516.10" y="624.8" font-size="8.6" fill="#383838" text-anchor="end" transform="rotate(-90 516.10 624.8)" dy="3.1">Chymo</text>
<rect x="526.03" y="523.80" width="10.20" height="74.80" fill="#43c946" stroke="none" stroke-width="0"/>
<rect x="526.03" y="536.20" width="10.20" height="62.40" fill="#2e76d6" stroke="none" stroke-width="0"/>
<rect x="526.03" y="598.60" width="10.20" height="1.20" fill="#fb7d14" stroke="none" stroke-width="0"/>
<text x="533.13" y="522.60" font-size="6.0" text-anchor="start" fill="#383838" font-weight="normal" transform="rotate(-90 533.13 522.60)">18.9%</text>
<text x="531.13" y="566.60" font-size="6.6" fill="#ffffff" text-anchor="middle" transform="rotate(-90 531.13 566.60)" dy="2.3">98.6%</text>
<text x="531.13" y="611.2" font-size="6.0" fill="#383838" text-anchor="middle" transform="rotate(-90 531.13 611.2)" dy="2.1">1.4%</text>
<text x="531.13" y="624.8" font-size="8.6" fill="#383838" text-anchor="end" transform="rotate(-90 531.13 624.8)" dy="3.1">GluC</text>
<rect x="541.06" y="502.80" width="10.20" height="95.80" fill="#43c946" stroke="none" stroke-width="0"/>
<rect x="541.06" y="512.80" width="10.20" height="85.80" fill="#2e76d6" stroke="none" stroke-width="0"/>
<rect x="541.06" y="598.60" width="10.20" height="1.20" fill="#fb7d14" stroke="none" stroke-width="0"/>
<text x="548.16" y="501.60" font-size="6.0" text-anchor="start" fill="#383838" font-weight="normal" transform="rotate(-90 548.16 501.60)">11.9%</text>
<text x="546.16" y="554.90" font-size="6.6" fill="#ffffff" text-anchor="middle" transform="rotate(-90 546.16 554.90)" dy="2.3">98.7%</text>
<text x="546.16" y="611.2" font-size="6.0" fill="#383838" text-anchor="middle" transform="rotate(-90 546.16 611.2)" dy="2.1">1.3%</text>
<text x="546.16" y="624.8" font-size="8.6" fill="#383838" text-anchor="end" transform="rotate(-90 546.16 624.8)" dy="3.1">LysC</text>
<rect x="556.09" y="524.90" width="10.20" height="73.70" fill="#43c946" stroke="none" stroke-width="0"/>
<rect x="556.09" y="536.70" width="10.20" height="61.90" fill="#2e76d6" stroke="none" stroke-width="0"/>
<rect x="556.09" y="598.60" width="10.20" height="1.20" fill="#fb7d14" stroke="none" stroke-width="0"/>
<text x="563.19" y="523.70" font-size="6.0" text-anchor="start" fill="#383838" font-weight="normal" transform="rotate(-90 563.19 523.70)">18.0%</text>
<text x="561.19" y="566.85" font-size="6.6" fill="#ffffff" text-anchor="middle" transform="rotate(-90 561.19 566.85)" dy="2.3">98.4%</text>
<text x="561.19" y="611.2" font-size="6.0" fill="#383838" text-anchor="middle" transform="rotate(-90 561.19 611.2)" dy="2.1">1.6%</text>
<text x="561.19" y="624.8" font-size="8.6" fill="#383838" text-anchor="end" transform="rotate(-90 561.19 624.8)" dy="3.1">LysN</text>
<rect x="571.12" y="468.70" width="10.20" height="129.90" fill="#43c946" stroke="none" stroke-width="0"/>
<rect x="571.12" y="482.20" width="10.20" height="116.40" fill="#2e76d6" stroke="none" stroke-width="0"/>
<rect x="571.12" y="598.60" width="10.20" height="2.10" fill="#fb7d14" stroke="none" stroke-width="0"/>
<text x="578.22" y="467.50" font-size="6.0" text-anchor="start" fill="#383838" font-weight="normal" transform="rotate(-90 578.22 467.50)">11.3%</text>
<text x="576.22" y="539.60" font-size="6.6" fill="#ffffff" text-anchor="middle" transform="rotate(-90 576.22 539.60)" dy="2.3">98.5%</text>
<text x="576.22" y="611.2" font-size="6.0" fill="#383838" text-anchor="middle" transform="rotate(-90 576.22 611.2)" dy="2.1">1.5%</text>
<text x="576.22" y="624.8" font-size="8.6" fill="#383838" text-anchor="end" transform="rotate(-90 576.22 624.8)" dy="3.1">Trypsin</text>
<text x="627.00" y="464.50" font-size="8.6" text-anchor="middle" fill="#383838" font-weight="normal">UVPD</text>
<rect x="595.90" y="529.80" width="10.20" height="68.80" fill="#43c946" stroke="none" stroke-width="0"/>
<rect x="595.90" y="541.70" width="10.20" height="56.90" fill="#2e76d6" stroke="none" stroke-width="0"/>
<rect x="595.90" y="598.60" width="10.20" height="1.20" fill="#fb7d14" stroke="none" stroke-width="0"/>
<text x="603.00" y="528.60" font-size="6.0" text-anchor="start" fill="#383838" font-weight="normal" transform="rotate(-90 603.00 528.60)">21.1%</text>
<text x="601.00" y="569.35" font-size="6.6" fill="#ffffff" text-anchor="middle" transform="rotate(-90 601.00 569.35)" dy="2.3">98.1%</text>
<text x="601.00" y="611.2" font-size="6.0" fill="#383838" text-anchor="middle" transform="rotate(-90 601.00 611.2)" dy="2.1">1.9%</text>
<text x="601.00" y="624.8" font-size="8.6" fill="#383838" text-anchor="end" transform="rotate(-90 601.00 624.8)" dy="3.1">Chymo</text>
<rect x="610.93" y="534.80" width="10.20" height="63.80" fill="#43c946" stroke="none" stroke-width="0"/>
<rect x="610.93" y="542.80" width="10.20" height="55.80" fill="#2e76d6" stroke="none" stroke-width="0"/>
<rect x="610.93" y="598.60" width="10.20" height="1.20" fill="#fb7d14" stroke="none" stroke-width="0"/>
<text x="618.03" y="533.60" font-size="6.0" text-anchor="start" fill="#383838" font-weight="normal" transform="rotate(-90 618.03 533.60)">12.9%</text>
<text x="616.03" y="569.90" font-size="6.6" fill="#ffffff" text-anchor="middle" transform="rotate(-90 616.03 569.90)" dy="2.3">98.1%</text>
<text x="616.03" y="611.2" font-size="6.0" fill="#383838" text-anchor="middle" transform="rotate(-90 616.03 611.2)" dy="2.1">1.9%</text>
<text x="616.03" y="624.8" font-size="8.6" fill="#383838" text-anchor="end" transform="rotate(-90 616.03 624.8)" dy="3.1">GluC</text>
<rect x="625.96" y="518.00" width="10.20" height="80.60" fill="#43c946" stroke="none" stroke-width="0"/>
<rect x="625.96" y="524.90" width="10.20" height="73.70" fill="#2e76d6" stroke="none" stroke-width="0"/>
<rect x="625.96" y="598.60" width="10.20" height="1.20" fill="#fb7d14" stroke="none" stroke-width="0"/>
<text x="633.06" y="516.80" font-size="6.0" text-anchor="start" fill="#383838" font-weight="normal" transform="rotate(-90 633.06 516.80)">8.6%</text>
<text x="631.06" y="560.95" font-size="6.6" fill="#ffffff" text-anchor="middle" transform="rotate(-90 631.06 560.95)" dy="2.3">98.7%</text>
<text x="631.06" y="611.2" font-size="6.0" fill="#383838" text-anchor="middle" transform="rotate(-90 631.06 611.2)" dy="2.1">1.3%</text>
<text x="631.06" y="624.8" font-size="8.6" fill="#383838" text-anchor="end" transform="rotate(-90 631.06 624.8)" dy="3.1">LysC</text>
<rect x="640.99" y="538.10" width="10.20" height="60.50" fill="#43c946" stroke="none" stroke-width="0"/>
<rect x="640.99" y="545.80" width="10.20" height="52.80" fill="#2e76d6" stroke="none" stroke-width="0"/>
<rect x="640.99" y="598.60" width="10.20" height="1.20" fill="#fb7d14" stroke="none" stroke-width="0"/>
<text x="648.09" y="536.90" font-size="6.0" text-anchor="start" fill="#383838" font-weight="normal" transform="rotate(-90 648.09 536.90)">15.1%</text>
<text x="646.09" y="571.40" font-size="6.6" fill="#ffffff" text-anchor="middle" transform="rotate(-90 646.09 571.40)" dy="2.3">98.4%</text>
<text x="646.09" y="611.2" font-size="6.0" fill="#383838" text-anchor="middle" transform="rotate(-90 646.09 611.2)" dy="2.1">1.6%</text>
<text x="646.09" y="624.8" font-size="8.6" fill="#383838" text-anchor="end" transform="rotate(-90 646.09 624.8)" dy="3.1">LysN</text>
<rect x="656.02" y="482.20" width="10.20" height="116.40" fill="#43c946" stroke="none" stroke-width="0"/>
<rect x="656.02" y="491.80" width="10.20" height="106.80" fill="#2e76d6" stroke="none" stroke-width="0"/>
<rect x="656.02" y="598.60" width="10.20" height="2.10" fill="#fb7d14" stroke="none" stroke-width="0"/>
<text x="663.12" y="481.00" font-size="6.0" text-anchor="start" fill="#383838" font-weight="normal" transform="rotate(-90 663.12 481.00)">9.0%</text>
<text x="661.12" y="544.40" font-size="6.6" fill="#ffffff" text-anchor="middle" transform="rotate(-90 661.12 544.40)" dy="2.3">98.5%</text>
<text x="661.12" y="611.2" font-size="6.0" fill="#383838" text-anchor="middle" transform="rotate(-90 661.12 611.2)" dy="2.1">1.5%</text>
<text x="661.12" y="624.8" font-size="8.6" fill="#383838" text-anchor="end" transform="rotate(-90 661.12 624.8)" dy="3.1">Trypsin</text>
<rect x="431.60" y="477.90" width="11.00" height="4.20" fill="#2e76d6" stroke="none" stroke-width="0"/>
<text x="446.70" y="482.81" font-size="7.8" text-anchor="start" fill="#383838" font-weight="normal">Shared</text>
<rect x="431.60" y="486.20" width="11.00" height="4.20" fill="#fb7d14" stroke="none" stroke-width="0"/>
<text x="446.70" y="491.11" font-size="7.8" text-anchor="start" fill="#383838" font-weight="normal">Lost</text>
<rect x="431.60" y="494.40" width="11.00" height="4.20" fill="#43c946" stroke="none" stroke-width="0"/>
<text x="446.70" y="499.31" font-size="7.8" text-anchor="start" fill="#383838" font-weight="normal">Gained</text>
<text x="-0.30" y="350.50" font-size="12.5" text-anchor="start" fill="#000" font-weight="bold">d</text>
<rect x="35.50" y="361.20" width="99.80" height="96.90" fill="none" stroke="#c4c4c4" stroke-width="1.0"/>
<line x1="32.50" y1="363.40" x2="35.50" y2="363.40" stroke="#555" stroke-width="0.8"/>
<text x="28.80" y="366.28" font-size="8.0" text-anchor="end" fill="#383838" font-weight="normal">100</text>
<line x1="33.70" y1="372.95" x2="35.50" y2="372.95" stroke="#555" stroke-width="0.7"/>
<line x1="32.50" y1="382.50" x2="35.50" y2="382.50" stroke="#555" stroke-width="0.8"/>
<text x="28.80" y="385.38" font-size="8.0" text-anchor="end" fill="#383838" font-weight="normal">80</text>
<line x1="33.70" y1="392.05" x2="35.50" y2="392.05" stroke="#555" stroke-width="0.7"/>
<line x1="32.50" y1="401.60" x2="35.50" y2="401.60" stroke="#555" stroke-width="0.8"/>
<text x="28.80" y="404.48" font-size="8.0" text-anchor="end" fill="#383838" font-weight="normal">60</text>
<line x1="33.70" y1="411.00" x2="35.50" y2="411.00" stroke="#555" stroke-width="0.7"/>
<line x1="32.50" y1="420.40" x2="35.50" y2="420.40" stroke="#555" stroke-width="0.8"/>
<text x="28.80" y="423.28" font-size="8.0" text-anchor="end" fill="#383838" font-weight="normal">40</text>
<line x1="33.70" y1="429.85" x2="35.50" y2="429.85" stroke="#555" stroke-width="0.7"/>
<line x1="32.50" y1="439.30" x2="35.50" y2="439.30" stroke="#555" stroke-width="0.8"/>
<text x="28.80" y="442.18" font-size="8.0" text-anchor="end" fill="#383838" font-weight="normal">20</text>
<line x1="33.70" y1="448.85" x2="35.50" y2="448.85" stroke="#555" stroke-width="0.7"/>
<line x1="32.50" y1="458.40" x2="35.50" y2="458.40" stroke="#555" stroke-width="0.8"/>
<text x="28.80" y="461.28" font-size="8.0" text-anchor="end" fill="#383838" font-weight="normal">0</text>
<line x1="39.50" y1="458.10" x2="39.50" y2="460.90" stroke="#555" stroke-width="0.8"/>
<text x="41.80" y="466.40" font-size="7.8" fill="#383838" text-anchor="end" transform="rotate(-30 41.80 466.40)" dy="2.6">100</text>
<line x1="57.78" y1="458.10" x2="57.78" y2="460.90" stroke="#555" stroke-width="0.8"/>
<text x="60.08" y="466.40" font-size="7.8" fill="#383838" text-anchor="end" transform="rotate(-30 60.08 466.40)" dy="2.6">10</text>
<line x1="76.06" y1="458.10" x2="76.06" y2="460.90" stroke="#555" stroke-width="0.8"/>
<text x="78.36" y="466.40" font-size="7.8" fill="#383838" text-anchor="end" transform="rotate(-30 78.36 466.40)" dy="2.6">1</text>
<line x1="94.34" y1="458.10" x2="94.34" y2="460.90" stroke="#555" stroke-width="0.8"/>
<text x="96.64" y="466.40" font-size="7.8" fill="#383838" text-anchor="end" transform="rotate(-30 96.64 466.40)" dy="2.6">0.1</text>
<line x1="112.62" y1="458.10" x2="112.62" y2="460.90" stroke="#555" stroke-width="0.8"/>
<text x="114.92" y="466.40" font-size="7.8" fill="#383838" text-anchor="end" transform="rotate(-30 114.92 466.40)" dy="2.6">0.01</text>
<line x1="130.90" y1="458.10" x2="130.90" y2="460.90" stroke="#555" stroke-width="0.8"/>
<text x="133.20" y="466.40" font-size="7.8" fill="#383838" text-anchor="end" transform="rotate(-30 133.20 466.40)" dy="2.6">0.001</text>
<text x="85.40" y="355.70" font-size="8.6" text-anchor="middle" fill="#383838" font-weight="normal">ECD</text>
<polyline points="39.50,363.40 57.78,363.40 76.06,369.00 94.34,379.80 112.62,393.80 130.90,416.40" fill="none" stroke="#2b7fc0" stroke-width="1.0"/>
<circle cx="39.50" cy="363.40" r="1.4" fill="#2b7fc0"/>
<circle cx="57.78" cy="363.40" r="1.4" fill="#2b7fc0"/>
<circle cx="76.06" cy="369.00" r="1.4" fill="#2b7fc0"/>
<circle cx="94.34" cy="379.80" r="1.4" fill="#2b7fc0"/>
<circle cx="112.62" cy="393.80" r="1.4" fill="#2b7fc0"/>
<circle cx="130.90" cy="416.40" r="1.4" fill="#2b7fc0"/>
<polyline points="39.50,363.40 57.78,363.40 76.06,364.30 94.34,368.30 112.62,378.00 130.90,394.90" fill="none" stroke="#f98a1f" stroke-width="1.0"/>
<circle cx="39.50" cy="363.40" r="1.4" fill="#f98a1f"/>
<circle cx="57.78" cy="363.40" r="1.4" fill="#f98a1f"/>
<circle cx="76.06" cy="364.30" r="1.4" fill="#f98a1f"/>
<circle cx="94.34" cy="368.30" r="1.4" fill="#f98a1f"/>
<circle cx="112.62" cy="378.00" r="1.4" fill="#f98a1f"/>
<circle cx="130.90" cy="394.90" r="1.4" fill="#f98a1f"/>
<circle cx="76.06" cy="369.00" r="2.0" fill="#1a66a8" stroke="#1a2a40" stroke-width="0.7"/>
<circle cx="76.06" cy="364.30" r="2.0" fill="#f98a1f" stroke="#444" stroke-width="0.6"/>
<text x="77.70" y="367.00" font-size="7.5" text-anchor="start" fill="#383838" font-weight="normal">98.9%</text>
<text x="78.10" y="377.70" font-size="7.5" text-anchor="end" fill="#383838" font-weight="normal">94.5%</text>
<rect x="157.10" y="361.20" width="99.80" height="96.90" fill="none" stroke="#c4c4c4" stroke-width="1.0"/>
<line x1="154.10" y1="365.40" x2="157.10" y2="365.40" stroke="#555" stroke-width="0.8"/>
<text x="150.40" y="368.28" font-size="8.0" text-anchor="end" fill="#383838" font-weight="normal">100</text>
<line x1="155.30" y1="374.25" x2="157.10" y2="374.25" stroke="#555" stroke-width="0.7"/>
<line x1="154.10" y1="383.10" x2="157.10" y2="383.10" stroke="#555" stroke-width="0.8"/>
<text x="150.40" y="385.98" font-size="8.0" text-anchor="end" fill="#383838" font-weight="normal">80</text>
<line x1="155.30" y1="391.90" x2="157.10" y2="391.90" stroke="#555" stroke-width="0.7"/>
<line x1="154.10" y1="400.70" x2="157.10" y2="400.70" stroke="#555" stroke-width="0.8"/>
<text x="150.40" y="403.58" font-size="8.0" text-anchor="end" fill="#383838" font-weight="normal">60</text>
<line x1="155.30" y1="409.55" x2="157.10" y2="409.55" stroke="#555" stroke-width="0.7"/>
<line x1="154.10" y1="418.40" x2="157.10" y2="418.40" stroke="#555" stroke-width="0.8"/>
<text x="150.40" y="421.28" font-size="8.0" text-anchor="end" fill="#383838" font-weight="normal">40</text>
<line x1="155.30" y1="427.30" x2="157.10" y2="427.30" stroke="#555" stroke-width="0.7"/>
<line x1="154.10" y1="436.20" x2="157.10" y2="436.20" stroke="#555" stroke-width="0.8"/>
<text x="150.40" y="439.08" font-size="8.0" text-anchor="end" fill="#383838" font-weight="normal">20</text>
<line x1="155.30" y1="444.95" x2="157.10" y2="444.95" stroke="#555" stroke-width="0.7"/>
<line x1="154.10" y1="453.70" x2="157.10" y2="453.70" stroke="#555" stroke-width="0.8"/>
<text x="150.40" y="456.58" font-size="8.0" text-anchor="end" fill="#383838" font-weight="normal">0</text>
<line x1="161.50" y1="458.10" x2="161.50" y2="460.90" stroke="#555" stroke-width="0.8"/>
<text x="163.80" y="466.40" font-size="7.8" fill="#383838" text-anchor="end" transform="rotate(-30 163.80 466.40)" dy="2.6">100</text>
<line x1="179.68" y1="458.10" x2="179.68" y2="460.90" stroke="#555" stroke-width="0.8"/>
<text x="181.98" y="466.40" font-size="7.8" fill="#383838" text-anchor="end" transform="rotate(-30 181.98 466.40)" dy="2.6">10</text>
<line x1="197.86" y1="458.10" x2="197.86" y2="460.90" stroke="#555" stroke-width="0.8"/>
<text x="200.16" y="466.40" font-size="7.8" fill="#383838" text-anchor="end" transform="rotate(-30 200.16 466.40)" dy="2.6">1</text>
<line x1="216.04" y1="458.10" x2="216.04" y2="460.90" stroke="#555" stroke-width="0.8"/>
<text x="218.34" y="466.40" font-size="7.8" fill="#383838" text-anchor="end" transform="rotate(-30 218.34 466.40)" dy="2.6">0.1</text>
<line x1="234.22" y1="458.10" x2="234.22" y2="460.90" stroke="#555" stroke-width="0.8"/>
<text x="236.52" y="466.40" font-size="7.8" fill="#383838" text-anchor="end" transform="rotate(-30 236.52 466.40)" dy="2.6">0.01</text>
<line x1="252.40" y1="458.10" x2="252.40" y2="460.90" stroke="#555" stroke-width="0.8"/>
<text x="254.70" y="466.40" font-size="7.8" fill="#383838" text-anchor="end" transform="rotate(-30 254.70 466.40)" dy="2.6">0.001</text>
<text x="207.00" y="355.70" font-size="8.6" text-anchor="middle" fill="#383838" font-weight="normal">EID</text>
<polyline points="161.50,365.40 179.68,366.70 197.86,376.90 216.04,393.80 234.22,414.20 252.40,454.10" fill="none" stroke="#2b7fc0" stroke-width="1.0"/>
<circle cx="161.50" cy="365.40" r="1.4" fill="#2b7fc0"/>
<circle cx="179.68" cy="366.70" r="1.4" fill="#2b7fc0"/>
<circle cx="197.86" cy="376.90" r="1.4" fill="#2b7fc0"/>
<circle cx="216.04" cy="393.80" r="1.4" fill="#2b7fc0"/>
<circle cx="234.22" cy="414.20" r="1.4" fill="#2b7fc0"/>
<circle cx="252.40" cy="454.10" r="1.4" fill="#2b7fc0"/>
<polyline points="161.50,365.40 179.68,365.40 197.86,366.70 216.04,371.60 234.22,383.80 252.40,426.60" fill="none" stroke="#f98a1f" stroke-width="1.0"/>
<circle cx="161.50" cy="365.40" r="1.4" fill="#f98a1f"/>
<circle cx="179.68" cy="365.40" r="1.4" fill="#f98a1f"/>
<circle cx="197.86" cy="366.70" r="1.4" fill="#f98a1f"/>
<circle cx="216.04" cy="371.60" r="1.4" fill="#f98a1f"/>
<circle cx="234.22" cy="383.80" r="1.4" fill="#f98a1f"/>
<circle cx="252.40" cy="426.60" r="1.4" fill="#f98a1f"/>
<circle cx="197.86" cy="376.90" r="2.0" fill="#1a66a8" stroke="#1a2a40" stroke-width="0.7"/>
<circle cx="197.86" cy="366.70" r="2.0" fill="#f98a1f" stroke="#444" stroke-width="0.6"/>
<text x="200.50" y="366.50" font-size="7.5" text-anchor="start" fill="#383838" font-weight="normal">99.1%</text>
<text x="197.70" y="384.70" font-size="7.5" text-anchor="end" fill="#383838" font-weight="normal">87.3%</text>
<rect x="35.60" y="499.40" width="99.80" height="96.80" fill="none" stroke="#c4c4c4" stroke-width="1.0"/>
<line x1="32.60" y1="503.30" x2="35.60" y2="503.30" stroke="#555" stroke-width="0.8"/>
<text x="28.90" y="506.18" font-size="8.0" text-anchor="end" fill="#383838" font-weight="normal">100</text>
<line x1="33.80" y1="512.60" x2="35.60" y2="512.60" stroke="#555" stroke-width="0.7"/>
<line x1="32.60" y1="521.90" x2="35.60" y2="521.90" stroke="#555" stroke-width="0.8"/>
<text x="28.90" y="524.78" font-size="8.0" text-anchor="end" fill="#383838" font-weight="normal">80</text>
<line x1="33.80" y1="531.20" x2="35.60" y2="531.20" stroke="#555" stroke-width="0.7"/>
<line x1="32.60" y1="540.50" x2="35.60" y2="540.50" stroke="#555" stroke-width="0.8"/>
<text x="28.90" y="543.38" font-size="8.0" text-anchor="end" fill="#383838" font-weight="normal">60</text>
<line x1="33.80" y1="549.90" x2="35.60" y2="549.90" stroke="#555" stroke-width="0.7"/>
<line x1="32.60" y1="559.30" x2="35.60" y2="559.30" stroke="#555" stroke-width="0.8"/>
<text x="28.90" y="562.18" font-size="8.0" text-anchor="end" fill="#383838" font-weight="normal">40</text>
<line x1="33.80" y1="568.70" x2="35.60" y2="568.70" stroke="#555" stroke-width="0.7"/>
<line x1="32.60" y1="578.10" x2="35.60" y2="578.10" stroke="#555" stroke-width="0.8"/>
<text x="28.90" y="580.98" font-size="8.0" text-anchor="end" fill="#383838" font-weight="normal">20</text>
<line x1="33.80" y1="587.30" x2="35.60" y2="587.30" stroke="#555" stroke-width="0.7"/>
<line x1="32.60" y1="596.50" x2="35.60" y2="596.50" stroke="#555" stroke-width="0.8"/>
<text x="28.90" y="599.38" font-size="8.0" text-anchor="end" fill="#383838" font-weight="normal">0</text>
<line x1="39.70" y1="596.20" x2="39.70" y2="599.00" stroke="#555" stroke-width="0.8"/>
<text x="42.00" y="604.50" font-size="7.8" fill="#383838" text-anchor="end" transform="rotate(-30 42.00 604.50)" dy="2.6">100</text>
<line x1="57.92" y1="596.20" x2="57.92" y2="599.00" stroke="#555" stroke-width="0.8"/>
<text x="60.22" y="604.50" font-size="7.8" fill="#383838" text-anchor="end" transform="rotate(-30 60.22 604.50)" dy="2.6">10</text>
<line x1="76.14" y1="596.20" x2="76.14" y2="599.00" stroke="#555" stroke-width="0.8"/>
<text x="78.44" y="604.50" font-size="7.8" fill="#383838" text-anchor="end" transform="rotate(-30 78.44 604.50)" dy="2.6">1</text>
<line x1="94.36" y1="596.20" x2="94.36" y2="599.00" stroke="#555" stroke-width="0.8"/>
<text x="96.66" y="604.50" font-size="7.8" fill="#383838" text-anchor="end" transform="rotate(-30 96.66 604.50)" dy="2.6">0.1</text>
<line x1="112.58" y1="596.20" x2="112.58" y2="599.00" stroke="#555" stroke-width="0.8"/>
<text x="114.88" y="604.50" font-size="7.8" fill="#383838" text-anchor="end" transform="rotate(-30 114.88 604.50)" dy="2.6">0.01</text>
<line x1="130.80" y1="596.20" x2="130.80" y2="599.00" stroke="#555" stroke-width="0.8"/>
<text x="133.10" y="604.50" font-size="7.8" fill="#383838" text-anchor="end" transform="rotate(-30 133.10 604.50)" dy="2.6">0.001</text>
<text x="85.50" y="493.90" font-size="8.6" text-anchor="middle" fill="#383838" font-weight="normal">HCD</text>
<text x="85.50" y="626.43" font-size="8.7" text-anchor="middle" fill="#383838" font-weight="normal">FDR, %</text>
<polyline points="39.70,503.30 57.92,506.30 76.14,518.20 94.36,533.80 112.58,556.80 130.80,579.00" fill="none" stroke="#2b7fc0" stroke-width="1.0"/>
<circle cx="39.70" cy="503.30" r="1.4" fill="#2b7fc0"/>
<circle cx="57.92" cy="506.30" r="1.4" fill="#2b7fc0"/>
<circle cx="76.14" cy="518.20" r="1.4" fill="#2b7fc0"/>
<circle cx="94.36" cy="533.80" r="1.4" fill="#2b7fc0"/>
<circle cx="112.58" cy="556.80" r="1.4" fill="#2b7fc0"/>
<circle cx="130.80" cy="579.00" r="1.4" fill="#2b7fc0"/>
<polyline points="39.70,503.30 57.92,503.70 76.14,505.60 94.36,512.50 112.58,526.90 130.80,564.10" fill="none" stroke="#f98a1f" stroke-width="1.0"/>
<circle cx="39.70" cy="503.30" r="1.4" fill="#f98a1f"/>
<circle cx="57.92" cy="503.70" r="1.4" fill="#f98a1f"/>
<circle cx="76.14" cy="505.60" r="1.4" fill="#f98a1f"/>
<circle cx="94.36" cy="512.50" r="1.4" fill="#f98a1f"/>
<circle cx="112.58" cy="526.90" r="1.4" fill="#f98a1f"/>
<circle cx="130.80" cy="564.10" r="1.4" fill="#f98a1f"/>
<circle cx="76.14" cy="518.20" r="2.0" fill="#1a66a8" stroke="#1a2a40" stroke-width="0.7"/>
<circle cx="76.14" cy="505.60" r="2.0" fill="#f98a1f" stroke="#444" stroke-width="0.6"/>
<text x="77.60" y="506.00" font-size="7.5" text-anchor="start" fill="#383838" font-weight="normal">97.5%</text>
<text x="74.60" y="526.60" font-size="7.5" text-anchor="end" fill="#383838" font-weight="normal">84.1%</text>
<rect x="157.50" y="499.30" width="99.70" height="96.80" fill="none" stroke="#c4c4c4" stroke-width="1.0"/>
<line x1="154.50" y1="503.70" x2="157.50" y2="503.70" stroke="#555" stroke-width="0.8"/>
<text x="150.80" y="506.58" font-size="8.0" text-anchor="end" fill="#383838" font-weight="normal">100</text>
<line x1="155.70" y1="513.00" x2="157.50" y2="513.00" stroke="#555" stroke-width="0.7"/>
<line x1="154.50" y1="522.30" x2="157.50" y2="522.30" stroke="#555" stroke-width="0.8"/>
<text x="150.80" y="525.18" font-size="8.0" text-anchor="end" fill="#383838" font-weight="normal">80</text>
<line x1="155.70" y1="531.70" x2="157.50" y2="531.70" stroke="#555" stroke-width="0.7"/>
<line x1="154.50" y1="541.10" x2="157.50" y2="541.10" stroke="#555" stroke-width="0.8"/>
<text x="150.80" y="543.98" font-size="8.0" text-anchor="end" fill="#383838" font-weight="normal">60</text>
<line x1="155.70" y1="550.25" x2="157.50" y2="550.25" stroke="#555" stroke-width="0.7"/>
<line x1="154.50" y1="559.40" x2="157.50" y2="559.40" stroke="#555" stroke-width="0.8"/>
<text x="150.80" y="562.28" font-size="8.0" text-anchor="end" fill="#383838" font-weight="normal">40</text>
<line x1="155.70" y1="568.80" x2="157.50" y2="568.80" stroke="#555" stroke-width="0.7"/>
<line x1="154.50" y1="578.20" x2="157.50" y2="578.20" stroke="#555" stroke-width="0.8"/>
<text x="150.80" y="581.08" font-size="8.0" text-anchor="end" fill="#383838" font-weight="normal">20</text>
<line x1="155.70" y1="587.35" x2="157.50" y2="587.35" stroke="#555" stroke-width="0.7"/>
<line x1="154.50" y1="596.50" x2="157.50" y2="596.50" stroke="#555" stroke-width="0.8"/>
<text x="150.80" y="599.38" font-size="8.0" text-anchor="end" fill="#383838" font-weight="normal">0</text>
<line x1="161.60" y1="596.10" x2="161.60" y2="598.90" stroke="#555" stroke-width="0.8"/>
<text x="163.90" y="604.40" font-size="7.8" fill="#383838" text-anchor="end" transform="rotate(-30 163.90 604.40)" dy="2.6">100</text>
<line x1="179.80" y1="596.10" x2="179.80" y2="598.90" stroke="#555" stroke-width="0.8"/>
<text x="182.10" y="604.40" font-size="7.8" fill="#383838" text-anchor="end" transform="rotate(-30 182.10 604.40)" dy="2.6">10</text>
<line x1="198.00" y1="596.10" x2="198.00" y2="598.90" stroke="#555" stroke-width="0.8"/>
<text x="200.30" y="604.40" font-size="7.8" fill="#383838" text-anchor="end" transform="rotate(-30 200.30 604.40)" dy="2.6">1</text>
<line x1="216.20" y1="596.10" x2="216.20" y2="598.90" stroke="#555" stroke-width="0.8"/>
<text x="218.50" y="604.40" font-size="7.8" fill="#383838" text-anchor="end" transform="rotate(-30 218.50 604.40)" dy="2.6">0.1</text>
<line x1="234.40" y1="596.10" x2="234.40" y2="598.90" stroke="#555" stroke-width="0.8"/>
<text x="236.70" y="604.40" font-size="7.8" fill="#383838" text-anchor="end" transform="rotate(-30 236.70 604.40)" dy="2.6">0.01</text>
<line x1="252.60" y1="596.10" x2="252.60" y2="598.90" stroke="#555" stroke-width="0.8"/>
<text x="254.90" y="604.40" font-size="7.8" fill="#383838" text-anchor="end" transform="rotate(-30 254.90 604.40)" dy="2.6">0.001</text>
<text x="207.35" y="493.80" font-size="8.6" text-anchor="middle" fill="#383838" font-weight="normal">UVPD</text>
<text x="207.35" y="626.33" font-size="8.7" text-anchor="middle" fill="#383838" font-weight="normal">FDR, %</text>
<polyline points="161.60,505.10 179.80,506.70 198.00,518.80 216.20,535.60 234.40,552.10 252.60,588.10" fill="none" stroke="#2b7fc0" stroke-width="1.0"/>
<circle cx="161.60" cy="505.10" r="1.4" fill="#2b7fc0"/>
<circle cx="179.80" cy="506.70" r="1.4" fill="#2b7fc0"/>
<circle cx="198.00" cy="518.80" r="1.4" fill="#2b7fc0"/>
<circle cx="216.20" cy="535.60" r="1.4" fill="#2b7fc0"/>
<circle cx="234.40" cy="552.10" r="1.4" fill="#2b7fc0"/>
<circle cx="252.60" cy="588.10" r="1.4" fill="#2b7fc0"/>
<polyline points="161.60,505.10 179.80,505.10 198.00,506.00 216.20,511.70 234.40,523.60 252.60,551.80" fill="none" stroke="#f98a1f" stroke-width="1.0"/>
<circle cx="161.60" cy="505.10" r="1.4" fill="#f98a1f"/>
<circle cx="179.80" cy="505.10" r="1.4" fill="#f98a1f"/>
<circle cx="198.00" cy="506.00" r="1.4" fill="#f98a1f"/>
<circle cx="216.20" cy="511.70" r="1.4" fill="#f98a1f"/>
<circle cx="234.40" cy="523.60" r="1.4" fill="#f98a1f"/>
<circle cx="252.60" cy="551.80" r="1.4" fill="#f98a1f"/>
<circle cx="198.00" cy="518.80" r="2.0" fill="#1a66a8" stroke="#1a2a40" stroke-width="0.7"/>
<circle cx="198.00" cy="506.00" r="2.0" fill="#f98a1f" stroke="#444" stroke-width="0.6"/>
<text x="198.80" y="506.40" font-size="7.5" text-anchor="start" fill="#383838" font-weight="normal">98.8%</text>
<text x="198.30" y="527.70" font-size="7.5" text-anchor="end" fill="#383838" font-weight="normal">85.3%</text>
<line x1="39.90" y1="442.60" x2="51.00" y2="442.60" stroke="#2b7fc0" stroke-width="1.0"/>
<circle cx="45.4" cy="442.6" r="1.5" fill="#2b7fc0"/>
<line x1="39.90" y1="449.90" x2="51.00" y2="449.90" stroke="#f98a1f" stroke-width="1.0"/>
<circle cx="45.4" cy="449.9" r="1.5" fill="#f98a1f"/>
<text x="55.00" y="445.48" font-size="8.0" text-anchor="start" fill="#383838" font-weight="normal">MSFragger</text>
<text x="55.00" y="452.78" font-size="8.0" text-anchor="start" fill="#383838" font-weight="normal">Oktoberfest</text>
<text x="6.50" y="476.03" font-size="8.7" text-anchor="middle" fill="#383838" font-weight="normal" transform="rotate(-90 6.50 472.90)">Estimated true positives (PSMs), (%)</text>
</svg></body></html>
